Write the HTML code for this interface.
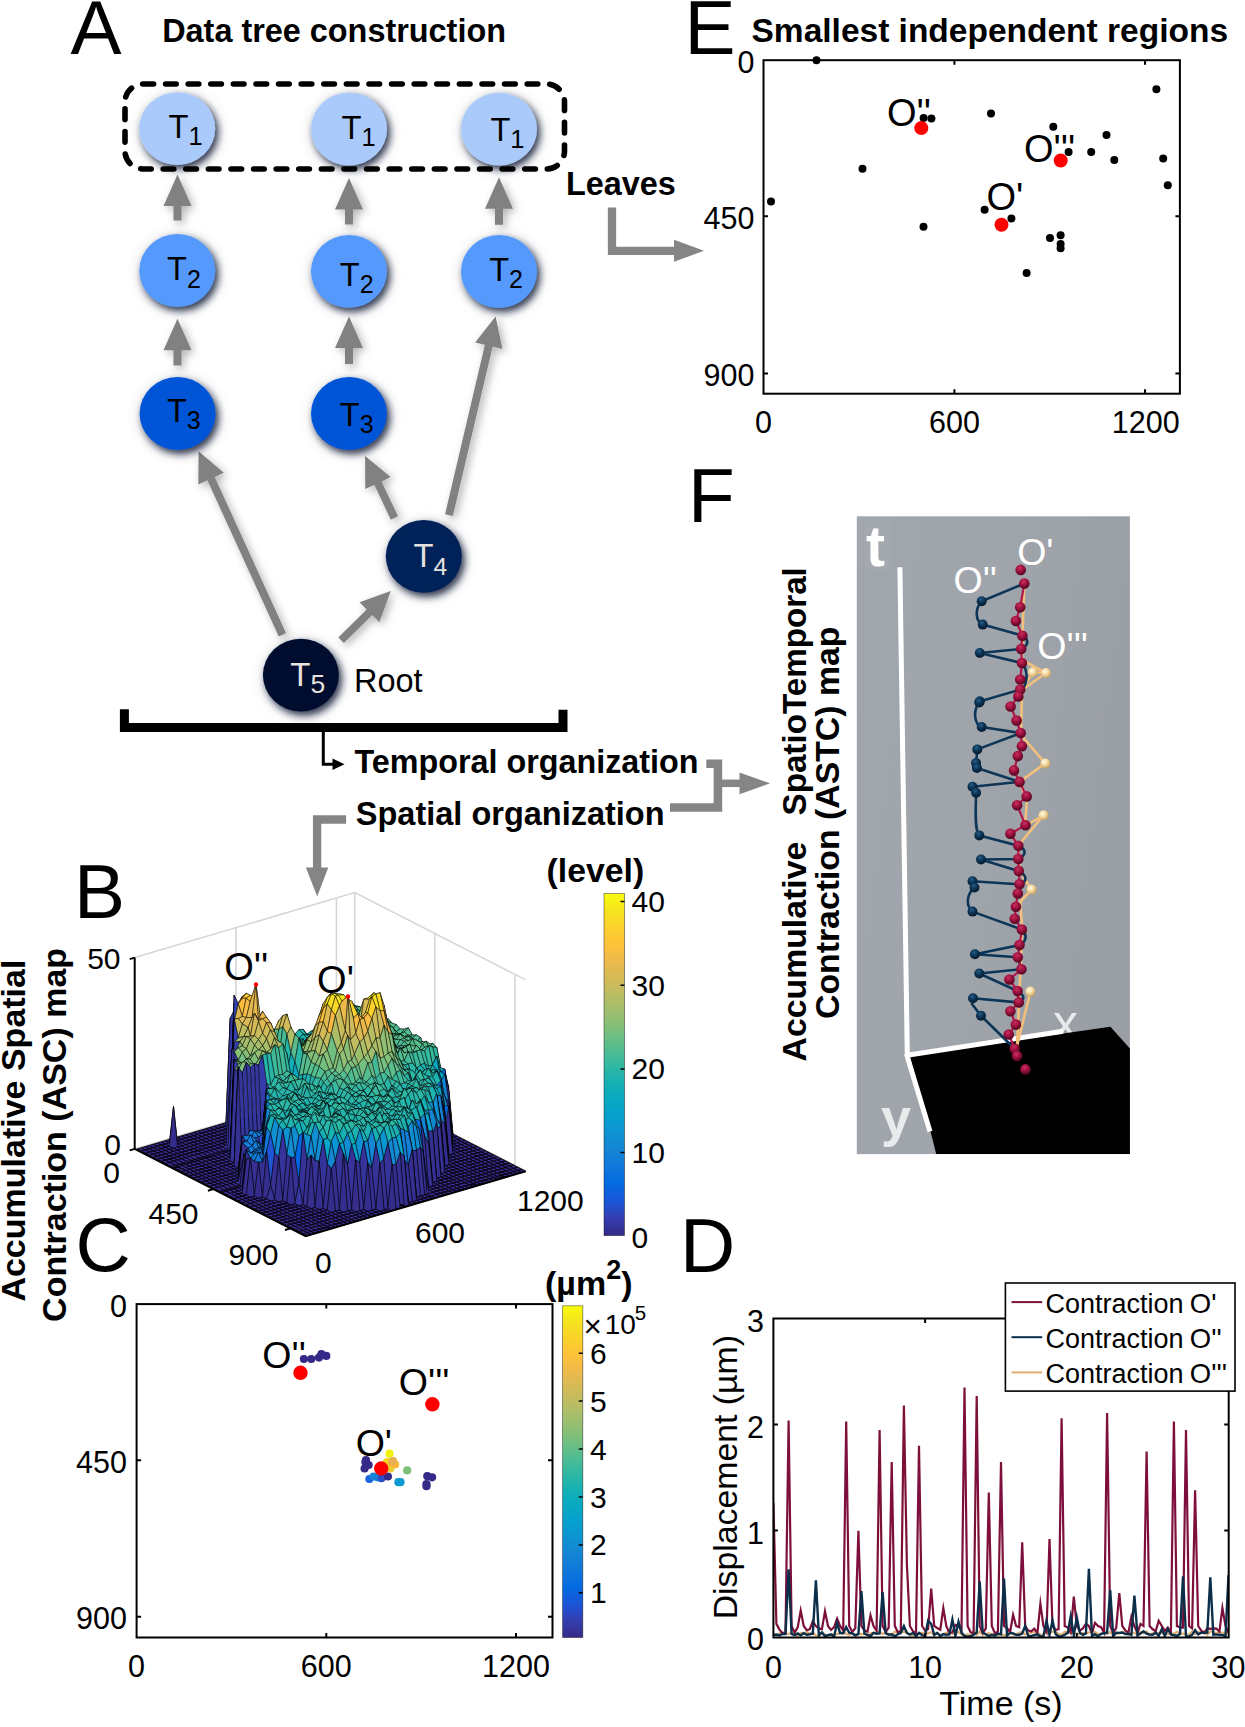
<!DOCTYPE html>
<html><head><meta charset="utf-8"><title>Figure</title>
<style>
html,body{margin:0;padding:0;background:#fff;}
svg{display:block;}
text{font-family:'Liberation Sans', Arial, Helvetica, sans-serif;}
.arr{fill:#818181;}
</style></head><body>
<svg width="1245" height="1727" viewBox="0 0 1245 1727">
<rect width="1245" height="1727" fill="#fff"/>

<defs>
<filter id="cshadow" x="-40%" y="-40%" width="190%" height="190%">
  <feGaussianBlur in="SourceAlpha" stdDeviation="7" result="b1"/>
  <feOffset in="b1" dx="1.5" dy="2.5" result="o1"/>
  <feFlood flood-color="#000" flood-opacity="0.25"/>
  <feComposite in2="o1" operator="in" result="s1"/>
  <feGaussianBlur in="SourceAlpha" stdDeviation="3.6" result="b2"/>
  <feOffset in="b2" dx="3.2" dy="4" result="o2"/>
  <feFlood flood-color="#1a2440" flood-opacity="0.85"/>
  <feComposite in2="o2" operator="in" result="s2"/>
  <feMerge><feMergeNode in="s1"/><feMergeNode in="s2"/><feMergeNode in="SourceGraphic"/></feMerge>
</filter>
<filter id="ashadow" x="-30%" y="-30%" width="160%" height="160%">
  <feGaussianBlur in="SourceAlpha" stdDeviation="4" result="b1"/>
  <feOffset in="b1" dx="3" dy="3" result="o1"/>
  <feFlood flood-color="#000" flood-opacity="0.3"/>
  <feComposite in2="o1" operator="in" result="s1"/>
  <feMerge><feMergeNode in="s1"/><feMergeNode in="SourceGraphic"/></feMerge>
</filter>
<linearGradient id="fbg" x1="0" y1="0" x2="1" y2="0.3">
<stop offset="0" stop-color="#a1a6ac"/><stop offset="0.5" stop-color="#a0a5ab"/><stop offset="1" stop-color="#9a9fa5"/></linearGradient>
<radialGradient id="gred" cx="0.42" cy="0.32" r="0.7"><stop offset="0" stop-color="#c8305e"/><stop offset="0.45" stop-color="#a01240"/><stop offset="1" stop-color="#4a061e"/></radialGradient>
<radialGradient id="gnavy" cx="0.42" cy="0.32" r="0.7"><stop offset="0" stop-color="#285e86"/><stop offset="0.45" stop-color="#0c3557"/><stop offset="1" stop-color="#03182a"/></radialGradient>
<radialGradient id="gtan" cx="0.4" cy="0.35" r="0.65"><stop offset="0" stop-color="#fffbe8"/><stop offset="0.5" stop-color="#f3d9a0"/><stop offset="1" stop-color="#c8a060"/></radialGradient>
<filter id="blur06"><feGaussianBlur stdDeviation="0.7"/></filter>
<clipPath id="dclip"><rect x="773.4" y="1300" width="455.3" height="337.4"/></clipPath>
</defs>

<text x="70.6" y="53.7" font-size="76.5">A</text>
<text x="162.2" y="41.5" font-size="32.4" font-weight="bold">Data tree construction</text>
<g filter="url(#ashadow)"><polygon points="177.5,174.5 191.5,206.0 181.5,206.0 181.5,220.5 173.5,220.5 173.5,206.0 163.5,206.0" class="arr"/><polygon points="349,178 363.0,209.5 353.0,209.5 353.0,224.6 345.0,224.6 345.0,209.5 335.0,209.5" class="arr"/><polygon points="499,177.3 513.0,208.8 503.0,208.8 503.0,224.7 495.0,224.7 495.0,208.8 485.0,208.8" class="arr"/><polygon points="177.5,318.8 191.5,350.3 181.5,350.3 181.5,365.5 173.5,365.5 173.5,350.3 163.5,350.3" class="arr"/><polygon points="349,316.4 363.0,347.9 353.0,347.9 353.0,364 345.0,364 345.0,347.9 335.0,347.9" class="arr"/><polygon points="198.6,451.3 223.8,472.8 214.7,476.9 286.0,633.1 278.8,636.5 207.4,480.3 198.3,484.4" class="arr"/><polygon points="365.1,456.0 390.6,477.1 381.5,481.4 398.0,516.3 390.8,519.7 374.3,484.8 365.3,489.1" class="arr"/><polygon points="390.8,591.1 379.3,622.2 372.3,615.0 343.9,643.1 338.3,637.5 366.7,609.4 359.6,602.3" class="arr"/><polygon points="495.6,316.5 502.4,348.9 492.6,346.6 452.9,516.1 445.1,514.3 484.9,344.8 475.1,342.5" class="arr"/></g>
<ellipse cx="177.2" cy="128.6" rx="38" ry="36.4" fill="#a9cafb" filter="url(#cshadow)"/>
<text x="168.60000000000002" y="137.8" font-size="32.7" fill="#000">T<tspan font-size="25.5" dy="7.2">1</tspan></text>
<ellipse cx="349" cy="129" rx="38" ry="36.4" fill="#a9cafb" filter="url(#cshadow)"/>
<text x="341.5" y="138.9" font-size="32.7" fill="#000">T<tspan font-size="25.5" dy="7.2">1</tspan></text>
<ellipse cx="499" cy="129.1" rx="38" ry="36.4" fill="#a9cafb" filter="url(#cshadow)"/>
<text x="490.40000000000003" y="141.2" font-size="32.7" fill="#000">T<tspan font-size="25.5" dy="7.2">1</tspan></text>
<ellipse cx="177.3" cy="270.5" rx="38" ry="36.4" fill="#5599fd" filter="url(#cshadow)"/>
<text x="167.10000000000002" y="280.4" font-size="32.5" fill="#000">T<tspan font-size="25" dy="7.2">2</tspan></text>
<ellipse cx="349" cy="271.3" rx="38" ry="36.4" fill="#5599fd" filter="url(#cshadow)"/>
<text x="339.8" y="285.8" font-size="32.5" fill="#000">T<tspan font-size="25" dy="7.2">2</tspan></text>
<ellipse cx="499" cy="271.5" rx="38" ry="36.4" fill="#5599fd" filter="url(#cshadow)"/>
<text x="489.2" y="280.5" font-size="32.5" fill="#000">T<tspan font-size="25" dy="7.2">2</tspan></text>
<ellipse cx="177.6" cy="413.5" rx="38" ry="36.4" fill="#0055d6" filter="url(#cshadow)"/>
<text x="167.0" y="421.7" font-size="32.5" fill="#000">T<tspan font-size="25" dy="7.2">3</tspan></text>
<ellipse cx="349" cy="413.5" rx="38" ry="36.4" fill="#0055d6" filter="url(#cshadow)"/>
<text x="339.8" y="425.8" font-size="32.5" fill="#000">T<tspan font-size="25" dy="7.2">3</tspan></text>
<ellipse cx="423.8" cy="556.3" rx="38" ry="36.4" fill="#002158" filter="url(#cshadow)"/>
<text x="413.6" y="567.4" font-size="32.7" fill="#e6e2df">T<tspan font-size="24.7" dy="7.2">4</tspan></text>
<ellipse cx="300.9" cy="675.1" rx="38" ry="36.4" fill="#02112e" filter="url(#cshadow)"/>
<text x="290.3" y="686.2" font-size="33" fill="#e6e2df">T<tspan font-size="26.5" dy="7.2">5</tspan></text>
<rect x="125" y="84" width="439.5" height="85" rx="18" ry="18" fill="none" stroke="#000" stroke-width="5.6" stroke-dasharray="10.6 12" stroke-linecap="round" stroke-dashoffset="0"/>
<text x="354" y="692.4" font-size="32.5">Root</text>
<text x="566" y="194.5" font-size="32.4" font-weight="bold">Leaves</text>
<path d="M612,207.4 V250.8 H690" fill="none" stroke="#858585" stroke-width="8.3"/>
<polygon points="704,250.8 674,239.8 674,261.8" fill="#858585"/>
<path d="M124.4,709.3 V727.6 H563 V709.7" fill="none" stroke="#000" stroke-width="9"/>
<path d="M323.3,732 V764.3 H336" fill="none" stroke="#000" stroke-width="3"/>
<polygon points="344.5,764.3 332.5,758.5 332.5,770" fill="#000"/>
<text x="354.5" y="772.6" font-size="32.3" font-weight="bold">Temporal organization</text>
<text x="355.8" y="825.2" font-size="32.5" font-weight="bold">Spatial organization</text>
<path d="M706.3,763.7 H717.9 V807.5 H670" fill="none" stroke="#858585" stroke-width="8.6"/>
<path d="M717.9,783.3 H745" fill="none" stroke="#858585" stroke-width="7.5"/>
<polygon points="770,783.3 739.5,772.4 739.5,794.2" fill="#858585"/>
<path d="M346.1,819.5 H317.1 V870" fill="none" stroke="#858585" stroke-width="8.3"/>
<polygon points="317.2,896.4 305.9,867.5 328.3,867.5" fill="#858585"/><text x="684.5" y="53.8" font-size="76.5">E</text>
<text x="751.5" y="41.6" font-size="33.5" font-weight="bold">Smallest independent regions</text>
<rect x="763.5" y="60.2" width="416.4000000000001" height="333.5" fill="none" stroke="#000" stroke-width="2"/>
<path d="M954.4,393.7 v-4.5 M954.4,60.2 v4.5 M1145,393.7 v-4.5 M1145,60.2 v4.5 M763.5,216.2 h4.5 M1179.9,216.2 h-4.5 M763.5,373.6 h4.5 M1179.9,373.6 h-4.5" stroke="#000" stroke-width="2" fill="none"/>
<text x="754.5" y="72.7" font-size="30.5" text-anchor="end">0</text>
<text x="754.5" y="228.7" font-size="30.5" text-anchor="end">450</text>
<text x="754.5" y="386.1" font-size="30.5" text-anchor="end">900</text>
<text x="763.5" y="432.9" font-size="30.5" text-anchor="middle">0</text>
<text x="954.4" y="432.9" font-size="30.5" text-anchor="middle">600</text>
<text x="1145.7" y="432.9" font-size="30.5" text-anchor="middle">1200</text>
<circle cx="816.5" cy="60.2" r="4" fill="#000"/>
<circle cx="862.5" cy="168.7" r="4" fill="#000"/>
<circle cx="771" cy="201.6" r="4" fill="#000"/>
<circle cx="923.5" cy="226.7" r="4" fill="#000"/>
<circle cx="923.6" cy="118" r="4" fill="#000"/>
<circle cx="931.4" cy="118.6" r="4" fill="#000"/>
<circle cx="991" cy="113.4" r="4" fill="#000"/>
<circle cx="1156.4" cy="89.3" r="4" fill="#000"/>
<circle cx="1053.3" cy="126.7" r="4" fill="#000"/>
<circle cx="1106.5" cy="135" r="4" fill="#000"/>
<circle cx="1068.6" cy="152" r="4" fill="#000"/>
<circle cx="1091.2" cy="152" r="4" fill="#000"/>
<circle cx="1114.3" cy="160.1" r="4" fill="#000"/>
<circle cx="1163.2" cy="158.6" r="4" fill="#000"/>
<circle cx="1167.8" cy="185.2" r="4" fill="#000"/>
<circle cx="984.6" cy="209.8" r="4" fill="#000"/>
<circle cx="1011.4" cy="218.5" r="4" fill="#000"/>
<circle cx="1050" cy="238" r="4" fill="#000"/>
<circle cx="1060.6" cy="235.2" r="4" fill="#000"/>
<circle cx="1060.6" cy="243.9" r="4" fill="#000"/>
<circle cx="1060.6" cy="248.2" r="4" fill="#000"/>
<circle cx="1026.6" cy="273.1" r="4" fill="#000"/>
<circle cx="921.3" cy="128.1" r="7" fill="#f00"/>
<circle cx="1060.7" cy="160.5" r="7" fill="#f00"/>
<circle cx="1001.5" cy="224.8" r="7" fill="#f00"/>
<text x="887" y="125.6" font-size="38">O''</text>
<text x="1024" y="161.8" font-size="38">O'''</text>
<text x="986.5" y="210.4" font-size="38">O'</text><text x="688" y="521.8" font-size="76.5">F</text>
<text transform="translate(805.7,1061.5) rotate(-90)" font-size="33.8" font-weight="bold">Accumulative</text>
<text transform="translate(805.7,815.5) rotate(-90)" font-size="33.2" font-weight="bold">SpatioTemporal</text>
<text transform="translate(839,1019) rotate(-90)" font-size="33.8" font-weight="bold">Contraction (ASTC) map</text>
<rect x="856.8" y="516.3" width="273.10000000000014" height="637.8" fill="url(#fbg)"/>
<rect x="864" y="519.5" width="28" height="50" fill="#a6abb0" opacity="0.6"/>
<text x="866" y="566" font-size="57" fill="#fff" font-weight="bold" font-family="DejaVu Sans, sans-serif" filter="url(#blur06)">t</text>
<text x="1053" y="1040" font-size="50" fill="#f2f2f2" font-family="DejaVu Sans, sans-serif" filter="url(#blur06)" opacity="0.9">x</text>
<polygon points="909.4,1055.4 1110.4,1026.8 1129.9,1048.4 1129.9,1154.1 936.2,1154.1 930.4,1131.1" fill="#000"/>
<g stroke="#fff" stroke-width="5" fill="none" stroke-linecap="butt"><path d="M899.9,567.2 L907.3,1055.5"/><path d="M905.5,1055.5 L1063,1031.3"/><path d="M906.5,1054 L930,1131.5"/></g>
<text x="881" y="1136" font-size="54" fill="#f2f2f2" font-weight="bold" font-family="DejaVu Sans, sans-serif" filter="url(#blur06)" opacity="0.9">y</text>
<path d="M1024.3,583.6 L1023,620 L1022,660 L1046,673 L1022,690 L1021,735 L1045.3,763.4 L1019.5,781.9 L1027,800 L1025,826 L1043.6,815.2 L1018,846 L1020,872 L1031.6,889.6 L1020,902 L1022,925 L1021,960 L1017,1046" fill="none" stroke="#f2bf7c" stroke-width="2.6" stroke-linejoin="round"/>
<path d="M1030.4,991.6 L1017,1046 M1046,673 L1032.8,672.3 L1022,690" fill="none" stroke="#f2bf7c" stroke-width="2.6"/>
<path d="M1024.3,583.6 L981.7,601.2 C974,610 976,622 982.7,624.6 L1022.4,635.7 C1030,640 1028,646 1021.2,648.9 L979.8,653 L1021.9,663.1 C1030,672 1026,690 1020.2,689.6 L979.5,701.5 C972,712 975,725 981.7,727 L1020.7,733 L977.3,749.4 L976.1,763.1 L976.9,768 L1019.5,781.9 L972.5,786.7 L976.1,792.8 C976,805 974,830 979.3,835.4 L1018.3,845.8 C1028,850 1025,856 1018.3,859 L981,859.5 L1018.8,871.1 C1028,876 1027,882 1019.5,884.3 L972.5,881.2 L974.5,887.5 C966,895 966,906 972.5,911.6 L1021.9,929.6 C1028,935 1026,942 1019.5,945.1 L974.9,954.2 L1017.8,957.3 L1021.4,969.2 L979.3,973.5 L1017.6,991.1 C1026,996 1024,1000 1018.8,1002.4 L973,998.3 L972,1004 L981,1015.7 L1014.7,1048.7" fill="none" stroke="#0c3558" stroke-width="2.6" stroke-linejoin="round"/>
<path d="M1024.3,583.6 L1020.2,607.2 L1015.9,621 L1022.4,635.7 L1021.2,648.9 L1021.9,663.1 L1020.2,679.5 L1020.2,689.6 L1018.3,696.4 L1010.6,706.5 L1016.6,720.5 L1020.7,733 L1021.9,746.3 L1017.8,756.1 L1014,770.4 L1019.5,781.9 L1026.7,796.4 L1017.1,805.3 L1025.5,825.3 L1010.4,833.7 L1018.3,845.8 L1018.3,859 L1018.8,871.1 L1019.5,884.3 L1017.8,893.5 L1015.9,906.7 L1014.7,918.8 L1021.9,929.6 L1019.5,945.1 L1017.8,957.3 L1021.4,969.2 L1009.4,979.5 L1017.6,991.1 L1018.8,1002.4 L1010.4,1011.3 L1015.9,1024.6 L1008.7,1034.5 L1014.7,1048.7 L1017.1,1056.1" fill="none" stroke="#b3174a" stroke-width="2.2"/>
<circle cx="981.7" cy="601.2" r="5" fill="url(#gnavy)"/>
<circle cx="982.7" cy="624.6" r="5" fill="url(#gnavy)"/>
<circle cx="979.8" cy="653" r="5" fill="url(#gnavy)"/>
<circle cx="979.8" cy="701.2" r="5" fill="url(#gnavy)"/>
<circle cx="979.3" cy="702.4" r="5" fill="url(#gnavy)"/>
<circle cx="981.7" cy="727" r="5" fill="url(#gnavy)"/>
<circle cx="977.3" cy="749.4" r="5" fill="url(#gnavy)"/>
<circle cx="976.1" cy="763.1" r="5" fill="url(#gnavy)"/>
<circle cx="976.9" cy="768" r="5" fill="url(#gnavy)"/>
<circle cx="972.5" cy="786.7" r="5" fill="url(#gnavy)"/>
<circle cx="976.1" cy="792.8" r="5" fill="url(#gnavy)"/>
<circle cx="979.3" cy="835.4" r="5" fill="url(#gnavy)"/>
<circle cx="981" cy="859.5" r="5" fill="url(#gnavy)"/>
<circle cx="972.5" cy="881.2" r="5" fill="url(#gnavy)"/>
<circle cx="974.5" cy="887.5" r="5" fill="url(#gnavy)"/>
<circle cx="972.5" cy="911.6" r="5" fill="url(#gnavy)"/>
<circle cx="974.9" cy="954.2" r="5" fill="url(#gnavy)"/>
<circle cx="979.3" cy="973.5" r="5" fill="url(#gnavy)"/>
<circle cx="973" cy="998.3" r="5" fill="url(#gnavy)"/>
<circle cx="981" cy="1015.7" r="5" fill="url(#gnavy)"/>
<circle cx="1046" cy="673" r="5" fill="url(#gtan)"/>
<circle cx="1032.8" cy="672.3" r="5" fill="url(#gtan)"/>
<circle cx="1045.3" cy="763.4" r="5" fill="url(#gtan)"/>
<circle cx="1043.6" cy="815.2" r="5" fill="url(#gtan)"/>
<circle cx="1031.6" cy="889.6" r="5" fill="url(#gtan)"/>
<circle cx="1030.4" cy="991.6" r="5" fill="url(#gtan)"/>
<circle cx="1020.7" cy="569.9" r="5.3" fill="url(#gred)"/>
<circle cx="1024.3" cy="583.6" r="5.3" fill="url(#gred)"/>
<circle cx="1020.2" cy="607.2" r="5.3" fill="url(#gred)"/>
<circle cx="1015.9" cy="621" r="5.3" fill="url(#gred)"/>
<circle cx="1022.4" cy="635.7" r="5.3" fill="url(#gred)"/>
<circle cx="1021.2" cy="648.9" r="5.3" fill="url(#gred)"/>
<circle cx="1021.9" cy="663.1" r="5.3" fill="url(#gred)"/>
<circle cx="1020.2" cy="679.5" r="5.3" fill="url(#gred)"/>
<circle cx="1020.2" cy="689.6" r="5.3" fill="url(#gred)"/>
<circle cx="1018.3" cy="696.4" r="5.3" fill="url(#gred)"/>
<circle cx="1010.6" cy="706.5" r="5.3" fill="url(#gred)"/>
<circle cx="1016.6" cy="720.5" r="5.3" fill="url(#gred)"/>
<circle cx="1020.7" cy="733" r="5.3" fill="url(#gred)"/>
<circle cx="1021.9" cy="746.3" r="5.3" fill="url(#gred)"/>
<circle cx="1017.8" cy="756.1" r="5.3" fill="url(#gred)"/>
<circle cx="1014" cy="770.4" r="5.3" fill="url(#gred)"/>
<circle cx="1019.5" cy="781.9" r="5.3" fill="url(#gred)"/>
<circle cx="1026.7" cy="796.4" r="5.3" fill="url(#gred)"/>
<circle cx="1017.1" cy="805.3" r="5.3" fill="url(#gred)"/>
<circle cx="1025.5" cy="825.3" r="5.3" fill="url(#gred)"/>
<circle cx="1010.4" cy="833.7" r="5.3" fill="url(#gred)"/>
<circle cx="1018.3" cy="845.8" r="5.3" fill="url(#gred)"/>
<circle cx="1018.3" cy="859" r="5.3" fill="url(#gred)"/>
<circle cx="1018.8" cy="871.1" r="5.3" fill="url(#gred)"/>
<circle cx="1019.5" cy="884.3" r="5.3" fill="url(#gred)"/>
<circle cx="1017.8" cy="893.5" r="5.3" fill="url(#gred)"/>
<circle cx="1015.9" cy="906.7" r="5.3" fill="url(#gred)"/>
<circle cx="1014.7" cy="918.8" r="5.3" fill="url(#gred)"/>
<circle cx="1021.9" cy="929.6" r="5.3" fill="url(#gred)"/>
<circle cx="1019.5" cy="945.1" r="5.3" fill="url(#gred)"/>
<circle cx="1017.8" cy="957.3" r="5.3" fill="url(#gred)"/>
<circle cx="1021.4" cy="969.2" r="5.3" fill="url(#gred)"/>
<circle cx="1009.4" cy="979.5" r="5.3" fill="url(#gred)"/>
<circle cx="1017.6" cy="991.1" r="5.3" fill="url(#gred)"/>
<circle cx="1018.8" cy="1002.4" r="5.3" fill="url(#gred)"/>
<circle cx="1010.4" cy="1011.3" r="5.3" fill="url(#gred)"/>
<circle cx="1015.9" cy="1024.6" r="5.3" fill="url(#gred)"/>
<circle cx="1008.7" cy="1034.5" r="5.3" fill="url(#gred)"/>
<circle cx="1014.7" cy="1048.7" r="5.3" fill="url(#gred)"/>
<circle cx="1017.1" cy="1056.1" r="5.3" fill="url(#gred)"/>
<circle cx="1025.5" cy="1069.4" r="5.3" fill="url(#gred)"/>
<g fill="#fff" font-size="37.5"><text x="1017.2" y="564.6">O'</text><text x="953.5" y="592.8">O''</text><text x="1037.3" y="658.6">O'''</text></g><text x="74" y="917.6" font-size="76.5">B</text>
<path d="M134.7,957.6 L354.7,892.6 L525.7,979.9 M354.7,892.6 L354.7,1083.9 M235.9,927.7 L235.9,1119.0 M336.4,898.0 L336.4,1089.3 M434.8,933.5 L434.8,1124.8 M514.9,974.4 L514.9,1165.7 M134.7,1148.9 L354.7,1083.9 L525.7,1171.2" stroke="#d6d6d6" stroke-width="1.6" fill="none"/>
<polygon points="137.0,1149.0 355.7,1084.4 525.7,1171.2 307.0,1235.8" fill="#3b2c93"/>
<path d="M137.0,1149.0L307.0,1235.8M141.1,1147.8L311.1,1234.6M145.1,1146.6L315.1,1233.4M149.2,1145.4L319.2,1232.2M153.2,1144.2L323.2,1231.0M157.3,1143.1L327.3,1229.8M161.3,1141.9L331.3,1228.6M165.4,1140.7L335.4,1227.4M169.4,1139.5L339.4,1226.2M173.5,1138.3L343.5,1225.0M177.5,1137.1L347.5,1223.8M181.6,1135.9L351.6,1222.6M185.6,1134.7L355.6,1221.5M189.7,1133.5L359.7,1220.3M193.7,1132.3L363.7,1219.1M197.8,1131.1L367.8,1217.9M201.8,1129.9L371.8,1216.7M205.9,1128.7L375.9,1215.5M209.9,1127.5L379.9,1214.3M214.0,1126.3L384.0,1213.1M218.0,1125.1L388.0,1211.9M221.9,1124.0L391.8,1210.8M226.1,1122.7L396.1,1209.5M230.2,1121.5L400.2,1208.3M234.2,1120.3L404.2,1207.1M238.3,1119.1L408.3,1205.9M242.3,1117.9L412.3,1204.7M246.4,1116.7L416.4,1203.5M250.4,1115.5L420.4,1202.3M254.5,1114.3L424.5,1201.1M258.5,1113.1L428.5,1199.9M262.6,1111.9L432.6,1198.7M265.2,1111.2L435.2,1197.9M270.7,1109.5L440.7,1196.3M274.7,1108.4L444.7,1195.1M278.8,1107.2L448.8,1193.9M282.8,1106.0L452.8,1192.7M286.9,1104.8L456.9,1191.5M290.9,1103.6L460.9,1190.3M295.0,1102.4L465.0,1189.1M299.0,1101.2L469.0,1188.0M303.1,1100.0L473.1,1186.8M307.1,1098.8L477.1,1185.6M311.2,1097.6L481.2,1184.4M315.2,1096.4L485.2,1183.2M319.3,1095.2L489.3,1182.0M323.3,1094.0L493.3,1180.8M327.4,1092.8L497.4,1179.6M331.4,1091.6L501.4,1178.4M335.5,1090.4L505.5,1177.2M339.5,1089.2L509.5,1176.0M343.6,1088.0L513.6,1174.8M347.6,1086.8L517.6,1173.6M351.7,1085.6L521.7,1172.4M355.7,1084.4L525.7,1171.2M137.0,1149.0L355.7,1084.4M141.1,1151.1L359.8,1086.5M145.1,1153.2L363.8,1088.6M149.2,1155.2L367.9,1090.6M153.2,1157.3L371.9,1092.7M157.3,1159.4L376.0,1094.8M161.3,1161.4L380.0,1096.8M165.4,1163.5L384.1,1098.9M171.2,1166.5L389.9,1101.8M173.5,1167.6L392.1,1103.0M177.5,1169.7L396.2,1105.1M181.6,1171.8L400.2,1107.2M185.6,1173.8L404.3,1109.2M189.7,1175.9L408.3,1111.3M193.7,1178.0L412.4,1113.3M197.8,1180.0L416.4,1115.4M201.8,1182.1L420.5,1117.5M205.8,1184.2L424.5,1119.5M209.9,1186.2L428.6,1121.6M213.9,1188.3L432.6,1123.7M219.8,1191.3L438.5,1126.7M222.0,1192.4L440.7,1127.8M226.1,1194.5L444.8,1129.9M230.1,1196.6L448.8,1131.9M234.2,1198.6L452.9,1134.0M238.2,1200.7L456.9,1136.1M242.3,1202.8L460.9,1138.1M246.3,1204.8L465.0,1140.2M250.4,1206.9L469.0,1142.3M254.4,1209.0L473.1,1144.3M258.5,1211.0L477.1,1146.4M262.5,1213.1L481.2,1148.5M266.5,1215.1L485.2,1150.5M270.6,1217.2L489.3,1152.6M274.6,1219.3L493.3,1154.7M278.7,1221.3L497.4,1156.7M282.7,1223.4L501.4,1158.8M286.8,1225.5L505.5,1160.9M290.8,1227.5L509.5,1162.9M294.9,1229.6L513.6,1165.0M298.9,1231.7L517.6,1167.1M303.0,1233.7L521.7,1169.1M307.0,1235.8L525.7,1171.2" stroke="#000" stroke-width="1.1" stroke-opacity="0.85" fill="none"/>
<g stroke="#000" stroke-width="0.6" stroke-opacity="0.85" stroke-linejoin="round"><path d="M351.7,1045.2L355.7,1044.4L359.8,1041.2L355.7,1028.2Z" fill="#0e91d2"/><path d="M347.6,1039.0L351.7,1045.2L355.7,1028.2L351.7,1026.5Z" fill="#079dcf"/><path d="M355.7,1028.2L359.8,1041.2L363.8,1043.8L359.8,1025.0Z" fill="#069ece"/><path d="M343.6,1048.8L347.6,1039.0L351.7,1026.5L347.6,1021.6Z" fill="#1486d3"/><path d="M351.7,1026.5L355.7,1028.2L359.8,1025.0L355.7,1005.8Z" fill="#06a7c5"/><path d="M339.5,1038.3L343.6,1048.8L347.6,1021.6L343.6,1021.0Z" fill="#1487d3"/><path d="M359.8,1025.0L363.8,1043.8L367.9,1052.0L363.8,1026.4Z" fill="#1485d4"/><path d="M347.6,1021.6L351.7,1026.5L355.7,1005.8L351.7,1002.8Z" fill="#09abbf"/><path d="M335.5,1043.6L339.5,1038.3L343.6,1021.0L339.5,1036.1Z" fill="#0c94d2"/><path d="M355.7,1005.8L359.8,1025.0L363.8,1026.4L359.8,1006.7Z" fill="#28b6a8"/><path d="M343.6,1021.0L347.6,1021.6L351.7,1002.8L347.6,1010.0Z" fill="#31b8a2"/><path d="M331.4,1043.9L335.5,1043.6L339.5,1036.1L335.5,1034.8Z" fill="#079dcf"/><path d="M363.8,1026.4L367.9,1052.0L371.9,1048.7L367.9,1029.3Z" fill="#1485d4"/><path d="M351.7,1002.8L355.7,1005.8L359.8,1006.7L355.7,1006.9Z" fill="#58bd8c"/><path d="M339.5,1036.1L343.6,1021.0L347.6,1010.0L343.6,1007.1Z" fill="#06a5c8"/><path d="M327.4,1041.5L331.4,1043.9L335.5,1034.8L331.4,1028.5Z" fill="#06a2cb"/><path d="M359.8,1006.7L363.8,1026.4L367.9,1029.3L363.8,1009.3Z" fill="#28b6a8"/><path d="M347.6,1010.0L351.7,1002.8L355.7,1006.9L351.7,1008.7Z" fill="#57bd8d"/><path d="M335.5,1034.8L339.5,1036.1L343.6,1007.1L339.5,1012.2Z" fill="#06a4c9"/><path d="M367.9,1029.3L371.9,1048.7L376.0,1051.7L371.9,1028.8Z" fill="#118dd2"/><path d="M323.3,1079.3L327.4,1041.5L331.4,1028.5L327.4,1028.9Z" fill="#0b5edf"/><path d="M355.7,1006.9L359.8,1006.7L363.8,1009.3L359.8,1010.9Z" fill="#54bd8e"/><path d="M343.6,1007.1L347.6,1010.0L351.7,1008.7L347.6,1007.0Z" fill="#57bd8c"/><path d="M331.4,1028.5L335.5,1034.8L339.5,1012.2L335.5,1013.7Z" fill="#06a7c5"/><path d="M363.8,1009.3L367.9,1029.3L371.9,1028.8L367.9,1009.5Z" fill="#0cadbc"/><path d="M319.3,1050.9L323.3,1079.3L327.4,1028.9L323.3,1033.3Z" fill="#0c5dde"/><path d="M351.7,1008.7L355.7,1006.9L359.8,1010.9L355.7,1009.4Z" fill="#58bd8c"/><path d="M339.5,1012.2L343.6,1007.1L347.6,1007.0L343.6,1013.4Z" fill="#55bd8e"/><path d="M371.9,1028.8L376.0,1051.7L380.0,1055.2L376.0,1039.8Z" fill="#138ad3"/><path d="M327.4,1028.9L331.4,1028.5L335.5,1013.7L331.4,1012.6Z" fill="#28b6a7"/><path d="M359.8,1010.9L363.8,1009.3L367.9,1009.5L363.8,1012.4Z" fill="#54bd8e"/><path d="M315.2,1053.0L319.3,1050.9L323.3,1033.3L319.3,1033.5Z" fill="#069fce"/><path d="M347.6,1007.0L351.7,1008.7L355.7,1009.4L351.7,1010.6Z" fill="#5ebe89"/><path d="M335.5,1013.7L339.5,1012.2L343.6,1013.4L339.5,1011.7Z" fill="#4dbc92"/><path d="M367.9,1009.5L371.9,1028.8L376.0,1039.8L371.9,1012.8Z" fill="#06a7c6"/><path d="M323.3,1033.3L327.4,1028.9L331.4,1012.6L327.4,1015.3Z" fill="#27b5a8"/><path d="M355.7,1009.4L359.8,1010.9L363.8,1012.4L359.8,1014.2Z" fill="#54bd8e"/><path d="M311.2,1058.5L315.2,1053.0L319.3,1033.5L315.2,1038.5Z" fill="#1486d4"/><path d="M343.6,1013.4L347.6,1007.0L351.7,1010.6L347.6,1012.1Z" fill="#5abd8b"/><path d="M376.0,1039.8L380.0,1055.2L384.1,1047.8L380.0,1033.1Z" fill="#128ad3"/><path d="M331.4,1012.6L335.5,1013.7L339.5,1011.7L335.5,1011.5Z" fill="#54bd8e"/><path d="M363.8,1012.4L367.9,1009.5L371.9,1012.8L367.9,1014.3Z" fill="#56bd8d"/><path d="M319.3,1033.5L323.3,1033.3L327.4,1015.3L323.3,1010.8Z" fill="#0bacbd"/><path d="M351.7,1010.6L355.7,1009.4L359.8,1014.2L355.7,1015.3Z" fill="#57bd8d"/><path d="M307.1,1058.1L311.2,1058.5L315.2,1038.5L311.2,1034.7Z" fill="#1486d4"/><path d="M339.5,1011.7L343.6,1013.4L347.6,1012.1L343.6,1017.0Z" fill="#53bd8f"/><path d="M371.9,1012.8L376.0,1039.8L380.0,1033.1L376.0,1017.0Z" fill="#06a7c6"/><path d="M327.4,1015.3L331.4,1012.6L335.5,1011.5L331.4,1015.8Z" fill="#53bd8e"/><path d="M359.8,1014.2L363.8,1012.4L367.9,1014.3L363.8,1017.0Z" fill="#51bd90"/><path d="M315.2,1038.5L319.3,1033.5L323.3,1010.8L319.3,1023.9Z" fill="#07a9c2"/><path d="M347.6,1012.1L351.7,1010.6L355.7,1015.3L351.7,1014.7Z" fill="#59bd8c"/><path d="M303.1,1079.3L307.1,1058.1L311.2,1034.7L307.1,1035.2Z" fill="#036ae1"/><path d="M335.5,1011.5L339.5,1011.7L343.6,1017.0L339.5,1017.4Z" fill="#55bd8e"/><path d="M367.9,1014.3L371.9,1012.8L376.0,1017.0L371.9,1013.2Z" fill="#56bd8d"/><path d="M323.3,1010.8L327.4,1015.3L331.4,1015.8L327.4,1016.1Z" fill="#56bd8d"/><path d="M380.0,1033.1L384.1,1047.8L389.9,1057.3L385.8,1032.4Z" fill="#0f90d2"/><path d="M355.7,1015.3L359.8,1014.2L363.8,1017.0L359.8,1014.8Z" fill="#53bd8f"/><path d="M311.2,1034.7L315.2,1038.5L319.3,1023.9L315.2,1032.2Z" fill="#14b0b6"/><path d="M343.6,1017.0L347.6,1012.1L351.7,1014.7L347.6,1017.8Z" fill="#54bd8e"/><path d="M299.0,1058.5L303.1,1079.3L307.1,1035.2L303.1,1040.2Z" fill="#036ae1"/><path d="M331.4,1015.8L335.5,1011.5L339.5,1017.4L335.5,1018.5Z" fill="#54bd8e"/><path d="M363.8,1017.0L367.9,1014.3L371.9,1013.2L367.9,1020.0Z" fill="#53bd8f"/><path d="M319.3,1023.9L323.3,1010.8L327.4,1016.1L323.3,1027.3Z" fill="#44bb97"/><path d="M376.0,1017.0L380.0,1033.1L385.8,1032.4L381.8,1015.1Z" fill="#30b7a2"/><path d="M351.7,1014.7L355.7,1015.3L359.8,1014.8L355.7,1019.1Z" fill="#55bd8d"/><path d="M307.1,1035.2L311.2,1034.7L315.2,1032.2L311.2,1031.1Z" fill="#14b0b5"/><path d="M339.5,1017.4L343.6,1017.0L347.6,1017.8L343.6,1020.4Z" fill="#4dbc92"/><path d="M295.0,1056.0L299.0,1058.5L303.1,1040.2L299.0,1040.0Z" fill="#069fce"/><path d="M327.4,1016.1L331.4,1015.8L335.5,1018.5L331.4,1016.1Z" fill="#55bd8d"/><path d="M385.8,1032.4L389.9,1057.3L392.1,1060.3L388.1,1039.6Z" fill="#118cd2"/><path d="M359.8,1014.8L363.8,1017.0L367.9,1020.0L363.8,1020.0Z" fill="#50bc90"/><path d="M315.2,1032.2L319.3,1023.9L323.3,1027.3L319.3,1029.9Z" fill="#26b5a9"/><path d="M371.9,1013.2L376.0,1017.0L381.8,1015.1L377.7,1021.2Z" fill="#57bd8d"/><path d="M347.6,1017.8L351.7,1014.7L355.7,1019.1L351.7,1014.3Z" fill="#58bd8c"/><path d="M303.1,1040.2L307.1,1035.2L311.2,1031.1L307.1,1034.1Z" fill="#12b0b6"/><path d="M335.5,1018.5L339.5,1017.4L343.6,1020.4L339.5,1020.7Z" fill="#4dbc92"/><path d="M290.9,1059.5L295.0,1056.0L299.0,1040.0L295.0,1038.0Z" fill="#108fd2"/><path d="M323.3,1027.3L327.4,1016.1L331.4,1016.1L327.4,1030.2Z" fill="#40ba99"/><path d="M381.8,1015.1L385.8,1032.4L388.1,1039.6L384.0,1023.0Z" fill="#0cadbc"/><path d="M355.7,1019.1L359.8,1014.8L363.8,1020.0L359.8,1027.3Z" fill="#4bbc93"/><path d="M311.2,1031.1L315.2,1032.2L319.3,1029.9L315.2,1029.3Z" fill="#22b4ab"/><path d="M367.9,1020.0L371.9,1013.2L377.7,1021.2L373.7,1013.1Z" fill="#5bbe8a"/><path d="M388.1,1039.6L392.1,1060.3L396.2,1079.7L392.1,1043.1Z" fill="#0971de"/><path d="M343.6,1020.4L347.6,1017.8L351.7,1014.3L347.6,1024.1Z" fill="#52bd8f"/><path d="M299.0,1040.0L303.1,1040.2L307.1,1034.1L303.1,1029.4Z" fill="#13b0b6"/><path d="M331.4,1016.1L335.5,1018.5L339.5,1020.7L335.5,1019.6Z" fill="#55bd8d"/><path d="M286.9,1104.5L290.9,1059.5L295.0,1038.0L290.9,1044.7Z" fill="#36369e"/><path d="M319.3,1029.9L323.3,1027.3L327.4,1030.2L323.3,1036.8Z" fill="#24b5aa"/><path d="M377.7,1021.2L381.8,1015.1L384.0,1023.0L380.0,1021.4Z" fill="#50bc90"/><path d="M351.7,1014.3L355.7,1019.1L359.8,1027.3L355.7,1020.0Z" fill="#51bc90"/><path d="M307.1,1034.1L311.2,1031.1L315.2,1029.3L311.2,1035.5Z" fill="#20b4ad"/><path d="M363.8,1020.0L367.9,1020.0L373.7,1013.1L369.6,1019.9Z" fill="#5bbd8b"/><path d="M384.0,1023.0L388.1,1039.6L392.1,1043.1L388.1,1018.8Z" fill="#09acbe"/><path d="M339.5,1020.7L343.6,1020.4L347.6,1024.1L343.6,1019.9Z" fill="#4dbc92"/><path d="M295.0,1038.0L299.0,1040.0L303.1,1029.4L299.0,1029.6Z" fill="#1cb3b0"/><path d="M327.4,1030.2L331.4,1016.1L335.5,1019.6L331.4,1032.7Z" fill="#40ba99"/><path d="M282.8,1059.7L286.9,1104.5L290.9,1044.7L286.9,1039.2Z" fill="#36369e"/><path d="M315.2,1029.3L319.3,1029.9L323.3,1036.8L319.3,1030.6Z" fill="#26b5a9"/><path d="M373.7,1013.1L377.7,1021.2L380.0,1021.4L376.0,1026.0Z" fill="#54bd8e"/><path d="M392.1,1043.1L396.2,1079.7L400.2,1063.3L396.2,1044.0Z" fill="#0971de"/><path d="M347.6,1024.1L351.7,1014.3L355.7,1020.0L351.7,1021.3Z" fill="#58bd8c"/><path d="M303.1,1029.4L307.1,1034.1L311.2,1035.5L307.1,1035.3Z" fill="#21b4ac"/><path d="M359.8,1027.3L363.8,1020.0L369.6,1019.9L365.6,1021.7Z" fill="#4dbc92"/><path d="M380.0,1021.4L384.0,1023.0L388.1,1018.8L384.0,1027.0Z" fill="#4cbc92"/><path d="M335.5,1019.6L339.5,1020.7L343.6,1019.9L339.5,1025.3Z" fill="#52bd8f"/><path d="M290.9,1044.7L295.0,1038.0L299.0,1029.6L295.0,1034.0Z" fill="#18b2b2"/><path d="M323.3,1036.8L327.4,1030.2L331.4,1032.7L327.4,1035.8Z" fill="#22b4ac"/><path d="M278.8,1059.2L282.8,1059.7L286.9,1039.2L282.8,1044.9Z" fill="#06a3ca"/><path d="M311.2,1035.5L315.2,1029.3L319.3,1030.6L315.2,1037.3Z" fill="#25b5aa"/><path d="M369.6,1019.9L373.7,1013.1L376.0,1026.0L371.9,1022.6Z" fill="#5abd8b"/><path d="M388.1,1018.8L392.1,1043.1L396.2,1044.0L392.1,1023.1Z" fill="#09acbe"/><path d="M343.6,1019.9L347.6,1024.1L351.7,1021.3L347.6,1022.2Z" fill="#54bd8e"/><path d="M299.0,1029.6L303.1,1029.4L307.1,1035.3L303.1,1034.0Z" fill="#2ab6a6"/><path d="M355.7,1020.0L359.8,1027.3L365.6,1021.7L361.5,1022.9Z" fill="#4fbc90"/><path d="M376.0,1026.0L380.0,1021.4L384.0,1027.0L380.0,1021.5Z" fill="#4bbc93"/><path d="M331.4,1032.7L335.5,1019.6L339.5,1025.3L335.5,1036.4Z" fill="#38b99d"/><path d="M286.9,1039.2L290.9,1044.7L295.0,1034.0L290.9,1034.7Z" fill="#17b1b3"/><path d="M319.3,1030.6L323.3,1036.8L327.4,1035.8L323.3,1036.0Z" fill="#22b4ab"/><path d="M396.2,1044.0L400.2,1063.3L404.3,1065.7L400.2,1041.2Z" fill="#108ed2"/><path d="M274.7,1095.6L278.8,1059.2L282.8,1044.9L278.8,1048.3Z" fill="#1757d9"/><path d="M307.1,1035.3L311.2,1035.5L315.2,1037.3L311.2,1033.9Z" fill="#21b4ac"/><path d="M365.6,1021.7L369.6,1019.9L371.9,1022.6L367.9,1025.6Z" fill="#56bd8d"/><path d="M384.0,1027.0L388.1,1018.8L392.1,1023.1L388.1,1021.5Z" fill="#56bd8d"/><path d="M339.5,1025.3L343.6,1019.9L347.6,1022.2L343.6,1026.1Z" fill="#53bd8f"/><path d="M295.0,1034.0L299.0,1029.6L303.1,1034.0L299.0,1038.8Z" fill="#27b5a8"/><path d="M351.7,1021.3L355.7,1020.0L361.5,1022.9L357.5,1026.7Z" fill="#56bd8d"/><path d="M371.9,1022.6L376.0,1026.0L380.0,1021.5L375.9,1026.0Z" fill="#51bc90"/><path d="M327.4,1035.8L331.4,1032.7L335.5,1036.4L331.4,1041.3Z" fill="#1fb4ad"/><path d="M282.8,1044.9L286.9,1039.2L290.9,1034.7L286.9,1035.0Z" fill="#1ab2b1"/><path d="M315.2,1037.3L319.3,1030.6L323.3,1036.0L319.3,1032.5Z" fill="#29b6a7"/><path d="M392.1,1023.1L396.2,1044.0L400.2,1041.2L396.2,1024.6Z" fill="#2cb7a5"/><path d="M270.7,1066.8L274.7,1095.6L278.8,1048.3L274.7,1045.0Z" fill="#1857d8"/><path d="M303.1,1034.0L307.1,1035.3L311.2,1033.9L307.1,1038.4Z" fill="#25b5a9"/><path d="M361.5,1022.9L365.6,1021.7L367.9,1025.6L363.8,1025.8Z" fill="#54bd8e"/><path d="M380.0,1021.5L384.0,1027.0L388.1,1021.5L384.0,1026.5Z" fill="#54bd8e"/><path d="M335.5,1036.4L339.5,1025.3L343.6,1026.1L339.5,1040.1Z" fill="#33b8a1"/><path d="M290.9,1034.7L295.0,1034.0L299.0,1038.8L295.0,1039.4Z" fill="#22b4ab"/><path d="M347.6,1022.2L351.7,1021.3L357.5,1026.7L353.4,1030.2Z" fill="#51bc90"/><path d="M367.9,1025.6L371.9,1022.6L375.9,1026.0L371.9,1023.3Z" fill="#55bd8e"/><path d="M323.3,1036.0L327.4,1035.8L331.4,1041.3L327.4,1040.2Z" fill="#1eb3ae"/><path d="M400.2,1041.2L404.3,1065.7L408.3,1074.3L404.3,1048.2Z" fill="#1483d5"/><path d="M278.8,1048.3L282.8,1044.9L286.9,1035.0L282.8,1035.9Z" fill="#16b1b4"/><path d="M311.2,1033.9L315.2,1037.3L319.3,1032.5L315.2,1037.1Z" fill="#29b6a7"/><path d="M388.1,1021.5L392.1,1023.1L396.2,1024.6L392.1,1029.2Z" fill="#56bd8d"/><path d="M265.2,1066.2L270.7,1066.8L274.7,1045.0L269.3,1043.4Z" fill="#118dd2"/><path d="M299.0,1038.8L303.1,1034.0L307.1,1038.4L303.1,1044.8Z" fill="#1db3af"/><path d="M357.5,1026.7L361.5,1022.9L363.8,1025.8L359.8,1025.1Z" fill="#55bd8e"/><path d="M375.9,1026.0L380.0,1021.5L384.0,1026.5L380.0,1026.0Z" fill="#56bd8d"/><path d="M331.4,1041.3L335.5,1036.4L339.5,1040.1L335.5,1041.4Z" fill="#1cb3b0"/><path d="M286.9,1035.0L290.9,1034.7L295.0,1039.4L290.9,1040.9Z" fill="#24b5aa"/><path d="M343.6,1026.1L347.6,1022.2L353.4,1030.2L349.4,1026.9Z" fill="#50bc90"/><path d="M363.8,1025.8L367.9,1025.6L371.9,1023.3L367.8,1029.4Z" fill="#53bd8f"/><path d="M319.3,1032.5L323.3,1036.0L327.4,1040.2L323.3,1037.2Z" fill="#28b6a8"/><path d="M396.2,1024.6L400.2,1041.2L404.3,1048.2L400.2,1028.9Z" fill="#2bb6a6"/><path d="M274.7,1045.0L278.8,1048.3L282.8,1035.9L278.8,1036.5Z" fill="#18b1b2"/><path d="M307.1,1038.4L311.2,1033.9L315.2,1037.1L311.2,1037.2Z" fill="#28b6a7"/><path d="M384.0,1026.5L388.1,1021.5L392.1,1029.2L388.1,1024.8Z" fill="#58bd8c"/><path d="M262.6,1062.7L265.2,1066.2L269.3,1043.4L266.6,1048.2Z" fill="#0e91d2"/><path d="M295.0,1039.4L299.0,1038.8L303.1,1044.8L299.0,1039.4Z" fill="#1cb3af"/><path d="M353.4,1030.2L357.5,1026.7L359.8,1025.1L355.7,1029.0Z" fill="#4ebc91"/><path d="M371.9,1023.3L375.9,1026.0L380.0,1026.0L375.9,1028.2Z" fill="#57bd8c"/><path d="M327.4,1040.2L331.4,1041.3L335.5,1041.4L331.4,1045.2Z" fill="#19b2b2"/><path d="M404.3,1048.2L408.3,1074.3L412.4,1111.6L408.3,1052.4Z" fill="#3638a4"/><path d="M282.8,1035.9L286.9,1035.0L290.9,1040.9L286.9,1043.7Z" fill="#23b4ab"/><path d="M339.5,1040.1L343.6,1026.1L349.4,1026.9L345.3,1042.2Z" fill="#35b89f"/><path d="M359.8,1025.1L363.8,1025.8L367.8,1029.4L363.8,1025.9Z" fill="#56bd8d"/><path d="M315.2,1037.1L319.3,1032.5L323.3,1037.2L319.3,1042.8Z" fill="#29b6a7"/><path d="M392.1,1029.2L396.2,1024.6L400.2,1028.9L396.2,1031.4Z" fill="#4dbc92"/><path d="M269.3,1043.4L274.7,1045.0L278.8,1036.5L273.3,1041.3Z" fill="#1cb3b0"/><path d="M303.1,1044.8L307.1,1038.4L311.2,1037.2L307.1,1046.0Z" fill="#1cb3b0"/><path d="M380.0,1026.0L384.0,1026.5L388.1,1024.8L384.0,1028.6Z" fill="#58bd8c"/><path d="M258.5,1067.9L262.6,1062.7L266.6,1048.2L262.6,1049.3Z" fill="#06a3cb"/><path d="M290.9,1040.9L295.0,1039.4L299.0,1039.4L295.0,1036.1Z" fill="#26b5a9"/><path d="M349.4,1026.9L353.4,1030.2L355.7,1029.0L351.7,1030.4Z" fill="#4dbc92"/><path d="M367.8,1029.4L371.9,1023.3L375.9,1028.2L371.9,1028.0Z" fill="#57bd8d"/><path d="M323.3,1037.2L327.4,1040.2L331.4,1045.2L327.4,1038.0Z" fill="#22b4ab"/><path d="M400.2,1028.9L404.3,1048.2L408.3,1052.4L404.3,1029.1Z" fill="#08abc0"/><path d="M278.8,1036.5L282.8,1035.9L286.9,1043.7L282.8,1040.0Z" fill="#27b5a9"/><path d="M335.5,1041.4L339.5,1040.1L345.3,1042.2L341.3,1046.0Z" fill="#1bb2b0"/><path d="M355.7,1029.0L359.8,1025.1L363.8,1025.9L359.7,1030.6Z" fill="#56bd8d"/><path d="M311.2,1037.2L315.2,1037.1L319.3,1042.8L315.2,1043.3Z" fill="#24b5aa"/><path d="M388.1,1024.8L392.1,1029.2L396.2,1031.4L392.1,1026.6Z" fill="#56bd8d"/><path d="M266.6,1048.2L269.3,1043.4L273.3,1041.3L270.7,1044.3Z" fill="#17b1b3"/><path d="M299.0,1039.4L303.1,1044.8L307.1,1046.0L303.1,1038.8Z" fill="#1eb3ae"/><path d="M375.9,1028.2L380.0,1026.0L384.0,1028.6L380.0,1029.1Z" fill="#57bd8d"/><path d="M254.5,1072.1L258.5,1067.9L262.6,1049.3L258.5,1049.4Z" fill="#128bd2"/><path d="M408.3,1052.4L412.4,1111.6L416.4,1067.9L412.4,1057.6Z" fill="#3639a4"/><path d="M286.9,1043.7L290.9,1040.9L295.0,1036.1L290.9,1044.5Z" fill="#22b4ac"/><path d="M345.3,1042.2L349.4,1026.9L351.7,1030.4L347.6,1038.6Z" fill="#3bb99c"/><path d="M363.8,1025.9L367.8,1029.4L371.9,1028.0L367.8,1029.6Z" fill="#57bd8c"/><path d="M319.3,1042.8L323.3,1037.2L327.4,1038.0L323.3,1038.5Z" fill="#2ab6a6"/><path d="M396.2,1031.4L400.2,1028.9L404.3,1029.1L400.2,1035.0Z" fill="#4bbc93"/><path d="M331.4,1045.2L335.5,1041.4L341.3,1046.0L337.2,1041.5Z" fill="#1cb3b0"/><path d="M351.7,1030.4L355.7,1029.0L359.7,1030.6L355.7,1027.8Z" fill="#53bd8e"/><path d="M273.3,1041.3L278.8,1036.5L282.8,1040.0L277.4,1044.7Z" fill="#26b5a9"/><path d="M307.1,1046.0L311.2,1037.2L315.2,1043.3L311.2,1038.5Z" fill="#24b5aa"/><path d="M384.0,1028.6L388.1,1024.8L392.1,1026.6L388.1,1027.8Z" fill="#60be88"/><path d="M262.6,1049.3L266.6,1048.2L270.7,1044.3L266.6,1039.0Z" fill="#18b1b3"/><path d="M295.0,1036.1L299.0,1039.4L303.1,1038.8L299.0,1049.3Z" fill="#26b5a9"/><path d="M371.9,1028.0L375.9,1028.2L380.0,1029.1L375.9,1032.3Z" fill="#56bd8d"/><path d="M250.4,1068.2L254.5,1072.1L258.5,1049.4L254.5,1054.1Z" fill="#128bd2"/><path d="M404.3,1029.1L408.3,1052.4L412.4,1057.6L408.3,1027.8Z" fill="#06a8c5"/><path d="M282.8,1040.0L286.9,1043.7L290.9,1044.5L286.9,1046.1Z" fill="#1eb3ae"/><path d="M341.3,1046.0L345.3,1042.2L347.6,1038.6L343.6,1048.3Z" fill="#1eb3ae"/><path d="M359.7,1030.6L363.8,1025.9L367.8,1029.6L363.8,1035.6Z" fill="#53bd8f"/><path d="M315.2,1043.3L319.3,1042.8L323.3,1038.5L319.3,1037.8Z" fill="#29b6a7"/><path d="M392.1,1026.6L396.2,1031.4L400.2,1035.0L396.2,1034.0Z" fill="#4ebc91"/><path d="M327.4,1038.0L331.4,1045.2L337.2,1041.5L333.2,1043.9Z" fill="#24b5aa"/><path d="M347.6,1038.6L351.7,1030.4L355.7,1027.8L351.7,1038.7Z" fill="#44bb96"/><path d="M270.7,1044.3L273.3,1041.3L277.4,1044.7L274.7,1042.2Z" fill="#21b4ac"/><path d="M303.1,1038.8L307.1,1046.0L311.2,1038.5L307.1,1046.3Z" fill="#24b5aa"/><path d="M380.0,1029.1L384.0,1028.6L388.1,1027.8L384.0,1036.9Z" fill="#54bd8e"/><path d="M258.5,1049.4L262.6,1049.3L266.6,1039.0L262.6,1040.1Z" fill="#1db3af"/><path d="M412.4,1057.6L416.4,1067.9L420.5,1066.8L416.4,1048.8Z" fill="#06a3ca"/><path d="M290.9,1044.5L295.0,1036.1L299.0,1049.3L295.0,1046.8Z" fill="#1fb3ad"/><path d="M367.8,1029.6L371.9,1028.0L375.9,1032.3L371.9,1028.9Z" fill="#5abd8b"/><path d="M246.4,1073.1L250.4,1068.2L254.5,1054.1L250.4,1054.8Z" fill="#06a0cd"/><path d="M400.2,1035.0L404.3,1029.1L408.3,1027.8L404.3,1032.0Z" fill="#55bd8d"/><path d="M337.2,1041.5L341.3,1046.0L343.6,1048.3L339.5,1035.6Z" fill="#25b5aa"/><path d="M355.7,1027.8L359.7,1030.6L363.8,1035.6L359.7,1031.1Z" fill="#54bd8e"/><path d="M277.4,1044.7L282.8,1040.0L286.9,1046.1L281.4,1040.8Z" fill="#25b5a9"/><path d="M311.2,1038.5L315.2,1043.3L319.3,1037.8L315.2,1039.6Z" fill="#30b7a2"/><path d="M388.1,1027.8L392.1,1026.6L396.2,1034.0L392.1,1033.2Z" fill="#5abd8b"/><path d="M266.6,1039.0L270.7,1044.3L274.7,1042.2L270.7,1040.4Z" fill="#2bb6a6"/><path d="M323.3,1038.5L327.4,1038.0L333.2,1043.9L329.1,1042.0Z" fill="#2eb7a4"/><path d="M343.6,1048.3L347.6,1038.6L351.7,1038.7L347.6,1038.8Z" fill="#2cb7a5"/><path d="M299.0,1049.3L303.1,1038.8L307.1,1046.3L303.1,1042.4Z" fill="#22b4ac"/><path d="M375.9,1032.3L380.0,1029.1L384.0,1036.9L380.0,1033.7Z" fill="#4fbc91"/><path d="M254.5,1054.1L258.5,1049.4L262.6,1040.1L258.5,1042.6Z" fill="#1bb2b0"/><path d="M408.3,1027.8L412.4,1057.6L416.4,1048.8L412.4,1035.0Z" fill="#06a8c5"/><path d="M286.9,1046.1L290.9,1044.5L295.0,1046.8L290.9,1040.0Z" fill="#22b4ab"/><path d="M363.8,1035.6L367.8,1029.6L371.9,1028.9L367.8,1031.8Z" fill="#57bd8c"/><path d="M242.3,1076.4L246.4,1073.1L250.4,1054.8L246.4,1050.1Z" fill="#128ad3"/><path d="M396.2,1034.0L400.2,1035.0L404.3,1032.0L400.2,1033.8Z" fill="#4ebc91"/><path d="M333.2,1043.9L337.2,1041.5L339.5,1035.6L335.5,1039.0Z" fill="#33b8a1"/><path d="M351.7,1038.7L355.7,1027.8L359.7,1031.1L355.7,1040.0Z" fill="#4bbc93"/><path d="M274.7,1042.2L277.4,1044.7L281.4,1040.8L278.8,1042.5Z" fill="#2ab6a6"/><path d="M307.1,1046.3L311.2,1038.5L315.2,1039.6L311.2,1049.0Z" fill="#28b6a8"/><path d="M384.0,1036.9L388.1,1027.8L392.1,1033.2L388.1,1034.3Z" fill="#53bd8f"/><path d="M262.6,1040.1L266.6,1039.0L270.7,1040.4L266.6,1045.6Z" fill="#30b7a3"/><path d="M319.3,1037.8L323.3,1038.5L329.1,1042.0L325.1,1041.7Z" fill="#35b8a0"/><path d="M339.5,1035.6L343.6,1048.3L347.6,1038.8L343.6,1044.3Z" fill="#2eb7a4"/><path d="M416.4,1048.8L420.5,1066.8L424.5,1079.1L420.5,1050.8Z" fill="#1389d3"/><path d="M295.0,1046.8L299.0,1049.3L303.1,1042.4L299.0,1039.1Z" fill="#25b5a9"/><path d="M371.9,1028.9L375.9,1032.3L380.0,1033.7L375.9,1035.3Z" fill="#57bd8d"/><path d="M250.4,1054.8L254.5,1054.1L258.5,1042.6L254.5,1051.4Z" fill="#12b0b6"/><path d="M404.3,1032.0L408.3,1027.8L412.4,1035.0L408.3,1035.3Z" fill="#58bd8c"/><path d="M359.7,1031.1L363.8,1035.6L367.8,1031.8L363.8,1037.4Z" fill="#51bd8f"/><path d="M238.3,1077.0L242.3,1076.4L246.4,1050.1L242.3,1055.0Z" fill="#128ad3"/><path d="M281.4,1040.8L286.9,1046.1L290.9,1040.0L285.5,1045.3Z" fill="#2cb7a5"/><path d="M392.1,1033.2L396.2,1034.0L400.2,1033.8L396.2,1035.4Z" fill="#52bd8f"/><path d="M270.7,1040.4L274.7,1042.2L278.8,1042.5L274.7,1038.1Z" fill="#35b8a0"/><path d="M329.1,1042.0L333.2,1043.9L335.5,1039.0L331.4,1040.3Z" fill="#33b8a1"/><path d="M347.6,1038.8L351.7,1038.7L355.7,1040.0L351.6,1040.5Z" fill="#3ab99c"/><path d="M303.1,1042.4L307.1,1046.3L311.2,1049.0L307.1,1042.7Z" fill="#26b5a9"/><path d="M380.0,1033.7L384.0,1036.9L388.1,1034.3L384.0,1036.8Z" fill="#4dbc92"/><path d="M258.5,1042.6L262.6,1040.1L266.6,1045.6L262.6,1046.6Z" fill="#2bb6a6"/><path d="M315.2,1039.6L319.3,1037.8L325.1,1041.7L321.0,1041.6Z" fill="#39b99d"/><path d="M335.5,1039.0L339.5,1035.6L343.6,1044.3L339.5,1049.0Z" fill="#32b8a1"/><path d="M412.4,1035.0L416.4,1048.8L420.5,1050.8L416.4,1034.9Z" fill="#31b8a2"/><path d="M290.9,1040.0L295.0,1046.8L299.0,1039.1L295.0,1050.4Z" fill="#2bb6a6"/><path d="M367.8,1031.8L371.9,1028.9L375.9,1035.3L371.9,1034.9Z" fill="#5bbe8a"/><path d="M246.4,1050.1L250.4,1054.8L254.5,1051.4L250.4,1043.8Z" fill="#17b1b3"/><path d="M400.2,1033.8L404.3,1032.0L408.3,1035.3L404.3,1036.5Z" fill="#54bd8e"/><path d="M355.7,1040.0L359.7,1031.1L363.8,1037.4L359.7,1045.9Z" fill="#42bb98"/><path d="M234.2,1016.4L238.3,1077.0L242.3,1055.0L238.3,1023.4Z" fill="#0f90d2"/><path d="M278.8,1042.5L281.4,1040.8L285.5,1045.3L282.8,1054.4Z" fill="#26b5a9"/><path d="M388.1,1034.3L392.1,1033.2L396.2,1035.4L392.1,1036.7Z" fill="#54bd8e"/><path d="M266.6,1045.6L270.7,1040.4L274.7,1038.1L270.7,1049.0Z" fill="#30b7a3"/><path d="M325.1,1041.7L329.1,1042.0L331.4,1040.3L327.4,1042.3Z" fill="#37b99f"/><path d="M343.6,1044.3L347.6,1038.8L351.6,1040.5L347.6,1043.4Z" fill="#36b99f"/><path d="M420.5,1050.8L424.5,1079.1L428.6,1074.0L424.5,1057.8Z" fill="#1388d3"/><path d="M299.0,1039.1L303.1,1042.4L307.1,1042.7L303.1,1046.2Z" fill="#33b8a0"/><path d="M375.9,1035.3L380.0,1033.7L384.0,1036.8L380.0,1038.2Z" fill="#50bc90"/><path d="M254.5,1051.4L258.5,1042.6L262.6,1046.6L258.5,1049.4Z" fill="#22b4ab"/><path d="M311.2,1049.0L315.2,1039.6L321.0,1041.6L317.0,1044.0Z" fill="#30b7a2"/><path d="M331.4,1040.3L335.5,1039.0L339.5,1049.0L335.5,1048.0Z" fill="#2eb7a3"/><path d="M408.3,1035.3L412.4,1035.0L416.4,1034.9L412.4,1037.6Z" fill="#52bd8f"/><path d="M363.8,1037.4L367.8,1031.8L371.9,1034.9L367.8,1034.5Z" fill="#58bd8c"/><path d="M242.3,1055.0L246.4,1050.1L250.4,1043.8L246.4,1043.4Z" fill="#21b4ac"/><path d="M285.5,1045.3L290.9,1040.0L295.0,1050.4L289.5,1040.5Z" fill="#30b7a3"/><path d="M396.2,1035.4L400.2,1033.8L404.3,1036.5L400.2,1033.9Z" fill="#58bd8c"/><path d="M274.7,1038.1L278.8,1042.5L282.8,1054.4L278.8,1052.4Z" fill="#26b5a9"/><path d="M351.6,1040.5L355.7,1040.0L359.7,1045.9L355.7,1044.3Z" fill="#36b99f"/><path d="M230.2,1020.7L234.2,1016.4L238.3,1023.4L234.2,1015.5Z" fill="#9fbe6d"/><path d="M384.0,1036.8L388.1,1034.3L392.1,1036.7L388.1,1036.5Z" fill="#54bd8e"/><path d="M262.6,1046.6L266.6,1045.6L270.7,1049.0L266.6,1049.2Z" fill="#25b5aa"/><path d="M321.0,1041.6L325.1,1041.7L327.4,1042.3L323.3,1043.3Z" fill="#39b99d"/><path d="M339.5,1049.0L343.6,1044.3L347.6,1043.4L343.5,1042.8Z" fill="#2fb7a3"/><path d="M416.4,1034.9L420.5,1050.8L424.5,1057.8L420.5,1037.4Z" fill="#2eb7a4"/><path d="M295.0,1050.4L299.0,1039.1L303.1,1046.2L299.0,1046.5Z" fill="#2db7a5"/><path d="M371.9,1034.9L375.9,1035.3L380.0,1038.2L375.9,1036.0Z" fill="#55bd8d"/><path d="M250.4,1043.8L254.5,1051.4L258.5,1049.4L254.5,1040.5Z" fill="#2ab6a6"/><path d="M307.1,1042.7L311.2,1049.0L317.0,1044.0L312.9,1042.9Z" fill="#31b8a2"/><path d="M327.4,1042.3L331.4,1040.3L335.5,1048.0L331.4,1051.7Z" fill="#2db7a4"/><path d="M404.3,1036.5L408.3,1035.3L412.4,1037.6L408.3,1036.5Z" fill="#54bd8e"/><path d="M359.7,1045.9L363.8,1037.4L367.8,1034.5L363.8,1055.2Z" fill="#37b99e"/><path d="M238.3,1023.4L242.3,1055.0L246.4,1043.4L242.3,1022.2Z" fill="#12afb7"/><path d="M282.8,1054.4L285.5,1045.3L289.5,1040.5L286.9,1044.1Z" fill="#2db7a5"/><path d="M392.1,1036.7L396.2,1035.4L400.2,1033.9L396.2,1039.6Z" fill="#56bd8d"/><path d="M270.7,1049.0L274.7,1038.1L278.8,1052.4L274.7,1054.1Z" fill="#25b5aa"/><path d="M347.6,1043.4L351.6,1040.5L355.7,1044.3L351.6,1044.5Z" fill="#39b99d"/><path d="M226.1,1122.7L230.2,1020.7L234.2,1015.5L230.2,1018.2Z" fill="#353eaf"/><path d="M424.5,1057.8L428.6,1074.0L432.6,1074.8L428.6,1052.7Z" fill="#0a96d1"/><path d="M380.0,1038.2L384.0,1036.8L388.1,1036.5L384.0,1037.7Z" fill="#54bd8e"/><path d="M258.5,1049.4L262.6,1046.6L266.6,1049.2L262.6,1054.5Z" fill="#21b4ac"/><path d="M317.0,1044.0L321.0,1041.6L323.3,1043.3L319.3,1039.3Z" fill="#3eba9a"/><path d="M335.5,1048.0L339.5,1049.0L343.5,1042.8L339.5,1039.8Z" fill="#33b8a1"/><path d="M412.4,1037.6L416.4,1034.9L420.5,1037.4L416.4,1042.0Z" fill="#51bd8f"/><path d="M367.8,1034.5L371.9,1034.9L375.9,1036.0L371.9,1038.6Z" fill="#5bbe8a"/><path d="M246.4,1043.4L250.4,1043.8L254.5,1040.5L250.4,1049.5Z" fill="#36b99f"/><path d="M303.1,1046.2L307.1,1042.7L312.9,1042.9L308.9,1044.6Z" fill="#37b99e"/><path d="M289.5,1040.5L295.0,1050.4L299.0,1046.5L293.6,1047.6Z" fill="#2fb7a3"/><path d="M323.3,1043.3L327.4,1042.3L331.4,1051.7L327.4,1041.8Z" fill="#35b89f"/><path d="M400.2,1033.9L404.3,1036.5L408.3,1036.5L404.3,1038.4Z" fill="#5bbd8b"/><path d="M278.8,1052.4L282.8,1054.4L286.9,1044.1L282.8,1049.0Z" fill="#23b4ab"/><path d="M355.7,1044.3L359.7,1045.9L363.8,1055.2L359.7,1048.5Z" fill="#28b6a8"/><path d="M234.2,1015.5L238.3,1023.4L242.3,1022.2L238.3,1008.6Z" fill="#acbe68"/><path d="M388.1,1036.5L392.1,1036.7L396.2,1039.6L392.1,1038.9Z" fill="#55bd8e"/><path d="M266.6,1049.2L270.7,1049.0L274.7,1054.1L270.7,1046.2Z" fill="#25b5aa"/><path d="M343.5,1042.8L347.6,1043.4L351.6,1044.5L347.6,1042.5Z" fill="#3dba9b"/><path d="M221.9,1124.0L226.1,1122.7L230.2,1018.2L225.9,1126.0Z" fill="#363194"/><path d="M420.5,1037.4L424.5,1057.8L428.6,1052.7L424.5,1046.8Z" fill="#29b6a7"/><path d="M375.9,1036.0L380.0,1038.2L384.0,1037.7L380.0,1040.5Z" fill="#56bd8d"/><path d="M254.5,1040.5L258.5,1049.4L262.6,1054.5L258.5,1046.0Z" fill="#2db7a4"/><path d="M312.9,1042.9L317.0,1044.0L319.3,1039.3L315.2,1043.8Z" fill="#42bb98"/><path d="M331.4,1051.7L335.5,1048.0L339.5,1039.8L335.4,1034.8Z" fill="#3eba9a"/><path d="M408.3,1036.5L412.4,1037.6L416.4,1042.0L412.4,1040.2Z" fill="#52bd8f"/><path d="M363.8,1055.2L367.8,1034.5L371.9,1038.6L367.8,1047.2Z" fill="#3dba9b"/><path d="M242.3,1022.2L246.4,1043.4L250.4,1049.5L246.4,1012.2Z" fill="#2fb7a3"/><path d="M299.0,1046.5L303.1,1046.2L308.9,1044.6L304.8,1042.6Z" fill="#39b99d"/><path d="M286.9,1044.1L289.5,1040.5L293.6,1047.6L290.9,1044.4Z" fill="#3cba9b"/><path d="M319.3,1039.3L323.3,1043.3L327.4,1041.8L323.3,1042.0Z" fill="#47bb95"/><path d="M396.2,1039.6L400.2,1033.9L404.3,1038.4L400.2,1039.6Z" fill="#59bd8b"/><path d="M274.7,1054.1L278.8,1052.4L282.8,1049.0L278.8,1049.7Z" fill="#22b4ab"/><path d="M351.6,1044.5L355.7,1044.3L359.7,1048.5L355.7,1045.0Z" fill="#37b99e"/><path d="M230.2,1018.2L234.2,1015.5L238.3,1008.6L234.2,1010.1Z" fill="#c0bc60"/><path d="M384.0,1037.7L388.1,1036.5L392.1,1038.9L388.1,1040.7Z" fill="#58bd8c"/><path d="M262.6,1054.5L266.6,1049.2L270.7,1046.2L266.6,1045.0Z" fill="#2cb7a5"/><path d="M339.5,1039.8L343.5,1042.8L347.6,1042.5L343.5,1039.5Z" fill="#4cbc92"/><path d="M416.4,1042.0L420.5,1037.4L424.5,1046.8L420.5,1042.2Z" fill="#48bb94"/><path d="M371.9,1038.6L375.9,1036.0L380.0,1040.5L375.9,1039.9Z" fill="#58bd8c"/><path d="M250.4,1049.5L254.5,1040.5L258.5,1046.0L254.5,1043.3Z" fill="#3dba9b"/><path d="M308.9,1044.6L312.9,1042.9L315.2,1043.8L311.2,1051.8Z" fill="#39b99d"/><path d="M428.6,1052.7L432.6,1074.8L438.5,1080.2L434.4,1064.3Z" fill="#0c94d2"/><path d="M327.4,1041.8L331.4,1051.7L335.4,1034.8L331.4,1040.3Z" fill="#49bc94"/><path d="M404.3,1038.4L408.3,1036.5L412.4,1040.2L408.3,1040.7Z" fill="#58bd8c"/><path d="M282.8,1049.0L286.9,1044.1L290.9,1044.4L286.9,1046.1Z" fill="#39b99d"/><path d="M359.7,1048.5L363.8,1055.2L367.8,1047.2L363.8,1043.4Z" fill="#2fb7a3"/><path d="M238.3,1008.6L242.3,1022.2L246.4,1012.2L242.3,1012.9Z" fill="#c0bc60"/><path d="M315.2,1043.8L319.3,1039.3L323.3,1042.0L319.3,1037.9Z" fill="#51bc90"/><path d="M392.1,1038.9L396.2,1039.6L400.2,1039.6L396.2,1046.6Z" fill="#4fbc91"/><path d="M270.7,1046.2L274.7,1054.1L278.8,1049.7L274.7,1047.4Z" fill="#2db7a4"/><path d="M293.6,1047.6L299.0,1046.5L304.8,1042.6L299.4,1053.8Z" fill="#34b8a0"/><path d="M347.6,1042.5L351.6,1044.5L355.7,1045.0L351.6,1047.2Z" fill="#40ba99"/><path d="M225.9,1126.0L230.2,1018.2L234.2,1010.1L229.9,1128.1Z" fill="#3638a3"/><path d="M380.0,1040.5L384.0,1037.7L388.1,1040.7L384.0,1042.3Z" fill="#55bd8e"/><path d="M258.5,1046.0L262.6,1054.5L266.6,1045.0L262.6,1045.7Z" fill="#34b8a0"/><path d="M335.4,1034.8L339.5,1039.8L343.5,1039.5L339.5,1037.0Z" fill="#61be87"/><path d="M412.4,1040.2L416.4,1042.0L420.5,1042.2L416.4,1040.1Z" fill="#52bd8f"/><path d="M367.8,1047.2L371.9,1038.6L375.9,1039.9L371.9,1051.0Z" fill="#45bb96"/><path d="M246.4,1012.2L250.4,1049.5L254.5,1043.3L250.4,1014.9Z" fill="#31b8a2"/><path d="M304.8,1042.6L308.9,1044.6L311.2,1051.8L307.1,1047.2Z" fill="#3bb99c"/><path d="M424.5,1046.8L428.6,1052.7L434.4,1064.3L430.4,1044.1Z" fill="#26b5a9"/><path d="M323.3,1042.0L327.4,1041.8L331.4,1040.3L327.3,1040.3Z" fill="#53bd8e"/><path d="M400.2,1039.6L404.3,1038.4L408.3,1040.7L404.3,1041.3Z" fill="#59bd8c"/><path d="M278.8,1049.7L282.8,1049.0L286.9,1046.1L282.8,1052.3Z" fill="#31b8a2"/><path d="M355.7,1045.0L359.7,1048.5L363.8,1043.4L359.7,1044.6Z" fill="#41ba98"/><path d="M234.2,1010.1L238.3,1008.6L242.3,1012.9L238.3,1003.0Z" fill="#d6ba57"/><path d="M311.2,1051.8L315.2,1043.8L319.3,1037.9L315.2,1039.0Z" fill="#4bbc93"/><path d="M388.1,1040.7L392.1,1038.9L396.2,1046.6L392.1,1038.7Z" fill="#55bd8e"/><path d="M266.6,1045.0L270.7,1046.2L274.7,1047.4L270.7,1045.9Z" fill="#3fba9a"/><path d="M290.9,1044.4L293.6,1047.6L299.4,1053.8L296.7,1054.1Z" fill="#2fb7a3"/><path d="M343.5,1039.5L347.6,1042.5L351.6,1047.2L347.6,1044.2Z" fill="#4bbc93"/><path d="M375.9,1039.9L380.0,1040.5L384.0,1042.3L380.0,1039.3Z" fill="#5abd8b"/><path d="M254.5,1043.3L258.5,1046.0L262.6,1045.7L258.5,1042.7Z" fill="#47bb95"/><path d="M434.4,1064.3L438.5,1080.2L440.7,1083.8L436.7,1061.5Z" fill="#108fd2"/><path d="M331.4,1040.3L335.4,1034.8L339.5,1037.0L335.4,1039.5Z" fill="#67be85"/><path d="M408.3,1040.7L412.4,1040.2L416.4,1040.1L412.4,1038.7Z" fill="#5dbe89"/><path d="M363.8,1043.4L367.8,1047.2L371.9,1051.0L367.8,1050.4Z" fill="#39b99d"/><path d="M242.3,1012.9L246.4,1012.2L250.4,1014.9L246.4,1003.5Z" fill="#d2bb59"/><path d="M420.5,1042.2L424.5,1046.8L430.4,1044.1L426.3,1041.3Z" fill="#4dbc92"/><path d="M319.3,1037.9L323.3,1042.0L327.3,1040.3L323.3,1033.0Z" fill="#66be85"/><path d="M396.2,1046.6L400.2,1039.6L404.3,1041.3L400.2,1045.8Z" fill="#4fbc91"/><path d="M274.7,1047.4L278.8,1049.7L282.8,1052.3L278.8,1053.8Z" fill="#2fb7a3"/><path d="M299.4,1053.8L304.8,1042.6L307.1,1047.2L301.7,1049.4Z" fill="#39b99d"/><path d="M351.6,1047.2L355.7,1045.0L359.7,1044.6L355.7,1048.6Z" fill="#42bb98"/><path d="M286.9,1046.1L290.9,1044.4L296.7,1054.1L292.7,1054.1Z" fill="#34b8a0"/><path d="M229.9,1128.1L234.2,1010.1L238.3,1003.0L234.0,1003.9Z" fill="#3341b6"/><path d="M307.1,1047.2L311.2,1051.8L315.2,1039.0L311.2,1039.0Z" fill="#4cbc92"/><path d="M384.0,1042.3L388.1,1040.7L392.1,1038.7L388.1,1042.3Z" fill="#5bbe8a"/><path d="M262.6,1045.7L266.6,1045.0L270.7,1045.9L266.6,1043.6Z" fill="#48bb94"/><path d="M339.5,1037.0L343.5,1039.5L347.6,1044.2L343.5,1036.3Z" fill="#64be86"/><path d="M371.9,1051.0L375.9,1039.9L380.0,1039.3L375.9,1061.1Z" fill="#3eba9a"/><path d="M250.4,1014.9L254.5,1043.3L258.5,1042.7L254.5,1023.7Z" fill="#51bc90"/><path d="M430.4,1044.1L434.4,1064.3L436.7,1061.5L432.6,1043.2Z" fill="#0aacbe"/><path d="M327.3,1040.3L331.4,1040.3L335.4,1039.5L331.4,1040.8Z" fill="#61be87"/><path d="M404.3,1041.3L408.3,1040.7L412.4,1038.7L408.3,1045.7Z" fill="#5bbd8a"/><path d="M359.7,1044.6L363.8,1043.4L367.8,1050.4L363.8,1054.2Z" fill="#3eba9a"/><path d="M238.3,1003.0L242.3,1012.9L246.4,1003.5L242.3,996.4Z" fill="#ecb94c"/><path d="M416.4,1040.1L420.5,1042.2L426.3,1041.3L422.3,1043.8Z" fill="#5bbd8b"/><path d="M436.7,1061.5L440.7,1083.8L444.8,1091.7L440.7,1070.7Z" fill="#1484d4"/><path d="M315.2,1039.0L319.3,1037.9L323.3,1033.0L319.3,1038.4Z" fill="#72bf80"/><path d="M392.1,1038.7L396.2,1046.6L400.2,1045.8L396.2,1048.4Z" fill="#4dbc92"/><path d="M270.7,1045.9L274.7,1047.4L278.8,1053.8L274.7,1047.8Z" fill="#3cba9b"/><path d="M296.7,1054.1L299.4,1053.8L301.7,1049.4L299.0,1048.2Z" fill="#32b8a1"/><path d="M347.6,1044.2L351.6,1047.2L355.7,1048.6L351.6,1042.3Z" fill="#4bbc93"/><path d="M282.8,1052.3L286.9,1046.1L292.7,1054.1L288.6,1052.4Z" fill="#33b8a1"/><path d="M226.1,1129.2L229.9,1128.1L234.0,1003.9L230.2,1131.3Z" fill="#363297"/><path d="M380.0,1039.3L384.0,1042.3L388.1,1042.3L384.0,1046.9Z" fill="#59bd8c"/><path d="M258.5,1042.7L262.6,1045.7L266.6,1043.6L262.6,1043.8Z" fill="#53bd8f"/><path d="M301.7,1049.4L307.1,1047.2L311.2,1039.0L305.7,1048.3Z" fill="#4abc93"/><path d="M335.4,1039.5L339.5,1037.0L343.5,1036.3L339.5,1040.7Z" fill="#6ebf81"/><path d="M367.8,1050.4L371.9,1051.0L375.9,1061.1L371.9,1048.4Z" fill="#2fb7a3"/><path d="M246.4,1003.5L250.4,1014.9L254.5,1023.7L250.4,1004.4Z" fill="#d6ba57"/><path d="M426.3,1041.3L430.4,1044.1L432.6,1043.2L428.6,1048.6Z" fill="#53bd8e"/><path d="M323.3,1033.0L327.3,1040.3L331.4,1040.8L327.3,1039.0Z" fill="#70bf80"/><path d="M400.2,1045.8L404.3,1041.3L408.3,1045.7L404.3,1046.1Z" fill="#52bd8f"/><path d="M355.7,1048.6L359.7,1044.6L363.8,1054.2L359.7,1042.2Z" fill="#46bb95"/><path d="M292.7,1054.1L296.7,1054.1L299.0,1048.2L295.0,1054.3Z" fill="#31b8a2"/><path d="M412.4,1038.7L416.4,1040.1L422.3,1043.8L418.2,1051.9Z" fill="#58bd8c"/><path d="M234.0,1003.9L238.3,1003.0L242.3,996.4L238.0,1011.3Z" fill="#f1b94a"/><path d="M432.6,1043.2L436.7,1061.5L440.7,1070.7L436.7,1047.5Z" fill="#07a9c3"/><path d="M311.2,1039.0L315.2,1039.0L319.3,1038.4L315.2,1033.9Z" fill="#75bf7e"/><path d="M388.1,1042.3L392.1,1038.7L396.2,1048.4L392.1,1044.7Z" fill="#59bd8b"/><path d="M266.6,1043.6L270.7,1045.9L274.7,1047.8L270.7,1035.9Z" fill="#5abd8b"/><path d="M343.5,1036.3L347.6,1044.2L351.6,1042.3L347.6,1038.3Z" fill="#69be84"/><path d="M278.8,1053.8L282.8,1052.3L288.6,1052.4L284.6,1055.6Z" fill="#2fb7a3"/><path d="M375.9,1061.1L380.0,1039.3L384.0,1046.9L380.0,1048.1Z" fill="#42bb98"/><path d="M254.5,1023.7L258.5,1042.7L262.6,1043.8L258.5,1028.0Z" fill="#85bf78"/><path d="M299.0,1048.2L301.7,1049.4L305.7,1048.3L303.1,1043.4Z" fill="#49bc94"/><path d="M331.4,1040.8L335.4,1039.5L339.5,1040.7L335.4,1032.0Z" fill="#75bf7f"/><path d="M363.8,1054.2L367.8,1050.4L371.9,1048.4L367.8,1046.8Z" fill="#3fba9a"/><path d="M242.3,996.4L246.4,1003.5L250.4,1004.4L246.4,993.3Z" fill="#fdbe3d"/><path d="M422.3,1043.8L426.3,1041.3L428.6,1048.6L424.5,1047.4Z" fill="#54bd8e"/><path d="M440.7,1070.7L444.8,1091.7L448.8,1087.3L444.8,1071.7Z" fill="#1484d4"/><path d="M319.3,1038.4L323.3,1033.0L327.3,1039.0L323.3,1041.6Z" fill="#77bf7e"/><path d="M396.2,1048.4L400.2,1045.8L404.3,1046.1L400.2,1049.0Z" fill="#4cbc93"/><path d="M351.6,1042.3L355.7,1048.6L359.7,1042.2L355.7,1039.7Z" fill="#5fbe88"/><path d="M288.6,1052.4L292.7,1054.1L295.0,1054.3L290.9,1053.8Z" fill="#31b8a2"/><path d="M408.3,1045.7L412.4,1038.7L418.2,1051.9L414.2,1046.3Z" fill="#54bd8e"/><path d="M230.2,1131.3L234.0,1003.9L238.0,1011.3L234.2,995.2Z" fill="#3243b8"/><path d="M428.6,1048.6L432.6,1043.2L436.7,1047.5L432.6,1046.9Z" fill="#50bc90"/><path d="M384.0,1046.9L388.1,1042.3L392.1,1044.7L388.1,1046.5Z" fill="#57bd8c"/><path d="M262.6,1043.8L266.6,1043.6L270.7,1035.9L266.6,1040.0Z" fill="#6cbf83"/><path d="M305.7,1048.3L311.2,1039.0L315.2,1033.9L309.8,1046.8Z" fill="#67be85"/><path d="M339.5,1040.7L343.5,1036.3L347.6,1038.3L343.5,1037.6Z" fill="#79bf7d"/><path d="M274.7,1047.8L278.8,1053.8L284.6,1055.6L280.5,1043.4Z" fill="#41ba98"/><path d="M295.0,1054.3L299.0,1048.2L303.1,1043.4L299.0,1047.8Z" fill="#49bc94"/><path d="M371.9,1048.4L375.9,1061.1L380.0,1048.1L375.9,1045.5Z" fill="#3fba99"/><path d="M250.4,1004.4L254.5,1023.7L258.5,1028.0L254.5,1003.4Z" fill="#aabe69"/><path d="M327.3,1039.0L331.4,1040.8L335.4,1032.0L331.4,1039.1Z" fill="#7dbf7b"/><path d="M359.7,1042.2L363.8,1054.2L367.8,1046.8L363.8,1043.6Z" fill="#53bd8f"/><path d="M418.2,1051.9L422.3,1043.8L424.5,1047.4L420.5,1050.8Z" fill="#4bbc93"/><path d="M238.0,1011.3L242.3,996.4L246.4,993.3L242.1,998.3Z" fill="#fec03b"/><path d="M436.7,1047.5L440.7,1070.7L444.8,1071.7L440.7,1067.8Z" fill="#06a8c4"/><path d="M315.2,1033.9L319.3,1038.4L323.3,1041.6L319.2,1030.4Z" fill="#85bf78"/><path d="M392.1,1044.7L396.2,1048.4L400.2,1049.0L396.2,1048.0Z" fill="#50bc90"/><path d="M347.6,1038.3L351.6,1042.3L355.7,1039.7L351.6,1033.4Z" fill="#7cbf7c"/><path d="M226.1,1132.5L230.2,1131.3L234.2,995.2L230.2,1134.6Z" fill="#363398"/><path d="M284.6,1055.6L288.6,1052.4L290.9,1053.8L286.9,1056.7Z" fill="#32b8a1"/><path d="M404.3,1046.1L408.3,1045.7L414.2,1046.3L410.1,1044.4Z" fill="#5abd8b"/><path d="M424.5,1047.4L428.6,1048.6L432.6,1046.9L428.6,1045.7Z" fill="#53bd8f"/><path d="M380.0,1048.1L384.0,1046.9L388.1,1046.5L384.0,1052.9Z" fill="#4dbc92"/><path d="M258.5,1028.0L262.6,1043.8L266.6,1040.0L262.6,1033.6Z" fill="#86bf77"/><path d="M303.1,1043.4L305.7,1048.3L309.8,1046.8L307.1,1047.3Z" fill="#57bd8c"/><path d="M335.4,1032.0L339.5,1040.7L343.5,1037.6L339.5,1037.1Z" fill="#84bf78"/><path d="M270.7,1035.9L274.7,1047.8L280.5,1043.4L276.5,1029.7Z" fill="#7abf7c"/><path d="M290.9,1053.8L295.0,1054.3L299.0,1047.8L295.0,1053.9Z" fill="#3dba9b"/><path d="M367.8,1046.8L371.9,1048.4L375.9,1045.5L371.9,1042.0Z" fill="#5cbe8a"/><path d="M246.4,993.3L250.4,1004.4L254.5,1003.4L250.4,995.4Z" fill="#ffc337"/><path d="M444.8,1071.7L448.8,1087.3L452.9,1134.0L448.8,1091.3Z" fill="#36339a"/><path d="M323.3,1041.6L327.3,1039.0L331.4,1039.1L327.3,1035.8Z" fill="#7dbf7b"/><path d="M355.7,1039.7L359.7,1042.2L363.8,1043.6L359.7,1035.5Z" fill="#77bf7e"/><path d="M414.2,1046.3L418.2,1051.9L420.5,1050.8L416.4,1045.4Z" fill="#50bc90"/><path d="M234.2,995.2L238.0,1011.3L242.1,998.3L238.3,1003.9Z" fill="#fdbe3e"/><path d="M432.6,1046.9L436.7,1047.5L440.7,1067.8L436.7,1063.7Z" fill="#2fb7a3"/><path d="M388.1,1046.5L392.1,1044.7L396.2,1048.0L392.1,1045.5Z" fill="#5cbe8a"/><path d="M309.8,1046.8L315.2,1033.9L319.2,1030.4L313.8,1039.7Z" fill="#84bf78"/><path d="M343.5,1037.6L347.6,1038.3L351.6,1033.4L347.6,1035.5Z" fill="#8bbf75"/><path d="M280.5,1043.4L284.6,1055.6L286.9,1056.7L282.8,1042.7Z" fill="#4dbc92"/><path d="M400.2,1049.0L404.3,1046.1L410.1,1044.4L406.1,1046.6Z" fill="#5bbd8a"/><path d="M420.5,1050.8L424.5,1047.4L428.6,1045.7L424.5,1050.9Z" fill="#51bd90"/><path d="M299.0,1047.8L303.1,1043.4L307.1,1047.3L303.1,1042.5Z" fill="#62be87"/><path d="M375.9,1045.5L380.0,1048.1L384.0,1052.9L380.0,1047.4Z" fill="#53bd8f"/><path d="M254.5,1003.4L258.5,1028.0L262.6,1033.6L258.5,1010.1Z" fill="#9ebe6e"/><path d="M331.4,1039.1L335.4,1032.0L339.5,1037.1L335.4,1031.0Z" fill="#92bf72"/><path d="M266.6,1040.0L270.7,1035.9L276.5,1029.7L272.4,1033.5Z" fill="#92bf72"/><path d="M286.9,1056.7L290.9,1053.8L295.0,1053.9L290.9,1056.6Z" fill="#36b99f"/><path d="M363.8,1043.6L367.8,1046.8L371.9,1042.0L367.8,1038.4Z" fill="#70bf81"/><path d="M242.1,998.3L246.4,993.3L250.4,995.4L246.1,998.2Z" fill="#fdcc30"/><path d="M440.7,1067.8L444.8,1071.7L448.8,1091.3L444.8,1069.1Z" fill="#0f8fd2"/><path d="M319.2,1030.4L323.3,1041.6L327.3,1035.8L323.3,1027.4Z" fill="#97bf70"/><path d="M351.6,1033.4L355.7,1039.7L359.7,1035.5L355.7,1020.9Z" fill="#9ebe6e"/><path d="M230.2,1134.6L234.2,995.2L238.3,1003.9L234.2,1021.6Z" fill="#3243b8"/><path d="M410.1,1044.4L414.2,1046.3L416.4,1045.4L412.4,1052.1Z" fill="#5dbe8a"/><path d="M428.6,1045.7L432.6,1046.9L436.7,1063.7L432.6,1065.4Z" fill="#38b99e"/><path d="M384.0,1052.9L388.1,1046.5L392.1,1045.5L388.1,1054.8Z" fill="#50bc90"/><path d="M307.1,1047.3L309.8,1046.8L313.8,1039.7L311.1,1040.0Z" fill="#6fbf81"/><path d="M339.5,1037.1L343.5,1037.6L347.6,1035.5L343.5,1027.8Z" fill="#96bf71"/><path d="M276.5,1029.7L280.5,1043.4L282.8,1042.7L278.8,1020.6Z" fill="#6fbf81"/><path d="M396.2,1048.0L400.2,1049.0L406.1,1046.6L402.0,1048.9Z" fill="#59bd8b"/><path d="M416.4,1045.4L420.5,1050.8L424.5,1050.9L420.5,1049.7Z" fill="#54bd8e"/><path d="M295.0,1053.9L299.0,1047.8L303.1,1042.5L299.0,1050.8Z" fill="#57bd8d"/><path d="M371.9,1042.0L375.9,1045.5L380.0,1047.4L375.9,1038.9Z" fill="#70bf80"/><path d="M250.4,995.4L254.5,1003.4L258.5,1010.1L254.5,996.9Z" fill="#ffc238"/><path d="M448.8,1091.3L452.9,1134.0L456.9,1136.1L452.9,1137.3Z" fill="#352d8c"/><path d="M327.3,1035.8L331.4,1039.1L335.4,1031.0L331.4,1017.4Z" fill="#82bf79"/><path d="M262.6,1033.6L266.6,1040.0L272.4,1033.5L268.4,1042.1Z" fill="#8cbf75"/><path d="M282.8,1042.7L286.9,1056.7L290.9,1056.6L286.9,1040.8Z" fill="#56bd8d"/><path d="M359.7,1035.5L363.8,1043.6L367.8,1038.4L363.8,1024.7Z" fill="#94bf71"/><path d="M238.3,1003.9L242.1,998.3L246.1,998.2L242.3,1016.5Z" fill="#fdbe3e"/><path d="M436.7,1063.7L440.7,1067.8L444.8,1069.1L440.7,1072.1Z" fill="#11afb8"/><path d="M313.8,1039.7L319.2,1030.4L323.3,1027.4L317.9,1031.5Z" fill="#a3be6c"/><path d="M347.6,1035.5L351.6,1033.4L355.7,1020.9L351.6,1026.2Z" fill="#afbe67"/><path d="M226.1,1135.8L230.2,1134.6L234.2,1021.6L230.2,1137.8Z" fill="#363195"/><path d="M406.1,1046.6L410.1,1044.4L412.4,1052.1L408.3,1052.6Z" fill="#59bd8b"/><path d="M424.5,1050.9L428.6,1045.7L432.6,1065.4L428.6,1066.5Z" fill="#36b99f"/><path d="M303.1,1042.5L307.1,1047.3L311.1,1040.0L307.1,1038.0Z" fill="#7bbf7c"/><path d="M380.0,1047.4L384.0,1052.9L388.1,1054.8L384.0,1041.8Z" fill="#59bd8b"/><path d="M335.4,1031.0L339.5,1037.1L343.5,1027.8L339.5,1024.9Z" fill="#acbe68"/><path d="M272.4,1033.5L276.5,1029.7L278.8,1020.6L274.7,1029.1Z" fill="#b3bd65"/><path d="M392.1,1045.5L396.2,1048.0L402.0,1048.9L398.0,1052.6Z" fill="#5cbe8a"/><path d="M412.4,1052.1L416.4,1045.4L420.5,1049.7L416.4,1051.2Z" fill="#58bd8c"/><path d="M290.9,1056.6L295.0,1053.9L299.0,1050.8L295.0,1046.6Z" fill="#4dbc92"/><path d="M367.8,1038.4L371.9,1042.0L375.9,1038.9L371.9,1026.5Z" fill="#94bf71"/><path d="M246.1,998.2L250.4,995.4L254.5,996.9L250.2,1001.5Z" fill="#fccc2f"/><path d="M444.8,1069.1L448.8,1091.3L452.9,1137.3L448.8,1116.0Z" fill="#363298"/><path d="M323.3,1027.4L327.3,1035.8L331.4,1017.4L327.3,1016.3Z" fill="#c2bc5f"/><path d="M258.5,1010.1L262.6,1033.6L268.4,1042.1L264.3,1028.0Z" fill="#86bf77"/><path d="M278.8,1020.6L282.8,1042.7L286.9,1040.8L282.8,1015.7Z" fill="#79bf7d"/><path d="M355.7,1020.9L359.7,1035.5L363.8,1024.7L359.7,1025.1Z" fill="#babd62"/><path d="M234.2,1021.6L238.3,1003.9L242.3,1016.5L238.3,1018.5Z" fill="#e1ba52"/><path d="M432.6,1065.4L436.7,1063.7L440.7,1072.1L436.7,1056.2Z" fill="#1fb3ae"/><path d="M311.1,1040.0L313.8,1039.7L317.9,1031.5L315.2,1032.0Z" fill="#99bf6f"/><path d="M343.5,1027.8L347.6,1035.5L351.6,1026.2L347.6,1028.7Z" fill="#b1bd66"/><path d="M402.0,1048.9L406.1,1046.6L408.3,1052.6L404.3,1052.9Z" fill="#59bd8c"/><path d="M420.5,1049.7L424.5,1050.9L428.6,1066.5L424.5,1063.1Z" fill="#39b99d"/><path d="M299.0,1050.8L303.1,1042.5L307.1,1038.0L303.0,1044.9Z" fill="#77bf7e"/><path d="M375.9,1038.9L380.0,1047.4L384.0,1041.8L380.0,1029.2Z" fill="#8cbf75"/><path d="M331.4,1017.4L335.4,1031.0L339.5,1024.9L335.4,1018.6Z" fill="#c9bc5c"/><path d="M268.4,1042.1L272.4,1033.5L274.7,1029.1L270.7,1052.7Z" fill="#8dbf75"/><path d="M388.1,1054.8L392.1,1045.5L398.0,1052.6L393.9,1056.3Z" fill="#51bc90"/><path d="M408.3,1052.6L412.4,1052.1L416.4,1051.2L412.4,1053.5Z" fill="#51bc90"/><path d="M286.9,1040.8L290.9,1056.6L295.0,1046.6L290.9,1041.1Z" fill="#6ebf82"/><path d="M363.8,1024.7L367.8,1038.4L371.9,1026.5L367.8,1018.6Z" fill="#90bf73"/><path d="M242.3,1016.5L246.1,998.2L250.2,1001.5L246.4,1017.5Z" fill="#f8bb44"/><path d="M440.7,1072.1L444.8,1069.1L448.8,1116.0L444.8,1074.6Z" fill="#066edf"/><path d="M254.5,996.9L258.5,1010.1L264.3,1028.0L260.3,1017.6Z" fill="#c1bc60"/><path d="M274.7,1029.1L278.8,1020.6L282.8,1015.7L278.8,1029.4Z" fill="#c8bc5d"/><path d="M317.9,1031.5L323.3,1027.4L327.3,1016.3L321.9,1019.1Z" fill="#c9bc5c"/><path d="M351.6,1026.2L355.7,1020.9L359.7,1025.1L355.7,1023.6Z" fill="#c8bc5d"/><path d="M230.2,1137.8L234.2,1021.6L238.3,1018.5L234.2,1019.0Z" fill="#3341b4"/><path d="M428.6,1066.5L432.6,1065.4L436.7,1056.2L432.6,1064.8Z" fill="#27b5a8"/><path d="M307.1,1038.0L311.1,1040.0L315.2,1032.0L311.1,1041.4Z" fill="#95bf71"/><path d="M339.5,1024.9L343.5,1027.8L347.6,1028.7L343.5,1020.5Z" fill="#c4bc5f"/><path d="M398.0,1052.6L402.0,1048.9L404.3,1052.9L400.2,1047.6Z" fill="#5dbe89"/><path d="M416.4,1051.2L420.5,1049.7L424.5,1063.1L420.5,1065.2Z" fill="#3fba9a"/><path d="M295.0,1046.6L299.0,1050.8L303.0,1044.9L299.0,1043.3Z" fill="#71bf80"/><path d="M371.9,1026.5L375.9,1038.9L380.0,1029.2L375.9,1020.7Z" fill="#b9bd63"/><path d="M448.8,1116.0L452.9,1137.3L456.9,1139.3L452.8,1140.5Z" fill="#3638a3"/><path d="M327.3,1016.3L331.4,1017.4L335.4,1018.6L331.4,1011.2Z" fill="#e4b950"/><path d="M264.3,1028.0L268.4,1042.1L270.7,1052.7L266.6,1029.4Z" fill="#5bbe8a"/><path d="M384.0,1041.8L388.1,1054.8L393.9,1056.3L389.9,1048.0Z" fill="#60be88"/><path d="M404.3,1052.9L408.3,1052.6L412.4,1053.5L408.3,1051.5Z" fill="#55bd8d"/><path d="M282.8,1015.7L286.9,1040.8L290.9,1041.1L286.9,1014.0Z" fill="#8bbf75"/><path d="M359.7,1025.1L363.8,1024.7L367.8,1018.6L363.8,1009.2Z" fill="#daba55"/><path d="M238.3,1018.5L242.3,1016.5L246.4,1017.5L242.3,1024.0Z" fill="#dbba55"/><path d="M436.7,1056.2L440.7,1072.1L444.8,1074.6L440.7,1081.2Z" fill="#06a7c5"/><path d="M250.2,1001.5L254.5,996.9L260.3,1017.6L256.0,983.8Z" fill="#e8b94f"/><path d="M270.7,1052.7L274.7,1029.1L278.8,1029.4L274.7,1053.4Z" fill="#5abd8b"/><path d="M315.2,1032.0L317.9,1031.5L321.9,1019.1L319.2,1017.9Z" fill="#c8bc5d"/><path d="M347.6,1028.7L351.6,1026.2L355.7,1023.6L351.6,1032.2Z" fill="#bfbc60"/><path d="M226.1,1139.0L230.2,1137.8L234.2,1019.0L230.2,1141.1Z" fill="#363296"/><path d="M424.5,1063.1L428.6,1066.5L432.6,1064.8L428.6,1074.0Z" fill="#1eb3ae"/><path d="M303.0,1044.9L307.1,1038.0L311.1,1041.4L307.1,1038.4Z" fill="#8fbf74"/><path d="M335.4,1018.6L339.5,1024.9L343.5,1020.5L339.5,1002.2Z" fill="#c7bc5d"/><path d="M393.9,1056.3L398.0,1052.6L400.2,1047.6L396.2,1058.1Z" fill="#54bd8e"/><path d="M412.4,1053.5L416.4,1051.2L420.5,1065.2L416.4,1068.5Z" fill="#3ab99c"/><path d="M290.9,1041.1L295.0,1046.6L299.0,1043.3L294.9,1044.3Z" fill="#83bf79"/><path d="M367.8,1018.6L371.9,1026.5L375.9,1020.7L371.9,1007.8Z" fill="#e0ba53"/><path d="M444.8,1074.6L448.8,1116.0L452.8,1140.5L448.8,1102.9Z" fill="#363297"/><path d="M260.3,1017.6L264.3,1028.0L266.6,1029.4L262.6,1011.4Z" fill="#d6ba57"/><path d="M380.0,1029.2L384.0,1041.8L389.9,1048.0L385.8,1031.9Z" fill="#9dbf6e"/><path d="M400.2,1047.6L404.3,1052.9L408.3,1051.5L404.3,1060.8Z" fill="#58bd8c"/><path d="M278.8,1029.4L282.8,1015.7L286.9,1014.0L282.8,1026.6Z" fill="#d6ba57"/><path d="M321.9,1019.1L327.3,1016.3L331.4,1011.2L325.9,1007.5Z" fill="#f0b94a"/><path d="M355.7,1023.6L359.7,1025.1L363.8,1009.2L359.7,1012.5Z" fill="#e3b951"/><path d="M234.2,1019.0L238.3,1018.5L242.3,1024.0L238.3,1037.9Z" fill="#ccbb5b"/><path d="M432.6,1064.8L436.7,1056.2L440.7,1081.2L436.7,1071.2Z" fill="#06a8c4"/><path d="M311.1,1041.4L315.2,1032.0L319.2,1017.9L315.2,1029.9Z" fill="#92bf72"/><path d="M246.4,1017.5L250.2,1001.5L256.0,983.8L252.2,1017.5Z" fill="#e6b950"/><path d="M266.6,1029.4L270.7,1052.7L274.7,1053.4L270.7,1035.0Z" fill="#5abd8b"/><path d="M343.5,1020.5L347.6,1028.7L351.6,1032.2L347.6,1024.5Z" fill="#c7bc5d"/><path d="M420.5,1065.2L424.5,1063.1L428.6,1074.0L424.5,1069.6Z" fill="#1fb3ae"/><path d="M299.0,1043.3L303.0,1044.9L307.1,1038.4L303.0,1046.5Z" fill="#89bf76"/><path d="M331.4,1011.2L335.4,1018.6L339.5,1002.2L335.4,999.2Z" fill="#fec13a"/><path d="M389.9,1048.0L393.9,1056.3L396.2,1058.1L392.1,1049.6Z" fill="#5dbe8a"/><path d="M408.3,1051.5L412.4,1053.5L416.4,1068.5L412.4,1062.9Z" fill="#41ba98"/><path d="M286.9,1014.0L290.9,1041.1L294.9,1044.3L290.9,1027.0Z" fill="#8dbf75"/><path d="M363.8,1009.2L367.8,1018.6L371.9,1007.8L367.8,998.0Z" fill="#e1b952"/><path d="M440.7,1081.2L444.8,1074.6L448.8,1102.9L444.7,1100.9Z" fill="#1485d4"/><path d="M375.9,1020.7L380.0,1029.2L385.8,1031.9L381.8,1010.7Z" fill="#d5bb58"/><path d="M256.0,983.8L260.3,1017.6L262.6,1011.4L258.3,1019.6Z" fill="#e6b94f"/><path d="M396.2,1058.1L400.2,1047.6L404.3,1060.8L400.2,1061.0Z" fill="#4dbc92"/><path d="M274.7,1053.4L278.8,1029.4L282.8,1026.6L278.8,1060.6Z" fill="#4bbc93"/><path d="M319.2,1017.9L321.9,1019.1L325.9,1007.5L323.3,1003.5Z" fill="#f8bb44"/><path d="M351.6,1032.2L355.7,1023.6L359.7,1012.5L355.7,1039.9Z" fill="#a4be6b"/><path d="M230.2,1141.1L234.2,1019.0L238.3,1037.9L234.2,1042.3Z" fill="#343fb0"/><path d="M428.6,1074.0L432.6,1064.8L436.7,1071.2L432.6,1069.8Z" fill="#1bb2b0"/><path d="M307.1,1038.4L311.1,1041.4L315.2,1029.9L311.1,1034.7Z" fill="#a9be69"/><path d="M242.3,1024.0L246.4,1017.5L252.2,1017.5L248.1,1027.4Z" fill="#dbba55"/><path d="M262.6,1011.4L266.6,1029.4L270.7,1035.0L266.6,1017.4Z" fill="#d5ba57"/><path d="M339.5,1002.2L343.5,1020.5L347.6,1024.5L343.5,1005.6Z" fill="#f6ba46"/><path d="M416.4,1068.5L420.5,1065.2L424.5,1069.6L420.5,1074.8Z" fill="#1eb3ae"/><path d="M294.9,1044.3L299.0,1043.3L303.0,1046.5L299.0,1046.3Z" fill="#86bf77"/><path d="M448.8,1102.9L452.8,1140.5L456.9,1142.6L452.8,1143.8Z" fill="#352d8c"/><path d="M385.8,1031.9L389.9,1048.0L392.1,1049.6L388.1,1029.2Z" fill="#9dbe6e"/><path d="M404.3,1060.8L408.3,1051.5L412.4,1062.9L408.3,1064.0Z" fill="#43bb97"/><path d="M282.8,1026.6L286.9,1014.0L290.9,1027.0L286.9,1034.6Z" fill="#d0bb5a"/><path d="M325.9,1007.5L331.4,1011.2L335.4,999.2L330.0,993.9Z" fill="#fcce2e"/><path d="M359.7,1012.5L363.8,1009.2L367.8,998.0L363.8,999.1Z" fill="#fdca31"/><path d="M436.7,1071.2L440.7,1081.2L444.7,1100.9L440.7,1077.6Z" fill="#118cd2"/><path d="M315.2,1029.9L319.2,1017.9L323.3,1003.5L319.2,1015.4Z" fill="#c5bc5e"/><path d="M371.9,1007.8L375.9,1020.7L381.8,1010.7L377.7,996.0Z" fill="#deba53"/><path d="M252.2,1017.5L256.0,983.8L258.3,1019.6L254.5,1013.1Z" fill="#e8b94f"/><path d="M392.1,1049.6L396.2,1058.1L400.2,1061.0L396.2,1053.4Z" fill="#59bd8c"/><path d="M270.7,1035.0L274.7,1053.4L278.8,1060.6L274.7,1034.6Z" fill="#4abc94"/><path d="M347.6,1024.5L351.6,1032.2L355.7,1039.9L351.6,1026.5Z" fill="#bfbc60"/><path d="M226.1,1142.3L230.2,1141.1L234.2,1042.3L230.2,1144.4Z" fill="#363093"/><path d="M424.5,1069.6L428.6,1074.0L432.6,1069.8L428.6,1074.7Z" fill="#19b2b2"/><path d="M303.0,1046.5L307.1,1038.4L311.1,1034.7L307.1,1040.0Z" fill="#9fbe6d"/><path d="M238.3,1037.9L242.3,1024.0L248.1,1027.4L244.1,1036.4Z" fill="#bebc61"/><path d="M258.3,1019.6L262.6,1011.4L266.6,1017.4L262.3,1018.6Z" fill="#eeb94b"/><path d="M335.4,999.2L339.5,1002.2L343.5,1005.6L339.5,993.9Z" fill="#f9d528"/><path d="M412.4,1062.9L416.4,1068.5L420.5,1074.8L416.4,1067.8Z" fill="#25b5aa"/><path d="M290.9,1027.0L294.9,1044.3L299.0,1046.3L294.9,1034.4Z" fill="#a7be6a"/><path d="M169.4,1142.7L173.5,1141.5L177.5,1143.6L173.5,1106.5Z" fill="#352d8c"/><path d="M444.7,1100.9L448.8,1102.9L452.8,1143.8L448.8,1102.4Z" fill="#363296"/><path d="M381.8,1010.7L385.8,1031.9L388.1,1029.2L384.0,1005.2Z" fill="#bfbc61"/><path d="M400.2,1061.0L404.3,1060.8L408.3,1064.0L404.3,1065.2Z" fill="#3cba9b"/><path d="M278.8,1060.6L282.8,1026.6L286.9,1034.6L282.8,1063.6Z" fill="#46bb96"/><path d="M323.3,1003.5L325.9,1007.5L330.0,993.9L327.3,997.3Z" fill="#f9d528"/><path d="M355.7,1039.9L359.7,1012.5L363.8,999.1L359.7,1027.3Z" fill="#a8be6a"/><path d="M432.6,1069.8L436.7,1071.2L440.7,1077.6L436.7,1069.9Z" fill="#1bb2b0"/><path d="M311.1,1034.7L315.2,1029.9L319.2,1015.4L315.2,1026.0Z" fill="#d1bb59"/><path d="M248.1,1027.4L252.2,1017.5L254.5,1013.1L250.4,1036.2Z" fill="#dbba55"/><path d="M367.8,998.0L371.9,1007.8L377.7,996.0L373.7,992.8Z" fill="#f7da25"/><path d="M388.1,1029.2L392.1,1049.6L396.2,1053.4L392.1,1033.5Z" fill="#70bf81"/><path d="M266.6,1017.4L270.7,1035.0L274.7,1034.6L270.7,1022.9Z" fill="#cebb5a"/><path d="M343.5,1005.6L347.6,1024.5L351.6,1026.5L347.6,1011.1Z" fill="#f1b94a"/><path d="M420.5,1074.8L424.5,1069.6L428.6,1074.7L424.5,1070.2Z" fill="#1bb2b0"/><path d="M299.0,1046.3L303.0,1046.5L307.1,1040.0L303.0,1051.9Z" fill="#8abf76"/><path d="M234.2,1042.3L238.3,1037.9L244.1,1036.4L240.0,1041.3Z" fill="#a5be6b"/><path d="M254.5,1013.1L258.3,1019.6L262.3,1018.6L258.5,1021.3Z" fill="#eeb94b"/><path d="M408.3,1064.0L412.4,1062.9L416.4,1067.8L412.4,1080.3Z" fill="#28b6a7"/><path d="M286.9,1034.6L290.9,1027.0L294.9,1034.4L290.9,1052.6Z" fill="#afbe67"/><path d="M165.4,1143.9L169.4,1142.7L173.5,1106.5L169.4,1146.0Z" fill="#352d8c"/><path d="M330.0,993.9L335.4,999.2L339.5,993.9L334.0,993.2Z" fill="#f5e41d"/><path d="M440.7,1077.6L444.7,1100.9L448.8,1102.4L444.7,1096.4Z" fill="#138ad3"/><path d="M319.2,1015.4L323.3,1003.5L327.3,997.3L323.3,1008.6Z" fill="#fdcb30"/><path d="M377.7,996.0L381.8,1010.7L384.0,1005.2L380.0,992.7Z" fill="#f8d627"/><path d="M396.2,1053.4L400.2,1061.0L404.3,1065.2L400.2,1064.1Z" fill="#49bc94"/><path d="M274.7,1034.6L278.8,1060.6L282.8,1063.6L278.8,1052.1Z" fill="#44bb97"/><path d="M351.6,1026.5L355.7,1039.9L359.7,1027.3L355.7,1028.8Z" fill="#c7bc5d"/><path d="M428.6,1074.7L432.6,1069.8L436.7,1069.9L432.6,1073.5Z" fill="#1fb3ad"/><path d="M307.1,1040.0L311.1,1034.7L315.2,1026.0L311.1,1041.9Z" fill="#b6bd64"/><path d="M244.1,1036.4L248.1,1027.4L250.4,1036.2L246.4,1036.5Z" fill="#bcbd62"/><path d="M363.8,999.1L367.8,998.0L373.7,992.8L369.6,999.3Z" fill="#f5e020"/><path d="M384.0,1005.2L388.1,1029.2L392.1,1033.5L388.1,1023.7Z" fill="#c3bc5f"/><path d="M262.3,1018.6L266.6,1017.4L270.7,1022.9L266.4,1022.7Z" fill="#e9b94e"/><path d="M339.5,993.9L343.5,1005.6L347.6,1011.1L343.5,994.7Z" fill="#f8d727"/><path d="M416.4,1067.8L420.5,1074.8L424.5,1070.2L420.5,1074.4Z" fill="#21b4ac"/><path d="M294.9,1034.4L299.0,1046.3L303.0,1051.9L299.0,1038.1Z" fill="#9dbe6e"/><path d="M173.5,1106.5L177.5,1143.6L181.6,1145.7L177.5,1146.9Z" fill="#352d8c"/><path d="M230.2,1144.4L234.2,1042.3L240.0,1041.3L236.0,1051.1Z" fill="#353dad"/><path d="M250.4,1036.2L254.5,1013.1L258.5,1021.3L254.5,1035.6Z" fill="#d6ba57"/><path d="M448.8,1102.4L452.8,1143.8L456.9,1145.9L452.8,1147.1Z" fill="#352d8c"/><path d="M404.3,1065.2L408.3,1064.0L412.4,1080.3L408.3,1069.4Z" fill="#29b6a7"/><path d="M282.8,1063.6L286.9,1034.6L290.9,1052.6L286.8,1074.1Z" fill="#25b5aa"/><path d="M327.3,997.3L330.0,993.9L334.0,993.2L331.4,994.0Z" fill="#f5e91a"/><path d="M436.7,1069.9L440.7,1077.6L444.7,1096.4L440.7,1086.8Z" fill="#089ad0"/><path d="M315.2,1026.0L319.2,1015.4L323.3,1008.6L319.2,1022.3Z" fill="#f3ba48"/><path d="M373.7,992.8L377.7,996.0L380.0,992.7L375.9,993.9Z" fill="#f5eb18"/><path d="M392.1,1033.5L396.2,1053.4L400.2,1064.1L396.2,1050.9Z" fill="#48bb95"/><path d="M270.7,1022.9L274.7,1034.6L278.8,1052.1L274.7,1032.0Z" fill="#82bf79"/><path d="M347.6,1011.1L351.6,1026.5L355.7,1028.8L351.6,1001.0Z" fill="#d6ba57"/><path d="M424.5,1070.2L428.6,1074.7L432.6,1073.5L428.6,1068.0Z" fill="#24b5aa"/><path d="M303.0,1051.9L307.1,1040.0L311.1,1041.9L307.1,1051.6Z" fill="#92bf72"/><path d="M240.0,1041.3L244.1,1036.4L246.4,1036.5L242.3,1046.0Z" fill="#abbe69"/><path d="M359.7,1027.3L363.8,999.1L369.6,999.3L365.6,1012.4Z" fill="#daba55"/><path d="M380.0,992.7L384.0,1005.2L388.1,1023.7L384.0,1010.9Z" fill="#e9b94e"/><path d="M258.5,1021.3L262.3,1018.6L266.4,1022.7L262.6,1033.2Z" fill="#e2b952"/><path d="M412.4,1080.3L416.4,1067.8L420.5,1074.4L416.4,1076.4Z" fill="#1bb2b0"/><path d="M290.9,1052.6L294.9,1034.4L299.0,1038.1L294.9,1061.9Z" fill="#5bbd8b"/><path d="M169.4,1146.0L173.5,1106.5L177.5,1146.9L173.5,1148.1Z" fill="#352d8c"/><path d="M226.1,1145.5L230.2,1144.4L236.0,1051.1L231.9,1049.1Z" fill="#36369f"/><path d="M334.0,993.2L339.5,993.9L343.5,994.7L338.1,995.3Z" fill="#f5ec17"/><path d="M246.4,1036.5L250.4,1036.2L254.5,1035.6L250.4,1039.0Z" fill="#b8bd63"/><path d="M444.7,1096.4L448.8,1102.4L452.8,1147.1L448.8,1109.4Z" fill="#363297"/><path d="M323.3,1008.6L327.3,997.3L331.4,994.0L327.3,1003.9Z" fill="#f6db23"/><path d="M400.2,1064.1L404.3,1065.2L408.3,1069.4L404.3,1070.2Z" fill="#37b99e"/><path d="M278.8,1052.1L282.8,1063.6L286.8,1074.1L282.8,1047.2Z" fill="#24b5aa"/><path d="M432.6,1073.5L436.7,1069.9L440.7,1086.8L436.6,1071.0Z" fill="#1bb2b0"/><path d="M311.1,1041.9L315.2,1026.0L319.2,1022.3L315.2,1037.3Z" fill="#cabb5c"/><path d="M369.6,999.3L373.7,992.8L375.9,993.9L371.9,996.9Z" fill="#f5e919"/><path d="M388.1,1023.7L392.1,1033.5L396.2,1050.9L392.1,1034.6Z" fill="#8bbf75"/><path d="M266.4,1022.7L270.7,1022.9L274.7,1032.0L270.4,1030.0Z" fill="#dbba55"/><path d="M343.5,994.7L347.6,1011.1L351.6,1001.0L347.6,999.6Z" fill="#f6db24"/><path d="M420.5,1074.4L424.5,1070.2L428.6,1068.0L424.5,1074.7Z" fill="#28b6a8"/><path d="M299.0,1038.1L303.0,1051.9L307.1,1051.6L303.0,1053.4Z" fill="#8dbf74"/><path d="M236.0,1051.1L240.0,1041.3L242.3,1046.0L238.3,1047.7Z" fill="#96bf71"/><path d="M355.7,1028.8L359.7,1027.3L365.6,1012.4L361.5,1017.5Z" fill="#edb94c"/><path d="M375.9,993.9L380.0,992.7L384.0,1010.9L380.0,1010.6Z" fill="#f7da24"/><path d="M254.5,1035.6L258.5,1021.3L262.6,1033.2L258.5,1039.6Z" fill="#cabb5c"/><path d="M408.3,1069.4L412.4,1080.3L416.4,1076.4L412.4,1070.8Z" fill="#21b4ac"/><path d="M286.8,1074.1L290.9,1052.6L294.9,1061.9L290.9,1084.1Z" fill="#0eaeba"/><path d="M222.1,1146.7L226.1,1145.5L231.9,1049.1L227.9,1149.7Z" fill="#363093"/><path d="M331.4,994.0L334.0,993.2L338.1,995.3L335.4,996.1Z" fill="#f5ef16"/><path d="M242.3,1046.0L246.4,1036.5L250.4,1039.0L246.4,1048.8Z" fill="#a7be6a"/><path d="M440.7,1086.8L444.7,1096.4L448.8,1109.4L444.7,1106.1Z" fill="#0b95d2"/><path d="M319.2,1022.3L323.3,1008.6L327.3,1003.9L323.3,1021.7Z" fill="#fec239"/><path d="M396.2,1050.9L400.2,1064.1L404.3,1070.2L400.2,1060.6Z" fill="#56bd8d"/><path d="M274.7,1032.0L278.8,1052.1L282.8,1047.2L278.7,1041.7Z" fill="#a6be6b"/><path d="M428.6,1068.0L432.6,1073.5L436.6,1071.0L432.6,1076.6Z" fill="#29b6a7"/><path d="M307.1,1051.6L311.1,1041.9L315.2,1037.3L311.1,1051.1Z" fill="#9ebe6e"/><path d="M365.6,1012.4L369.6,999.3L371.9,996.9L367.8,1013.2Z" fill="#f9d528"/><path d="M384.0,1010.9L388.1,1023.7L392.1,1034.6L388.1,1032.3Z" fill="#e4b951"/><path d="M262.6,1033.2L266.4,1022.7L270.4,1030.0L266.6,1038.9Z" fill="#d1bb59"/><path d="M416.4,1076.4L420.5,1074.4L424.5,1074.7L420.5,1070.9Z" fill="#24b5aa"/><path d="M294.9,1061.9L299.0,1038.1L303.0,1053.4L299.0,1075.4Z" fill="#2bb6a6"/><path d="M231.9,1049.1L236.0,1051.1L238.3,1047.7L234.2,1051.7Z" fill="#8dbf74"/><path d="M351.6,1001.0L355.7,1028.8L361.5,1017.5L357.5,1013.8Z" fill="#d8ba56"/><path d="M338.1,995.3L343.5,994.7L347.6,999.6L342.1,1001.0Z" fill="#f5e81a"/><path d="M371.9,996.9L375.9,993.9L380.0,1010.6L375.9,1007.0Z" fill="#f6dd22"/><path d="M250.4,1039.0L254.5,1035.6L258.5,1039.6L254.5,1045.2Z" fill="#b4bd65"/><path d="M448.8,1109.4L452.8,1147.1L456.9,1149.1L452.8,1150.3Z" fill="#352d8c"/><path d="M327.3,1003.9L331.4,994.0L335.4,996.1L331.4,1010.0Z" fill="#f5e020"/><path d="M404.3,1070.2L408.3,1069.4L412.4,1070.8L408.3,1069.1Z" fill="#35b8a0"/><path d="M282.8,1047.2L286.8,1074.1L290.9,1084.1L286.8,1053.6Z" fill="#0faeb9"/><path d="M238.3,1047.7L242.3,1046.0L246.4,1048.8L242.3,1052.1Z" fill="#94bf71"/><path d="M436.6,1071.0L440.7,1086.8L444.7,1106.1L440.7,1081.1Z" fill="#108fd2"/><path d="M315.2,1037.3L319.2,1022.3L323.3,1021.7L319.2,1034.8Z" fill="#dbba55"/><path d="M392.1,1034.6L396.2,1050.9L400.2,1060.6L396.2,1057.2Z" fill="#66be85"/><path d="M270.4,1030.0L274.7,1032.0L278.7,1041.7L274.5,1037.6Z" fill="#c6bc5e"/><path d="M424.5,1074.7L428.6,1068.0L432.6,1076.6L428.5,1076.1Z" fill="#28b6a8"/><path d="M303.0,1053.4L307.1,1051.6L311.1,1051.1L307.1,1053.6Z" fill="#86bf77"/><path d="M361.5,1017.5L365.6,1012.4L367.8,1013.2L363.8,1017.9Z" fill="#ffc238"/><path d="M380.0,1010.6L384.0,1010.9L388.1,1032.3L384.0,1025.2Z" fill="#f9bb43"/><path d="M258.5,1039.6L262.6,1033.2L266.6,1038.9L262.6,1045.9Z" fill="#b9bd63"/><path d="M412.4,1070.8L416.4,1076.4L420.5,1070.9L416.4,1074.5Z" fill="#2cb6a5"/><path d="M290.9,1084.1L294.9,1061.9L299.0,1075.4L294.9,1090.2Z" fill="#07a9c2"/><path d="M227.9,1149.7L231.9,1049.1L234.2,1051.7L230.2,1150.9Z" fill="#3636a0"/><path d="M347.6,999.6L351.6,1001.0L357.5,1013.8L353.4,1018.4Z" fill="#fad22a"/><path d="M335.4,996.1L338.1,995.3L342.1,1001.0L339.5,1005.9Z" fill="#f5e61b"/><path d="M367.8,1013.2L371.9,996.9L375.9,1007.0L371.9,1018.4Z" fill="#fbd12b"/><path d="M246.4,1048.8L250.4,1039.0L254.5,1045.2L250.4,1056.1Z" fill="#9dbe6e"/><path d="M444.7,1106.1L448.8,1109.4L452.8,1150.3L448.8,1106.2Z" fill="#363297"/><path d="M323.3,1021.7L327.3,1003.9L331.4,1010.0L327.3,1031.5Z" fill="#dfba53"/><path d="M400.2,1060.6L404.3,1070.2L408.3,1069.1L404.3,1070.4Z" fill="#43bb97"/><path d="M278.7,1041.7L282.8,1047.2L286.8,1053.6L282.8,1043.8Z" fill="#a1be6d"/><path d="M234.2,1051.7L238.3,1047.7L242.3,1052.1L238.3,1060.4Z" fill="#87bf77"/><path d="M432.6,1076.6L436.6,1071.0L440.7,1081.1L436.6,1085.4Z" fill="#1bb2b0"/><path d="M311.1,1051.1L315.2,1037.3L319.2,1034.8L315.2,1050.5Z" fill="#adbe67"/><path d="M388.1,1032.3L392.1,1034.6L396.2,1057.2L392.1,1051.7Z" fill="#7dbf7b"/><path d="M266.6,1038.9L270.4,1030.0L274.5,1037.6L270.6,1048.9Z" fill="#bebc61"/><path d="M420.5,1070.9L424.5,1074.7L428.5,1076.1L424.5,1083.2Z" fill="#24b5aa"/><path d="M299.0,1075.4L303.0,1053.4L307.1,1053.6L303.0,1074.7Z" fill="#55bd8e"/><path d="M357.5,1013.8L361.5,1017.5L363.8,1017.9L359.7,1019.7Z" fill="#fec13a"/><path d="M375.9,1007.0L380.0,1010.6L384.0,1025.2L380.0,1038.0Z" fill="#cdbb5b"/><path d="M254.5,1045.2L258.5,1039.6L262.6,1045.9L258.5,1049.8Z" fill="#a9be69"/><path d="M331.4,1010.0L335.4,996.1L339.5,1005.9L335.4,1015.7Z" fill="#f8d727"/><path d="M408.3,1069.1L412.4,1070.8L416.4,1074.5L412.4,1081.8Z" fill="#2db7a5"/><path d="M286.8,1053.6L290.9,1084.1L294.9,1090.2L290.9,1075.8Z" fill="#07aac2"/><path d="M363.8,1017.9L367.8,1013.2L371.9,1018.4L367.8,1031.3Z" fill="#fbbc40"/><path d="M242.3,1052.1L246.4,1048.8L250.4,1056.1L246.4,1059.3Z" fill="#86bf77"/><path d="M440.7,1081.1L444.7,1106.1L448.8,1106.2L444.7,1130.0Z" fill="#046de0"/><path d="M319.2,1034.8L323.3,1021.7L327.3,1031.5L323.3,1041.5Z" fill="#d6ba57"/><path d="M342.1,1001.0L347.6,999.6L353.4,1018.4L348.0,995.8Z" fill="#ffc436"/><path d="M396.2,1057.2L400.2,1060.6L404.3,1070.4L400.2,1066.0Z" fill="#5bbd8a"/><path d="M274.5,1037.6L278.7,1041.7L282.8,1043.8L278.5,1048.0Z" fill="#b3bd65"/><path d="M230.2,1150.9L234.2,1051.7L238.3,1060.4L234.2,1059.4Z" fill="#353cab"/><path d="M428.5,1076.1L432.6,1076.6L436.6,1085.4L432.6,1084.1Z" fill="#19b2b2"/><path d="M307.1,1053.6L311.1,1051.1L315.2,1050.5L311.1,1062.2Z" fill="#87bf77"/><path d="M384.0,1025.2L388.1,1032.3L392.1,1051.7L388.1,1052.9Z" fill="#98bf70"/><path d="M262.6,1045.9L266.6,1038.9L270.6,1048.9L266.6,1052.5Z" fill="#a7be6a"/><path d="M416.4,1074.5L420.5,1070.9L424.5,1083.2L420.4,1069.8Z" fill="#2eb7a4"/><path d="M294.9,1090.2L299.0,1075.4L303.0,1074.7L299.0,1095.0Z" fill="#11afb8"/><path d="M353.4,1018.4L357.5,1013.8L359.7,1019.7L355.7,1033.4Z" fill="#fabc41"/><path d="M371.9,1018.4L375.9,1007.0L380.0,1038.0L375.9,1038.0Z" fill="#cbbb5b"/><path d="M250.4,1056.1L254.5,1045.2L258.5,1049.8L254.5,1052.6Z" fill="#97bf70"/><path d="M448.8,1106.2L452.8,1150.3L456.9,1152.4L452.8,1153.6Z" fill="#352d8d"/><path d="M327.3,1031.5L331.4,1010.0L335.4,1015.7L331.4,1033.7Z" fill="#f8ba45"/><path d="M404.3,1070.4L408.3,1069.1L412.4,1081.8L408.3,1072.9Z" fill="#33b8a1"/><path d="M282.8,1043.8L286.8,1053.6L290.9,1075.8L286.8,1071.0Z" fill="#32b8a2"/><path d="M359.7,1019.7L363.8,1017.9L367.8,1031.3L363.8,1038.1Z" fill="#ecb94c"/><path d="M238.3,1060.4L242.3,1052.1L246.4,1059.3L242.3,1063.6Z" fill="#76bf7e"/><path d="M436.6,1085.4L440.7,1081.1L444.7,1130.0L440.7,1086.3Z" fill="#066fdf"/><path d="M315.2,1050.5L319.2,1034.8L323.3,1041.5L319.2,1056.3Z" fill="#acbe68"/><path d="M339.5,1005.9L342.1,1001.0L348.0,995.8L345.3,1030.8Z" fill="#ecb94c"/><path d="M392.1,1051.7L396.2,1057.2L400.2,1066.0L396.2,1063.6Z" fill="#74bf7f"/><path d="M270.6,1048.9L274.5,1037.6L278.5,1048.0L274.7,1044.6Z" fill="#b0bd66"/><path d="M226.1,1152.1L230.2,1150.9L234.2,1059.4L230.2,1154.1Z" fill="#363093"/><path d="M424.5,1083.2L428.5,1076.1L432.6,1084.1L428.5,1077.9Z" fill="#1db3af"/><path d="M303.0,1074.7L307.1,1053.6L311.1,1062.2L307.1,1073.8Z" fill="#56bd8d"/><path d="M380.0,1038.0L384.0,1025.2L388.1,1052.9L384.0,1056.8Z" fill="#8ebf74"/><path d="M258.5,1049.8L262.6,1045.9L266.6,1052.5L262.6,1050.9Z" fill="#9fbe6d"/><path d="M412.4,1081.8L416.4,1074.5L420.4,1069.8L416.4,1075.0Z" fill="#30b7a3"/><path d="M290.9,1075.8L294.9,1090.2L299.0,1095.0L294.9,1078.1Z" fill="#11afb7"/><path d="M367.8,1031.3L371.9,1018.4L375.9,1038.0L371.9,1045.7Z" fill="#b9bd63"/><path d="M246.4,1059.3L250.4,1056.1L254.5,1052.6L250.4,1059.3Z" fill="#83bf78"/><path d="M444.7,1130.0L448.8,1106.2L452.8,1153.6L448.8,1154.8Z" fill="#362e8f"/><path d="M323.3,1041.5L327.3,1031.5L331.4,1033.7L327.3,1050.0Z" fill="#c6bc5d"/><path d="M348.0,995.8L353.4,1018.4L355.7,1033.4L350.2,1040.1Z" fill="#cebb5a"/><path d="M400.2,1066.0L404.3,1070.4L408.3,1072.9L404.3,1075.7Z" fill="#41ba98"/><path d="M335.4,1015.7L339.5,1005.9L345.3,1030.8L341.3,1042.3Z" fill="#c9bc5c"/><path d="M278.5,1048.0L282.8,1043.8L286.8,1071.0L282.6,1074.4Z" fill="#41ba98"/><path d="M355.7,1033.4L359.7,1019.7L363.8,1038.1L359.7,1042.2Z" fill="#daba55"/><path d="M234.2,1059.4L238.3,1060.4L242.3,1063.6L238.3,1062.1Z" fill="#70bf81"/><path d="M432.6,1084.1L436.6,1085.4L440.7,1086.3L436.6,1088.9Z" fill="#0faeb9"/><path d="M311.1,1062.2L315.2,1050.5L319.2,1056.3L315.2,1064.4Z" fill="#7ebf7a"/><path d="M388.1,1052.9L392.1,1051.7L396.2,1063.6L392.1,1058.4Z" fill="#86bf77"/><path d="M266.6,1052.5L270.6,1048.9L274.7,1044.6L270.6,1053.5Z" fill="#a2be6c"/><path d="M420.4,1069.8L424.5,1083.2L428.5,1077.9L424.5,1079.9Z" fill="#2ab6a6"/><path d="M299.0,1095.0L303.0,1074.7L307.1,1073.8L303.0,1089.0Z" fill="#18b2b2"/><path d="M375.9,1038.0L380.0,1038.0L384.0,1056.8L380.0,1058.1Z" fill="#abbe68"/><path d="M254.5,1052.6L258.5,1049.8L262.6,1050.9L258.5,1059.7Z" fill="#96bf71"/><path d="M408.3,1072.9L412.4,1081.8L416.4,1075.0L412.3,1086.9Z" fill="#26b5a9"/><path d="M286.8,1071.0L290.9,1075.8L294.9,1078.1L290.9,1073.0Z" fill="#38b99e"/><path d="M363.8,1038.1L367.8,1031.3L371.9,1045.7L367.8,1052.8Z" fill="#c1bc60"/><path d="M242.3,1063.6L246.4,1059.3L250.4,1059.3L246.4,1058.9Z" fill="#79bf7d"/><path d="M440.7,1086.3L444.7,1130.0L448.8,1154.8L444.7,1111.0Z" fill="#363398"/><path d="M319.2,1056.3L323.3,1041.5L327.3,1050.0L323.3,1054.0Z" fill="#a3be6c"/><path d="M345.3,1030.8L348.0,995.8L350.2,1040.1L347.6,1035.5Z" fill="#cdbb5b"/><path d="M396.2,1063.6L400.2,1066.0L404.3,1075.7L400.2,1070.3Z" fill="#51bd8f"/><path d="M331.4,1033.7L335.4,1015.7L341.3,1042.3L337.2,1051.0Z" fill="#aebe67"/><path d="M274.7,1044.6L278.5,1048.0L282.6,1074.4L278.7,1074.9Z" fill="#41ba98"/><path d="M230.2,1154.1L234.2,1059.4L238.3,1062.1L234.2,1060.4Z" fill="#353cab"/><path d="M428.5,1077.9L432.6,1084.1L436.6,1088.9L432.6,1082.9Z" fill="#1ab2b1"/><path d="M307.1,1073.8L311.1,1062.2L315.2,1064.4L311.1,1075.5Z" fill="#52bd8f"/><path d="M350.2,1040.1L355.7,1033.4L359.7,1042.2L354.3,1054.5Z" fill="#c0bc60"/><path d="M384.0,1056.8L388.1,1052.9L392.1,1058.4L388.1,1065.7Z" fill="#84bf78"/><path d="M262.6,1050.9L266.6,1052.5L270.6,1053.5L266.6,1053.6Z" fill="#9cbf6e"/><path d="M416.4,1075.0L420.4,1069.8L424.5,1079.9L420.4,1080.5Z" fill="#34b8a0"/><path d="M294.9,1078.1L299.0,1095.0L303.0,1089.0L299.0,1080.1Z" fill="#15b0b5"/><path d="M371.9,1045.7L375.9,1038.0L380.0,1058.1L375.9,1051.5Z" fill="#adbe68"/><path d="M250.4,1059.3L254.5,1052.6L258.5,1059.7L254.5,1065.7Z" fill="#81bf79"/><path d="M404.3,1075.7L408.3,1072.9L412.3,1086.9L408.3,1080.6Z" fill="#2bb6a6"/><path d="M341.3,1042.3L345.3,1030.8L347.6,1035.5L343.5,1049.2Z" fill="#cdbb5b"/><path d="M282.6,1074.4L286.8,1071.0L290.9,1073.0L286.6,1078.3Z" fill="#3eba9a"/><path d="M359.7,1042.2L363.8,1038.1L367.8,1052.8L363.8,1057.5Z" fill="#b1bd66"/><path d="M238.3,1062.1L242.3,1063.6L246.4,1058.9L242.3,1062.7Z" fill="#78bf7d"/><path d="M436.6,1088.9L440.7,1086.3L444.7,1111.0L440.7,1095.7Z" fill="#06a7c6"/><path d="M315.2,1064.4L319.2,1056.3L323.3,1054.0L319.2,1066.6Z" fill="#7fbf7a"/><path d="M392.1,1058.4L396.2,1063.6L400.2,1070.3L396.2,1072.5Z" fill="#64be86"/><path d="M270.6,1053.5L274.7,1044.6L278.7,1074.9L274.7,1077.1Z" fill="#3fba99"/><path d="M327.3,1050.0L331.4,1033.7L337.2,1051.0L333.2,1067.5Z" fill="#6fbf81"/><path d="M226.1,1155.3L230.2,1154.1L234.2,1060.4L230.2,1157.4Z" fill="#363093"/><path d="M424.5,1079.9L428.5,1077.9L432.6,1082.9L428.5,1084.3Z" fill="#25b5aa"/><path d="M303.0,1089.0L307.1,1073.8L311.1,1075.5L307.1,1097.1Z" fill="#1cb3af"/><path d="M347.6,1035.5L350.2,1040.1L354.3,1054.5L351.6,1060.3Z" fill="#b3bd65"/><path d="M380.0,1058.1L384.0,1056.8L388.1,1065.7L384.0,1072.4Z" fill="#73bf7f"/><path d="M258.5,1059.7L262.6,1050.9L266.6,1053.6L262.5,1055.0Z" fill="#98bf70"/><path d="M412.3,1086.9L416.4,1075.0L420.4,1080.5L416.4,1087.6Z" fill="#22b4ac"/><path d="M290.9,1073.0L294.9,1078.1L299.0,1080.1L294.9,1075.6Z" fill="#37b99e"/><path d="M367.8,1052.8L371.9,1045.7L375.9,1051.5L371.9,1062.5Z" fill="#a0be6d"/><path d="M246.4,1058.9L250.4,1059.3L254.5,1065.7L250.4,1064.0Z" fill="#7bbf7c"/><path d="M444.7,1111.0L448.8,1154.8L452.8,1156.8L448.8,1158.0Z" fill="#352d8d"/><path d="M400.2,1070.3L404.3,1075.7L408.3,1080.6L404.3,1083.0Z" fill="#35b89f"/><path d="M337.2,1051.0L341.3,1042.3L343.5,1049.2L339.5,1054.0Z" fill="#b0be67"/><path d="M278.7,1074.9L282.6,1074.4L286.6,1078.3L282.8,1081.2Z" fill="#36b99f"/><path d="M234.2,1060.4L238.3,1062.1L242.3,1062.7L238.3,1064.3Z" fill="#7bbf7c"/><path d="M432.6,1082.9L436.6,1088.9L440.7,1095.7L436.6,1096.4Z" fill="#0cadbc"/><path d="M311.1,1075.5L315.2,1064.4L319.2,1066.6L315.2,1077.7Z" fill="#52bd8f"/><path d="M354.3,1054.5L359.7,1042.2L363.8,1057.5L358.3,1064.0Z" fill="#9cbf6e"/><path d="M388.1,1065.7L392.1,1058.4L396.2,1072.5L392.1,1079.6Z" fill="#5cbe8a"/><path d="M266.6,1053.6L270.6,1053.5L274.7,1077.1L270.6,1085.0Z" fill="#27b5a8"/><path d="M323.3,1054.0L327.3,1050.0L333.2,1067.5L329.1,1069.6Z" fill="#85bf78"/><path d="M343.5,1049.2L347.6,1035.5L351.6,1060.3L347.6,1061.9Z" fill="#89bf76"/><path d="M420.4,1080.5L424.5,1079.9L428.5,1084.3L424.5,1079.6Z" fill="#2ab6a7"/><path d="M299.0,1080.1L303.0,1089.0L307.1,1097.1L303.0,1088.3Z" fill="#12afb7"/><path d="M375.9,1051.5L380.0,1058.1L384.0,1072.4L380.0,1073.4Z" fill="#76bf7e"/><path d="M254.5,1065.7L258.5,1059.7L262.5,1055.0L258.5,1065.0Z" fill="#81bf79"/><path d="M408.3,1080.6L412.3,1086.9L416.4,1087.6L412.3,1080.8Z" fill="#21b4ac"/><path d="M286.6,1078.3L290.9,1073.0L294.9,1075.6L290.7,1073.4Z" fill="#43bb97"/><path d="M363.8,1057.5L367.8,1052.8L371.9,1062.5L367.8,1063.0Z" fill="#8dbf74"/><path d="M242.3,1062.7L246.4,1058.9L250.4,1064.0L246.4,1067.8Z" fill="#7abf7c"/><path d="M440.7,1095.7L444.7,1111.0L448.8,1158.0L444.7,1115.6Z" fill="#36349a"/><path d="M396.2,1072.5L400.2,1070.3L404.3,1083.0L400.2,1084.4Z" fill="#3ab99d"/><path d="M274.7,1077.1L278.7,1074.9L282.8,1081.2L278.7,1078.2Z" fill="#38b99d"/><path d="M333.2,1067.5L337.2,1051.0L339.5,1054.0L335.4,1071.1Z" fill="#86bf77"/><path d="M230.2,1157.4L234.2,1060.4L238.3,1064.3L234.2,1070.7Z" fill="#353caa"/><path d="M428.5,1084.3L432.6,1082.9L436.6,1096.4L432.6,1086.7Z" fill="#17b1b3"/><path d="M307.1,1097.1L311.1,1075.5L315.2,1077.7L311.1,1086.2Z" fill="#22b4ab"/><path d="M351.6,1060.3L354.3,1054.5L358.3,1064.0L355.7,1066.9Z" fill="#85bf78"/><path d="M384.0,1072.4L388.1,1065.7L392.1,1079.6L388.1,1076.4Z" fill="#4cbc92"/><path d="M262.5,1055.0L266.6,1053.6L270.6,1085.0L266.6,1083.8Z" fill="#26b5a9"/><path d="M319.2,1066.6L323.3,1054.0L329.1,1069.6L325.1,1071.5Z" fill="#73bf7f"/><path d="M339.5,1054.0L343.5,1049.2L347.6,1061.9L343.5,1070.1Z" fill="#91bf73"/><path d="M416.4,1087.6L420.4,1080.5L424.5,1079.6L420.4,1085.9Z" fill="#26b5a9"/><path d="M294.9,1075.6L299.0,1080.1L303.0,1088.3L299.0,1079.4Z" fill="#2fb7a3"/><path d="M371.9,1062.5L375.9,1051.5L380.0,1073.4L375.9,1078.6Z" fill="#43bb97"/><path d="M250.4,1064.0L254.5,1065.7L258.5,1065.0L254.4,1063.5Z" fill="#78bf7d"/><path d="M404.3,1083.0L408.3,1080.6L412.3,1080.8L408.3,1083.7Z" fill="#2cb7a5"/><path d="M282.8,1081.2L286.6,1078.3L290.7,1073.4L286.8,1082.8Z" fill="#38b99e"/><path d="M238.3,1064.3L242.3,1062.7L246.4,1067.8L242.3,1062.1Z" fill="#7cbf7c"/><path d="M436.6,1096.4L440.7,1095.7L444.7,1115.6L440.7,1095.8Z" fill="#06a4c9"/><path d="M358.3,1064.0L363.8,1057.5L367.8,1063.0L362.4,1079.2Z" fill="#75bf7f"/><path d="M392.1,1079.6L396.2,1072.5L400.2,1084.4L396.2,1081.1Z" fill="#37b99e"/><path d="M270.6,1085.0L274.7,1077.1L278.7,1078.2L274.7,1089.5Z" fill="#2cb6a5"/><path d="M329.1,1069.6L333.2,1067.5L335.4,1071.1L331.4,1073.4Z" fill="#60be88"/><path d="M347.6,1061.9L351.6,1060.3L355.7,1066.9L351.6,1067.9Z" fill="#7dbf7b"/><path d="M226.1,1158.6L230.2,1157.4L234.2,1070.7L230.2,1160.7Z" fill="#363092"/><path d="M424.5,1079.6L428.5,1084.3L432.6,1086.7L428.5,1083.2Z" fill="#28b6a7"/><path d="M303.0,1088.3L307.1,1097.1L311.1,1086.2L307.1,1088.7Z" fill="#14b0b5"/><path d="M380.0,1073.4L384.0,1072.4L388.1,1076.4L384.0,1084.1Z" fill="#44bb97"/><path d="M258.5,1065.0L262.5,1055.0L266.6,1083.8L262.5,1160.9Z" fill="#353ba9"/><path d="M315.2,1077.7L319.2,1066.6L325.1,1071.5L321.0,1078.4Z" fill="#52bd8f"/><path d="M335.4,1071.1L339.5,1054.0L343.5,1070.1L339.5,1074.5Z" fill="#70bf81"/><path d="M412.3,1080.8L416.4,1087.6L420.4,1085.9L416.4,1078.6Z" fill="#2ab6a6"/><path d="M290.7,1073.4L294.9,1075.6L299.0,1079.4L294.7,1080.4Z" fill="#43bb97"/><path d="M367.8,1063.0L371.9,1062.5L375.9,1078.6L371.9,1075.7Z" fill="#65be86"/><path d="M246.4,1067.8L250.4,1064.0L254.4,1063.5L250.4,1067.4Z" fill="#79bf7d"/><path d="M444.7,1115.6L448.8,1158.0L452.8,1160.1L448.8,1161.3Z" fill="#352d8c"/><path d="M400.2,1084.4L404.3,1083.0L408.3,1083.7L404.2,1092.5Z" fill="#22b4ab"/><path d="M278.7,1078.2L282.8,1081.2L286.8,1082.8L282.8,1083.3Z" fill="#33b8a1"/><path d="M234.2,1070.7L238.3,1064.3L242.3,1062.1L238.3,1069.3Z" fill="#76bf7e"/><path d="M432.6,1086.7L436.6,1096.4L440.7,1095.8L436.6,1095.0Z" fill="#0eaeba"/><path d="M355.7,1066.9L358.3,1064.0L362.4,1079.2L359.7,1077.3Z" fill="#5ebe89"/><path d="M388.1,1076.4L392.1,1079.6L396.2,1081.1L392.1,1087.6Z" fill="#35b8a0"/><path d="M266.6,1083.8L270.6,1085.0L274.7,1089.5L270.6,1090.1Z" fill="#20b4ad"/><path d="M325.1,1071.5L329.1,1069.6L331.4,1073.4L327.3,1078.7Z" fill="#57bd8c"/><path d="M343.5,1070.1L347.6,1061.9L351.6,1067.9L347.6,1075.1Z" fill="#6ebf82"/><path d="M420.4,1085.9L424.5,1079.6L428.5,1083.2L424.5,1084.1Z" fill="#2eb7a4"/><path d="M299.0,1079.4L303.0,1088.3L307.1,1088.7L303.0,1078.7Z" fill="#2cb7a5"/><path d="M375.9,1078.6L380.0,1073.4L384.0,1084.1L380.0,1089.1Z" fill="#35b89f"/><path d="M254.4,1063.5L258.5,1065.0L262.5,1160.9L258.5,1162.1Z" fill="#36369f"/><path d="M311.1,1086.2L315.2,1077.7L321.0,1078.4L317.0,1087.3Z" fill="#31b8a2"/><path d="M331.4,1073.4L335.4,1071.1L339.5,1074.5L335.4,1076.0Z" fill="#57bd8c"/><path d="M408.3,1083.7L412.3,1080.8L416.4,1078.6L412.3,1086.3Z" fill="#32b8a1"/><path d="M286.8,1082.8L290.7,1073.4L294.7,1080.4L290.9,1081.4Z" fill="#3eba9a"/><path d="M242.3,1062.1L246.4,1067.8L250.4,1067.4L246.3,1062.1Z" fill="#82bf79"/><path d="M440.7,1095.8L444.7,1115.6L448.8,1161.3L444.7,1124.3Z" fill="#363399"/><path d="M362.4,1079.2L367.8,1063.0L371.9,1075.7L366.4,1082.2Z" fill="#53bd8e"/><path d="M396.2,1081.1L400.2,1084.4L404.2,1092.5L400.2,1084.2Z" fill="#28b6a8"/><path d="M274.7,1089.5L278.7,1078.2L282.8,1083.3L278.7,1082.0Z" fill="#30b7a2"/><path d="M351.6,1067.9L355.7,1066.9L359.7,1077.3L355.7,1082.3Z" fill="#5abd8b"/><path d="M230.2,1160.7L234.2,1070.7L238.3,1069.3L234.2,1162.7Z" fill="#36359e"/><path d="M428.5,1083.2L432.6,1086.7L436.6,1095.0L432.6,1085.9Z" fill="#21b4ac"/><path d="M384.0,1084.1L388.1,1076.4L392.1,1087.6L388.1,1093.0Z" fill="#2ab6a6"/><path d="M262.5,1160.9L266.6,1083.8L270.6,1090.1L266.6,1089.7Z" fill="#3638a3"/><path d="M321.0,1078.4L325.1,1071.5L327.3,1078.7L323.3,1082.4Z" fill="#48bb94"/><path d="M339.5,1074.5L343.5,1070.1L347.6,1075.1L343.5,1080.8Z" fill="#55bd8e"/><path d="M416.4,1078.6L420.4,1085.9L424.5,1084.1L420.4,1088.8Z" fill="#2eb7a4"/><path d="M294.7,1080.4L299.0,1079.4L303.0,1078.7L298.7,1090.4Z" fill="#36b99f"/><path d="M371.9,1075.7L375.9,1078.6L380.0,1089.1L375.9,1083.5Z" fill="#38b99d"/><path d="M250.4,1067.4L254.4,1063.5L258.5,1162.1L254.4,1163.3Z" fill="#36369f"/><path d="M307.1,1088.7L311.1,1086.2L317.0,1087.3L312.9,1084.7Z" fill="#26b5a9"/><path d="M327.3,1078.7L331.4,1073.4L335.4,1076.0L331.4,1084.8Z" fill="#48bb94"/><path d="M404.2,1092.5L408.3,1083.7L412.3,1086.3L408.3,1087.7Z" fill="#24b5aa"/><path d="M282.8,1083.3L286.8,1082.8L290.9,1081.4L286.8,1089.2Z" fill="#30b7a3"/><path d="M238.3,1069.3L242.3,1062.1L246.3,1062.1L242.3,1073.1Z" fill="#7fbf7a"/><path d="M436.6,1095.0L440.7,1095.8L444.7,1124.3L440.7,1119.0Z" fill="#1484d4"/><path d="M359.7,1077.3L362.4,1079.2L366.4,1082.2L363.8,1083.6Z" fill="#40ba99"/><path d="M392.1,1087.6L396.2,1081.1L400.2,1084.2L396.1,1088.6Z" fill="#2db7a5"/><path d="M270.6,1090.1L274.7,1089.5L278.7,1082.0L274.7,1086.5Z" fill="#27b5a8"/><path d="M347.6,1075.1L351.6,1067.9L355.7,1082.3L351.6,1084.4Z" fill="#4ebc91"/><path d="M424.5,1084.1L428.5,1083.2L432.6,1085.9L428.5,1087.2Z" fill="#2eb7a4"/><path d="M380.0,1089.1L384.0,1084.1L388.1,1093.0L384.0,1083.6Z" fill="#26b5a9"/><path d="M258.5,1162.1L262.5,1160.9L266.6,1089.7L262.5,1129.5Z" fill="#363194"/><path d="M317.0,1087.3L321.0,1078.4L323.3,1082.4L319.2,1092.9Z" fill="#2eb7a4"/><path d="M335.4,1076.0L339.5,1074.5L343.5,1080.8L339.5,1078.8Z" fill="#4fbc91"/><path d="M412.3,1086.3L416.4,1078.6L420.4,1088.8L416.4,1087.8Z" fill="#2fb7a3"/><path d="M290.9,1081.4L294.7,1080.4L298.7,1090.4L294.9,1089.1Z" fill="#2fb7a3"/><path d="M246.3,1062.1L250.4,1067.4L254.4,1163.3L250.4,1164.5Z" fill="#36369f"/><path d="M303.0,1078.7L307.1,1088.7L312.9,1084.7L308.9,1084.0Z" fill="#34b8a0"/><path d="M444.7,1124.3L448.8,1161.3L452.8,1163.4L448.8,1164.6Z" fill="#352d8c"/><path d="M323.3,1082.4L327.3,1078.7L331.4,1084.8L327.3,1086.9Z" fill="#38b99e"/><path d="M366.4,1082.2L371.9,1075.7L375.9,1083.5L370.5,1084.8Z" fill="#3fba9a"/><path d="M400.2,1084.2L404.2,1092.5L408.3,1087.7L404.2,1091.2Z" fill="#23b5ab"/><path d="M278.7,1082.0L282.8,1083.3L286.8,1089.2L282.8,1087.7Z" fill="#2fb7a3"/><path d="M355.7,1082.3L359.7,1077.3L363.8,1083.6L359.7,1082.7Z" fill="#40ba99"/><path d="M234.2,1162.7L238.3,1069.3L242.3,1073.1L238.2,1066.7Z" fill="#353caa"/><path d="M432.6,1085.9L436.6,1095.0L440.7,1119.0L436.6,1093.6Z" fill="#0d92d2"/><path d="M388.1,1093.0L392.1,1087.6L396.1,1088.6L392.1,1085.3Z" fill="#25b5a9"/><path d="M266.6,1089.7L270.6,1090.1L274.7,1086.5L270.6,1088.7Z" fill="#25b5aa"/><path d="M343.5,1080.8L347.6,1075.1L351.6,1084.4L347.6,1084.1Z" fill="#43bb97"/><path d="M420.4,1088.8L424.5,1084.1L428.5,1087.2L424.5,1086.0Z" fill="#2eb7a4"/><path d="M375.9,1083.5L380.0,1089.1L384.0,1083.6L380.0,1084.9Z" fill="#33b8a1"/><path d="M254.4,1163.3L258.5,1162.1L262.5,1129.5L258.5,1131.0Z" fill="#362f90"/><path d="M312.9,1084.7L317.0,1087.3L319.2,1092.9L315.2,1088.9Z" fill="#27b5a8"/><path d="M331.4,1084.8L335.4,1076.0L339.5,1078.8L335.4,1080.1Z" fill="#4abc94"/><path d="M408.3,1087.7L412.3,1086.3L416.4,1087.8L412.3,1088.7Z" fill="#2bb6a6"/><path d="M286.8,1089.2L290.9,1081.4L294.9,1089.1L290.9,1096.1Z" fill="#26b5a9"/><path d="M242.3,1073.1L246.3,1062.1L250.4,1164.5L246.3,1165.7Z" fill="#36369f"/><path d="M298.7,1090.4L303.0,1078.7L308.9,1084.0L304.6,1083.3Z" fill="#39b99d"/><path d="M440.7,1119.0L444.7,1124.3L448.8,1164.6L444.7,1165.8Z" fill="#362f91"/><path d="M319.2,1092.9L323.3,1082.4L327.3,1086.9L323.3,1096.0Z" fill="#25b5aa"/><path d="M363.8,1083.6L366.4,1082.2L370.5,1084.8L367.8,1085.9Z" fill="#39b99d"/><path d="M396.1,1088.6L400.2,1084.2L404.2,1091.2L400.2,1091.6Z" fill="#27b6a8"/><path d="M274.7,1086.5L278.7,1082.0L282.8,1087.7L278.7,1091.8Z" fill="#2eb7a4"/><path d="M351.6,1084.4L355.7,1082.3L359.7,1082.7L355.7,1085.2Z" fill="#3cba9b"/><path d="M230.2,1163.9L234.2,1162.7L238.2,1066.7L234.2,1166.0Z" fill="#363093"/><path d="M428.5,1087.2L432.6,1085.9L436.6,1093.6L432.6,1103.7Z" fill="#1cb3b0"/><path d="M384.0,1083.6L388.1,1093.0L392.1,1085.3L388.0,1092.2Z" fill="#2ab6a6"/><path d="M262.5,1129.5L266.6,1089.7L270.6,1088.7L266.6,1088.9Z" fill="#1481d6"/><path d="M339.5,1078.8L343.5,1080.8L347.6,1084.1L343.5,1080.2Z" fill="#49bc94"/><path d="M416.4,1087.8L420.4,1088.8L424.5,1086.0L420.4,1091.1Z" fill="#2bb6a6"/><path d="M250.4,1164.5L254.4,1163.3L258.5,1131.0L254.4,1132.1Z" fill="#362f8f"/><path d="M308.9,1084.0L312.9,1084.7L315.2,1088.9L311.1,1091.0Z" fill="#30b7a2"/><path d="M327.3,1086.9L331.4,1084.8L335.4,1080.1L331.4,1083.0Z" fill="#3fba9a"/><path d="M370.5,1084.8L375.9,1083.5L380.0,1084.9L374.5,1082.7Z" fill="#3eba9a"/><path d="M404.2,1091.2L408.3,1087.7L412.3,1088.7L408.3,1089.0Z" fill="#2ab6a7"/><path d="M282.8,1087.7L286.8,1089.2L290.9,1096.1L286.8,1089.1Z" fill="#25b5aa"/><path d="M359.7,1082.7L363.8,1083.6L367.8,1085.9L363.8,1090.8Z" fill="#37b99e"/><path d="M238.2,1066.7L242.3,1073.1L246.3,1165.7L242.3,1166.9Z" fill="#36369f"/><path d="M294.9,1089.1L298.7,1090.4L304.6,1083.3L300.8,1096.6Z" fill="#28b6a8"/><path d="M436.6,1093.6L440.7,1119.0L444.7,1165.8L440.7,1123.0Z" fill="#36349b"/><path d="M315.2,1088.9L319.2,1092.9L323.3,1096.0L319.2,1085.4Z" fill="#24b5aa"/><path d="M392.1,1085.3L396.1,1088.6L400.2,1091.6L396.1,1092.8Z" fill="#29b6a7"/><path d="M270.6,1088.7L274.7,1086.5L278.7,1091.8L274.7,1088.1Z" fill="#2cb7a5"/><path d="M347.6,1084.1L351.6,1084.4L355.7,1085.2L351.6,1090.2Z" fill="#37b99e"/><path d="M424.5,1086.0L428.5,1087.2L432.6,1103.7L428.5,1091.4Z" fill="#21b4ac"/><path d="M380.0,1084.9L384.0,1083.6L388.0,1092.2L384.0,1089.0Z" fill="#32b8a1"/><path d="M258.5,1131.0L262.5,1129.5L266.6,1088.9L262.5,1130.1Z" fill="#137ed7"/><path d="M335.4,1080.1L339.5,1078.8L343.5,1080.2L339.5,1088.3Z" fill="#4abc93"/><path d="M412.3,1088.7L416.4,1087.8L420.4,1091.1L416.4,1096.1Z" fill="#26b5a9"/><path d="M246.3,1165.7L250.4,1164.5L254.4,1132.1L250.4,1130.4Z" fill="#362f90"/><path d="M304.6,1083.3L308.9,1084.0L311.1,1091.0L306.8,1086.5Z" fill="#39b99d"/><path d="M323.3,1096.0L327.3,1086.9L331.4,1083.0L327.3,1093.4Z" fill="#2bb6a6"/><path d="M367.8,1085.9L370.5,1084.8L374.5,1082.7L371.9,1090.2Z" fill="#3bb99c"/><path d="M400.2,1091.6L404.2,1091.2L408.3,1089.0L404.2,1092.0Z" fill="#27b6a8"/><path d="M278.7,1091.8L282.8,1087.7L286.8,1089.1L282.8,1096.1Z" fill="#27b5a8"/><path d="M355.7,1085.2L359.7,1082.7L363.8,1090.8L359.7,1090.4Z" fill="#36b89f"/><path d="M234.2,1166.0L238.2,1066.7L242.3,1166.9L238.2,1168.1Z" fill="#363093"/><path d="M290.9,1096.1L294.9,1089.1L300.8,1096.6L296.7,1094.1Z" fill="#1eb3ae"/><path d="M432.6,1103.7L436.6,1093.6L440.7,1123.0L436.6,1118.5Z" fill="#108fd2"/><path d="M311.1,1091.0L315.2,1088.9L319.2,1085.4L315.2,1094.2Z" fill="#2cb7a5"/><path d="M388.0,1092.2L392.1,1085.3L396.1,1092.8L392.1,1088.4Z" fill="#2db7a4"/><path d="M266.6,1088.9L270.6,1088.7L274.7,1088.1L270.6,1096.2Z" fill="#2ab6a6"/><path d="M343.5,1080.2L347.6,1084.1L351.6,1090.2L347.6,1086.9Z" fill="#3fba9a"/><path d="M420.4,1091.1L424.5,1086.0L428.5,1091.4L424.5,1090.1Z" fill="#2eb7a4"/><path d="M254.4,1132.1L258.5,1131.0L262.5,1130.1L258.5,1132.6Z" fill="#137ed7"/><path d="M331.4,1083.0L335.4,1080.1L339.5,1088.3L335.4,1098.0Z" fill="#38b99e"/><path d="M374.5,1082.7L380.0,1084.9L384.0,1089.0L378.6,1091.8Z" fill="#39b99d"/><path d="M408.3,1089.0L412.3,1088.7L416.4,1096.1L412.3,1088.1Z" fill="#2cb7a5"/><path d="M363.8,1090.8L367.8,1085.9L371.9,1090.2L367.8,1096.5Z" fill="#2bb6a5"/><path d="M242.3,1166.9L246.3,1165.7L250.4,1130.4L246.3,1137.4Z" fill="#362f8f"/><path d="M300.8,1096.6L304.6,1083.3L306.8,1086.5L303.0,1097.5Z" fill="#2bb6a6"/><path d="M440.7,1123.0L444.7,1165.8L448.8,1167.8L444.7,1169.0Z" fill="#352d8c"/><path d="M319.2,1085.4L323.3,1096.0L327.3,1093.4L323.3,1092.9Z" fill="#28b6a8"/><path d="M396.1,1092.8L400.2,1091.6L404.2,1092.0L400.2,1096.3Z" fill="#24b5aa"/><path d="M274.7,1088.1L278.7,1091.8L282.8,1096.1L278.7,1099.2Z" fill="#22b4ac"/><path d="M351.6,1090.2L355.7,1085.2L359.7,1090.4L355.7,1092.4Z" fill="#31b8a2"/><path d="M286.8,1089.1L290.9,1096.1L296.7,1094.1L292.7,1092.2Z" fill="#25b5a9"/><path d="M428.5,1091.4L432.6,1103.7L436.6,1118.5L432.6,1101.7Z" fill="#089ad0"/><path d="M306.8,1086.5L311.1,1091.0L315.2,1094.2L310.9,1097.3Z" fill="#28b6a8"/><path d="M384.0,1089.0L388.0,1092.2L392.1,1088.4L388.0,1094.0Z" fill="#2db7a4"/><path d="M262.5,1130.1L266.6,1088.9L270.6,1096.2L266.6,1092.2Z" fill="#1485d4"/><path d="M339.5,1088.3L343.5,1080.2L347.6,1086.9L343.5,1089.5Z" fill="#40ba99"/><path d="M416.4,1096.1L420.4,1091.1L424.5,1090.1L420.4,1089.0Z" fill="#2bb6a5"/><path d="M250.4,1130.4L254.4,1132.1L258.5,1132.6L254.4,1130.7Z" fill="#1380d6"/><path d="M327.3,1093.4L331.4,1083.0L335.4,1098.0L331.4,1092.9Z" fill="#2bb6a6"/><path d="M371.9,1090.2L374.5,1082.7L378.6,1091.8L375.9,1085.1Z" fill="#3dba9b"/><path d="M404.2,1092.0L408.3,1089.0L412.3,1088.1L408.3,1096.0Z" fill="#2eb7a4"/><path d="M359.7,1090.4L363.8,1090.8L367.8,1096.5L363.8,1091.1Z" fill="#2bb6a6"/><path d="M238.2,1168.1L242.3,1166.9L246.3,1137.4L242.3,1139.0Z" fill="#362e8f"/><path d="M296.7,1094.1L300.8,1096.6L303.0,1097.5L299.0,1100.0Z" fill="#1bb2b0"/><path d="M436.6,1118.5L440.7,1123.0L444.7,1169.0L440.7,1125.7Z" fill="#363398"/><path d="M315.2,1094.2L319.2,1085.4L323.3,1092.9L319.2,1091.2Z" fill="#30b7a3"/><path d="M392.1,1088.4L396.1,1092.8L400.2,1096.3L396.1,1097.0Z" fill="#26b5a9"/><path d="M270.6,1096.2L274.7,1088.1L278.7,1099.2L274.7,1098.0Z" fill="#21b4ac"/><path d="M347.6,1086.9L351.6,1090.2L355.7,1092.4L351.6,1095.5Z" fill="#2fb7a3"/><path d="M282.8,1096.1L286.8,1089.1L292.7,1092.2L288.6,1094.1Z" fill="#2ab6a7"/><path d="M424.5,1090.1L428.5,1091.4L432.6,1101.7L428.5,1103.0Z" fill="#1eb3ae"/><path d="M303.0,1097.5L306.8,1086.5L310.9,1097.3L307.1,1099.1Z" fill="#22b4ab"/><path d="M258.5,1132.6L262.5,1130.1L266.6,1092.2L262.5,1134.0Z" fill="#1480d6"/><path d="M335.4,1098.0L339.5,1088.3L343.5,1089.5L339.5,1098.2Z" fill="#29b6a7"/><path d="M378.6,1091.8L384.0,1089.0L388.0,1094.0L382.6,1097.3Z" fill="#2ab6a6"/><path d="M412.3,1088.1L416.4,1096.1L420.4,1089.0L416.4,1092.9Z" fill="#30b7a3"/><path d="M367.8,1096.5L371.9,1090.2L375.9,1085.1L371.9,1090.9Z" fill="#34b8a0"/><path d="M246.3,1137.4L250.4,1130.4L254.4,1130.7L250.4,1140.8Z" fill="#127cd8"/><path d="M323.3,1092.9L327.3,1093.4L331.4,1092.9L327.3,1095.7Z" fill="#29b6a7"/><path d="M400.2,1096.3L404.2,1092.0L408.3,1096.0L404.2,1088.0Z" fill="#2bb6a5"/><path d="M355.7,1092.4L359.7,1090.4L363.8,1091.1L359.7,1094.6Z" fill="#2fb7a3"/><path d="M234.2,1169.3L238.2,1168.1L242.3,1139.0L238.2,1171.3Z" fill="#352c8b"/><path d="M292.7,1092.2L296.7,1094.1L299.0,1100.0L294.9,1092.5Z" fill="#26b5a9"/><path d="M432.6,1101.7L436.6,1118.5L440.7,1125.7L436.6,1129.0Z" fill="#128bd2"/><path d="M310.9,1097.3L315.2,1094.2L319.2,1091.2L314.9,1105.2Z" fill="#1fb3ad"/><path d="M388.0,1094.0L392.1,1088.4L396.1,1097.0L392.1,1097.8Z" fill="#28b6a7"/><path d="M266.6,1092.2L270.6,1096.2L274.7,1098.0L270.6,1099.5Z" fill="#21b4ac"/><path d="M343.5,1089.5L347.6,1086.9L351.6,1095.5L347.6,1092.1Z" fill="#35b89f"/><path d="M278.7,1099.2L282.8,1096.1L288.6,1094.1L284.6,1100.6Z" fill="#1eb3ae"/><path d="M420.4,1089.0L424.5,1090.1L428.5,1103.0L424.5,1095.9Z" fill="#28b6a7"/><path d="M299.0,1100.0L303.0,1097.5L307.1,1099.1L303.0,1097.0Z" fill="#1bb2b0"/><path d="M254.4,1130.7L258.5,1132.6L262.5,1134.0L258.5,1137.2Z" fill="#137fd6"/><path d="M331.4,1092.9L335.4,1098.0L339.5,1098.2L335.4,1094.9Z" fill="#24b5aa"/><path d="M375.9,1085.1L378.6,1091.8L382.6,1097.3L379.9,1094.0Z" fill="#33b8a1"/><path d="M408.3,1096.0L412.3,1088.1L416.4,1092.9L412.3,1090.1Z" fill="#34b8a0"/><path d="M363.8,1091.1L367.8,1096.5L371.9,1090.9L367.8,1096.7Z" fill="#2cb7a5"/><path d="M242.3,1139.0L246.3,1137.4L250.4,1140.8L246.3,1135.6Z" fill="#1079da"/><path d="M440.7,1125.7L444.7,1169.0L448.8,1171.1L444.7,1172.3Z" fill="#352d8c"/><path d="M319.2,1091.2L323.3,1092.9L327.3,1095.7L323.3,1099.0Z" fill="#2ab6a7"/><path d="M396.1,1097.0L400.2,1096.3L404.2,1088.0L400.2,1099.1Z" fill="#29b6a7"/><path d="M351.6,1095.5L355.7,1092.4L359.7,1094.6L355.7,1097.0Z" fill="#2ab6a6"/><path d="M288.6,1094.1L292.7,1092.2L294.9,1092.5L290.9,1098.6Z" fill="#2cb6a5"/><path d="M428.5,1103.0L432.6,1101.7L436.6,1129.0L432.6,1109.5Z" fill="#118dd2"/><path d="M307.1,1099.1L310.9,1097.3L314.9,1105.2L311.1,1097.8Z" fill="#1ab2b1"/><path d="M262.5,1134.0L266.6,1092.2L270.6,1099.5L266.6,1100.3Z" fill="#1484d4"/><path d="M339.5,1098.2L343.5,1089.5L347.6,1092.1L343.5,1099.4Z" fill="#2bb6a6"/><path d="M274.7,1098.0L278.7,1099.2L284.6,1100.6L280.5,1105.8Z" fill="#17b1b3"/><path d="M382.6,1097.3L388.0,1094.0L392.1,1097.8L386.6,1094.2Z" fill="#28b6a8"/><path d="M416.4,1092.9L420.4,1089.0L424.5,1095.9L420.4,1101.3Z" fill="#2bb6a5"/><path d="M294.9,1092.5L299.0,1100.0L303.0,1097.0L299.0,1099.4Z" fill="#23b4ab"/><path d="M371.9,1090.9L375.9,1085.1L379.9,1094.0L375.9,1095.8Z" fill="#39b99d"/><path d="M250.4,1140.8L254.4,1130.7L258.5,1137.2L254.4,1137.8Z" fill="#127dd8"/><path d="M327.3,1095.7L331.4,1092.9L335.4,1094.9L331.4,1094.0Z" fill="#2eb7a4"/><path d="M404.2,1088.0L408.3,1096.0L412.3,1090.1L408.3,1093.7Z" fill="#38b99e"/><path d="M359.7,1094.6L363.8,1091.1L367.8,1096.7L363.8,1095.8Z" fill="#2eb7a4"/><path d="M238.2,1171.3L242.3,1139.0L246.3,1135.6L242.3,1136.0Z" fill="#363194"/><path d="M436.6,1129.0L440.7,1125.7L444.7,1172.3L440.7,1173.5Z" fill="#363092"/><path d="M314.9,1105.2L319.2,1091.2L323.3,1099.0L319.0,1095.0Z" fill="#24b5aa"/><path d="M392.1,1097.8L396.1,1097.0L400.2,1099.1L396.1,1103.8Z" fill="#1eb3ae"/><path d="M347.6,1092.1L351.6,1095.5L355.7,1097.0L351.6,1095.3Z" fill="#2eb7a4"/><path d="M284.6,1100.6L288.6,1094.1L290.9,1098.6L286.8,1102.2Z" fill="#20b4ad"/><path d="M424.5,1095.9L428.5,1103.0L432.6,1109.5L428.5,1110.1Z" fill="#10afb8"/><path d="M303.0,1097.0L307.1,1099.1L311.1,1097.8L307.1,1097.6Z" fill="#24b5aa"/><path d="M258.5,1137.2L262.5,1134.0L266.6,1100.3L262.5,1164.4Z" fill="#2c4ac7"/><path d="M335.4,1094.9L339.5,1098.2L343.5,1099.4L339.5,1098.1Z" fill="#25b5a9"/><path d="M270.6,1099.5L274.7,1098.0L280.5,1105.8L276.5,1099.3Z" fill="#1cb3b0"/><path d="M379.9,1094.0L382.6,1097.3L386.6,1094.2L384.0,1097.5Z" fill="#2cb7a5"/><path d="M412.3,1090.1L416.4,1092.9L420.4,1101.3L416.4,1105.6Z" fill="#26b5a9"/><path d="M290.9,1098.6L294.9,1092.5L299.0,1099.4L294.9,1093.1Z" fill="#2cb7a5"/><path d="M367.8,1096.7L371.9,1090.9L375.9,1095.8L371.8,1096.7Z" fill="#30b7a3"/><path d="M246.3,1135.6L250.4,1140.8L254.4,1137.8L250.4,1135.0Z" fill="#137dd7"/><path d="M323.3,1099.0L327.3,1095.7L331.4,1094.0L327.3,1098.4Z" fill="#2ab6a7"/><path d="M400.2,1099.1L404.2,1088.0L408.3,1093.7L404.2,1100.7Z" fill="#2fb7a3"/><path d="M355.7,1097.0L359.7,1094.6L363.8,1095.8L359.7,1095.5Z" fill="#2eb7a4"/><path d="M234.2,1172.5L238.2,1171.3L242.3,1136.0L238.2,1174.6Z" fill="#352d8c"/><path d="M432.6,1109.5L436.6,1129.0L440.7,1173.5L436.6,1122.2Z" fill="#36349b"/><path d="M311.1,1097.8L314.9,1105.2L319.0,1095.0L315.2,1098.4Z" fill="#23b4ab"/><path d="M343.5,1099.4L347.6,1092.1L351.6,1095.3L347.6,1101.9Z" fill="#2ab6a6"/><path d="M280.5,1105.8L284.6,1100.6L286.8,1102.2L282.8,1102.6Z" fill="#18b1b2"/><path d="M386.6,1094.2L392.1,1097.8L396.1,1103.8L390.7,1099.6Z" fill="#25b5aa"/><path d="M420.4,1101.3L424.5,1095.9L428.5,1110.1L424.5,1110.5Z" fill="#13b0b6"/><path d="M299.0,1099.4L303.0,1097.0L307.1,1097.6L303.0,1100.1Z" fill="#26b5a9"/><path d="M375.9,1095.8L379.9,1094.0L384.0,1097.5L379.9,1095.3Z" fill="#31b8a2"/><path d="M254.4,1137.8L258.5,1137.2L262.5,1164.4L258.5,1142.4Z" fill="#2e48c1"/><path d="M331.4,1094.0L335.4,1094.9L339.5,1098.1L335.4,1099.0Z" fill="#2eb7a4"/><path d="M266.6,1100.3L270.6,1099.5L276.5,1099.3L272.4,1105.0Z" fill="#1eb3ae"/><path d="M408.3,1093.7L412.3,1090.1L416.4,1105.6L412.3,1106.6Z" fill="#25b5a9"/><path d="M286.8,1102.2L290.9,1098.6L294.9,1093.1L290.9,1100.1Z" fill="#27b5a8"/><path d="M363.8,1095.8L367.8,1096.7L371.8,1096.7L367.8,1099.9Z" fill="#2cb6a5"/><path d="M242.3,1136.0L246.3,1135.6L250.4,1135.0L246.3,1142.0Z" fill="#137fd6"/><path d="M319.0,1095.0L323.3,1099.0L327.3,1098.4L323.0,1102.7Z" fill="#27b5a8"/><path d="M396.1,1103.8L400.2,1099.1L404.2,1100.7L400.2,1100.5Z" fill="#20b4ad"/><path d="M351.6,1095.3L355.7,1097.0L359.7,1095.5L355.7,1101.3Z" fill="#2db7a5"/><path d="M428.5,1110.1L432.6,1109.5L436.6,1122.2L432.6,1136.4Z" fill="#1487d3"/><path d="M307.1,1097.6L311.1,1097.8L315.2,1098.4L311.1,1105.5Z" fill="#24b5aa"/><path d="M339.5,1098.1L343.5,1099.4L347.6,1101.9L343.5,1098.1Z" fill="#26b5a9"/><path d="M276.5,1099.3L280.5,1105.8L282.8,1102.6L278.7,1100.7Z" fill="#1eb3ae"/><path d="M384.0,1097.5L386.6,1094.2L390.7,1099.6L388.0,1095.4Z" fill="#31b8a2"/><path d="M416.4,1105.6L420.4,1101.3L424.5,1110.5L420.4,1099.7Z" fill="#17b1b3"/><path d="M294.9,1093.1L299.0,1099.4L303.0,1100.1L299.0,1099.5Z" fill="#2cb6a5"/><path d="M371.8,1096.7L375.9,1095.8L379.9,1095.3L375.9,1102.9Z" fill="#2db7a4"/><path d="M250.4,1135.0L254.4,1137.8L258.5,1142.4L254.4,1143.1Z" fill="#137dd8"/><path d="M327.3,1098.4L331.4,1094.0L335.4,1099.0L331.4,1099.6Z" fill="#2db7a4"/><path d="M262.5,1164.4L266.6,1100.3L272.4,1105.0L268.4,1104.2Z" fill="#2350d0"/><path d="M404.2,1100.7L408.3,1093.7L412.3,1106.6L408.3,1110.0Z" fill="#1db3af"/><path d="M282.8,1102.6L286.8,1102.2L290.9,1100.1L286.8,1096.4Z" fill="#25b5aa"/><path d="M359.7,1095.5L363.8,1095.8L367.8,1099.9L363.7,1100.6Z" fill="#2db7a4"/><path d="M238.2,1174.6L242.3,1136.0L246.3,1142.0L242.3,1142.4Z" fill="#363194"/><path d="M436.6,1122.2L440.7,1173.5L444.7,1175.6L440.7,1176.8Z" fill="#362e8d"/><path d="M315.2,1098.4L319.0,1095.0L323.0,1102.7L319.2,1100.6Z" fill="#2ab6a7"/><path d="M347.6,1101.9L351.6,1095.3L355.7,1101.3L351.6,1104.4Z" fill="#25b5aa"/><path d="M390.7,1099.6L396.1,1103.8L400.2,1100.5L394.7,1103.5Z" fill="#21b4ac"/><path d="M424.5,1110.5L428.5,1110.1L432.6,1136.4L428.5,1113.9Z" fill="#1487d3"/><path d="M303.0,1100.1L307.1,1097.6L311.1,1105.5L307.1,1105.8Z" fill="#20b4ad"/><path d="M379.9,1095.3L384.0,1097.5L388.0,1095.4L384.0,1101.4Z" fill="#32b8a1"/><path d="M335.4,1099.0L339.5,1098.1L343.5,1098.1L339.5,1096.7Z" fill="#30b7a3"/><path d="M272.4,1105.0L276.5,1099.3L278.7,1100.7L274.7,1110.4Z" fill="#1cb3b0"/><path d="M412.3,1106.6L416.4,1105.6L420.4,1099.7L416.4,1104.0Z" fill="#1cb3b0"/><path d="M290.9,1100.1L294.9,1093.1L299.0,1099.5L294.9,1101.4Z" fill="#2eb7a4"/><path d="M367.8,1099.9L371.8,1096.7L375.9,1102.9L371.8,1104.3Z" fill="#26b5a9"/><path d="M246.3,1142.0L250.4,1135.0L254.4,1143.1L250.4,1146.7Z" fill="#127cd9"/><path d="M258.5,1142.4L262.5,1164.4L268.4,1104.2L264.3,1147.1Z" fill="#2c4ac6"/><path d="M323.0,1102.7L327.3,1098.4L331.4,1099.6L327.1,1103.3Z" fill="#26b5a9"/><path d="M400.2,1100.5L404.2,1100.7L408.3,1110.0L404.2,1097.5Z" fill="#22b4ab"/><path d="M278.7,1100.7L282.8,1102.6L286.8,1096.4L282.8,1099.8Z" fill="#2bb6a6"/><path d="M355.7,1101.3L359.7,1095.5L363.7,1100.6L359.7,1103.3Z" fill="#2ab6a6"/><path d="M234.2,1175.8L238.2,1174.6L242.3,1142.4L238.2,1177.8Z" fill="#352c8b"/><path d="M432.6,1136.4L436.6,1122.2L440.7,1176.8L436.6,1177.9Z" fill="#363092"/><path d="M311.1,1105.5L315.2,1098.4L319.2,1100.6L315.2,1103.6Z" fill="#24b5aa"/><path d="M343.5,1098.1L347.6,1101.9L351.6,1104.4L347.6,1100.6Z" fill="#27b5a8"/><path d="M388.0,1095.4L390.7,1099.6L394.7,1103.5L392.1,1099.7Z" fill="#2eb7a4"/><path d="M420.4,1099.7L424.5,1110.5L428.5,1113.9L424.5,1113.5Z" fill="#0faeb9"/><path d="M299.0,1099.5L303.0,1100.1L307.1,1105.8L303.0,1103.0Z" fill="#24b5aa"/><path d="M375.9,1102.9L379.9,1095.3L384.0,1101.4L379.9,1101.5Z" fill="#2bb6a5"/><path d="M331.4,1099.6L335.4,1099.0L339.5,1096.7L335.4,1099.9Z" fill="#31b8a2"/><path d="M268.4,1104.2L272.4,1105.0L274.7,1110.4L270.6,1099.5Z" fill="#1db3af"/><path d="M408.3,1110.0L412.3,1106.6L416.4,1104.0L412.3,1100.0Z" fill="#1cb3b0"/><path d="M286.8,1096.4L290.9,1100.1L294.9,1101.4L290.9,1104.2Z" fill="#2bb6a5"/><path d="M363.7,1100.6L367.8,1099.9L371.8,1104.3L367.8,1101.1Z" fill="#28b6a7"/><path d="M242.3,1142.4L246.3,1142.0L250.4,1146.7L246.3,1141.0Z" fill="#127bd9"/><path d="M254.4,1143.1L258.5,1142.4L264.3,1147.1L260.3,1145.4Z" fill="#1079da"/><path d="M319.2,1100.6L323.0,1102.7L327.1,1103.3L323.3,1100.3Z" fill="#28b6a8"/><path d="M274.7,1110.4L278.7,1100.7L282.8,1099.8L278.7,1102.2Z" fill="#23b4ab"/><path d="M351.6,1104.4L355.7,1101.3L359.7,1103.3L355.6,1104.8Z" fill="#23b4ab"/><path d="M394.7,1103.5L400.2,1100.5L404.2,1097.5L398.8,1100.8Z" fill="#2db7a4"/><path d="M428.5,1113.9L432.6,1136.4L436.6,1177.9L432.6,1129.8Z" fill="#36349a"/><path d="M307.1,1105.8L311.1,1105.5L315.2,1103.6L311.1,1103.6Z" fill="#1fb3ad"/><path d="M384.0,1101.4L388.0,1095.4L392.1,1099.7L388.0,1102.2Z" fill="#31b8a2"/><path d="M339.5,1096.7L343.5,1098.1L347.6,1100.6L343.5,1108.1Z" fill="#2db7a5"/><path d="M416.4,1104.0L420.4,1099.7L424.5,1113.5L420.4,1101.5Z" fill="#20b4ad"/><path d="M294.9,1101.4L299.0,1099.5L303.0,1103.0L299.0,1104.7Z" fill="#29b6a7"/><path d="M371.8,1104.3L375.9,1102.9L379.9,1101.5L375.9,1105.6Z" fill="#24b5aa"/><path d="M264.3,1147.1L268.4,1104.2L270.6,1099.5L266.6,1102.0Z" fill="#127cd8"/><path d="M327.1,1103.3L331.4,1099.6L335.4,1099.9L331.1,1106.8Z" fill="#29b6a7"/><path d="M404.2,1097.5L408.3,1110.0L412.3,1100.0L408.3,1111.6Z" fill="#21b4ac"/><path d="M282.8,1099.8L286.8,1096.4L290.9,1104.2L286.8,1098.2Z" fill="#33b8a1"/><path d="M359.7,1103.3L363.7,1100.6L367.8,1101.1L363.7,1110.3Z" fill="#24b5aa"/><path d="M238.2,1177.8L242.3,1142.4L246.3,1141.0L242.3,1142.8Z" fill="#363195"/><path d="M315.2,1103.6L319.2,1100.6L323.3,1100.3L319.2,1106.4Z" fill="#28b6a7"/><path d="M250.4,1146.7L254.4,1143.1L260.3,1145.4L256.2,1140.6Z" fill="#127cd8"/><path d="M270.6,1099.5L274.7,1110.4L278.7,1102.2L274.7,1104.5Z" fill="#24b5aa"/><path d="M347.6,1100.6L351.6,1104.4L355.6,1104.8L351.6,1110.0Z" fill="#22b4ac"/><path d="M392.1,1099.7L394.7,1103.5L398.8,1100.8L396.1,1111.6Z" fill="#25b5a9"/><path d="M424.5,1113.5L428.5,1113.9L432.6,1129.8L428.5,1132.6Z" fill="#06a2cb"/><path d="M303.0,1103.0L307.1,1105.8L311.1,1103.6L307.1,1108.0Z" fill="#21b4ac"/><path d="M379.9,1101.5L384.0,1101.4L388.0,1102.2L384.0,1106.7Z" fill="#29b6a7"/><path d="M335.4,1099.9L339.5,1096.7L343.5,1108.1L339.5,1103.9Z" fill="#2db7a5"/><path d="M412.3,1100.0L416.4,1104.0L420.4,1101.5L416.4,1108.3Z" fill="#28b6a7"/><path d="M290.9,1104.2L294.9,1101.4L299.0,1104.7L294.9,1109.0Z" fill="#23b5ab"/><path d="M367.8,1101.1L371.8,1104.3L375.9,1105.6L371.8,1106.2Z" fill="#26b5a9"/><path d="M260.3,1145.4L264.3,1147.1L266.6,1102.0L262.5,1142.9Z" fill="#1079da"/><path d="M323.3,1100.3L327.1,1103.3L331.1,1106.8L327.3,1107.2Z" fill="#26b5a9"/><path d="M278.7,1102.2L282.8,1099.8L286.8,1098.2L282.8,1109.8Z" fill="#2db7a5"/><path d="M355.6,1104.8L359.7,1103.3L363.7,1110.3L359.7,1108.7Z" fill="#1eb3ae"/><path d="M234.2,1179.0L238.2,1177.8L242.3,1142.8L238.2,1181.1Z" fill="#352d8c"/><path d="M398.8,1100.8L404.2,1097.5L408.3,1111.6L402.8,1109.8Z" fill="#25b5aa"/><path d="M432.6,1129.8L436.6,1177.9L440.7,1180.0L436.6,1181.2Z" fill="#362d8d"/><path d="M311.1,1103.6L315.2,1103.6L319.2,1106.4L315.2,1105.4Z" fill="#26b5a9"/><path d="M246.3,1141.0L250.4,1146.7L256.2,1140.6L252.2,1145.6Z" fill="#137fd7"/><path d="M388.0,1102.2L392.1,1099.7L396.1,1111.6L392.1,1106.1Z" fill="#25b5a9"/><path d="M266.6,1102.0L270.6,1099.5L274.7,1104.5L270.6,1103.9Z" fill="#2eb7a4"/><path d="M343.5,1108.1L347.6,1100.6L351.6,1110.0L347.6,1105.1Z" fill="#22b4ab"/><path d="M420.4,1101.5L424.5,1113.5L428.5,1132.6L424.5,1113.7Z" fill="#0997d1"/><path d="M299.0,1104.7L303.0,1103.0L307.1,1108.0L303.0,1109.4Z" fill="#22b4ac"/><path d="M375.9,1105.6L379.9,1101.5L384.0,1106.7L379.9,1103.8Z" fill="#28b6a7"/><path d="M331.1,1106.8L335.4,1099.9L339.5,1103.9L335.2,1102.8Z" fill="#2db7a5"/><path d="M408.3,1111.6L412.3,1100.0L416.4,1108.3L412.3,1110.5Z" fill="#1eb3ae"/><path d="M286.8,1098.2L290.9,1104.2L294.9,1109.0L290.9,1103.9Z" fill="#2bb6a6"/><path d="M363.7,1110.3L367.8,1101.1L371.8,1106.2L367.8,1106.6Z" fill="#24b5aa"/><path d="M319.2,1106.4L323.3,1100.3L327.3,1107.2L323.3,1100.8Z" fill="#2cb7a5"/><path d="M256.2,1140.6L260.3,1145.4L262.5,1142.9L258.5,1148.2Z" fill="#137fd7"/><path d="M274.7,1104.5L278.7,1102.2L282.8,1109.8L278.7,1107.5Z" fill="#25b5aa"/><path d="M351.6,1110.0L355.6,1104.8L359.7,1108.7L355.6,1108.7Z" fill="#1eb3ae"/><path d="M396.1,1111.6L398.8,1100.8L402.8,1109.8L400.2,1107.0Z" fill="#21b4ac"/><path d="M428.5,1132.6L432.6,1129.8L436.6,1181.2L432.6,1182.4Z" fill="#363093"/><path d="M307.1,1108.0L311.1,1103.6L315.2,1105.4L311.1,1108.9Z" fill="#24b5aa"/><path d="M242.3,1142.8L246.3,1141.0L252.2,1145.6L248.1,1148.3Z" fill="#137fd7"/><path d="M384.0,1106.7L388.0,1102.2L392.1,1106.1L388.0,1109.2Z" fill="#26b5a9"/><path d="M262.5,1142.9L266.6,1102.0L270.6,1103.9L266.6,1107.2Z" fill="#1486d4"/><path d="M339.5,1103.9L343.5,1108.1L347.6,1105.1L343.5,1102.8Z" fill="#2ab6a6"/><path d="M416.4,1108.3L420.4,1101.5L424.5,1113.7L420.4,1118.4Z" fill="#18b1b2"/><path d="M294.9,1109.0L299.0,1104.7L303.0,1109.4L299.0,1110.1Z" fill="#1fb3ae"/><path d="M371.8,1106.2L375.9,1105.6L379.9,1103.8L375.9,1102.7Z" fill="#2cb7a5"/><path d="M327.3,1107.2L331.1,1106.8L335.2,1102.8L331.4,1105.7Z" fill="#29b6a7"/><path d="M282.8,1109.8L286.8,1098.2L290.9,1103.9L286.8,1111.1Z" fill="#29b6a7"/><path d="M359.7,1108.7L363.7,1110.3L367.8,1106.6L363.7,1108.6Z" fill="#1fb4ad"/><path d="M402.8,1109.8L408.3,1111.6L412.3,1110.5L406.9,1108.1Z" fill="#1bb2b0"/><path d="M315.2,1105.4L319.2,1106.4L323.3,1100.8L319.2,1109.8Z" fill="#2ab6a6"/><path d="M252.2,1145.6L256.2,1140.6L258.5,1148.2L254.4,1149.7Z" fill="#137ed7"/><path d="M392.1,1106.1L396.1,1111.6L400.2,1107.0L396.1,1106.7Z" fill="#22b4ab"/><path d="M270.6,1103.9L274.7,1104.5L278.7,1107.5L274.7,1111.8Z" fill="#26b5a9"/><path d="M347.6,1105.1L351.6,1110.0L355.6,1108.7L351.6,1106.4Z" fill="#24b5aa"/><path d="M424.5,1113.7L428.5,1132.6L432.6,1182.4L428.5,1143.5Z" fill="#36349a"/><path d="M303.0,1109.4L307.1,1108.0L311.1,1108.9L307.1,1110.8Z" fill="#1fb3ae"/><path d="M238.2,1181.1L242.3,1142.8L248.1,1148.3L244.1,1153.6Z" fill="#363194"/><path d="M379.9,1103.8L384.0,1106.7L388.0,1109.2L384.0,1109.6Z" fill="#25b5a9"/><path d="M258.5,1148.2L262.5,1142.9L266.6,1107.2L262.5,1146.1Z" fill="#127cd8"/><path d="M335.2,1102.8L339.5,1103.9L343.5,1102.8L339.2,1104.1Z" fill="#34b8a0"/><path d="M412.3,1110.5L416.4,1108.3L420.4,1118.4L416.4,1106.8Z" fill="#1ab2b1"/><path d="M290.9,1103.9L294.9,1109.0L299.0,1110.1L294.9,1104.9Z" fill="#27b6a8"/><path d="M367.8,1106.6L371.8,1106.2L375.9,1102.7L371.8,1110.9Z" fill="#29b6a7"/><path d="M323.3,1100.8L327.3,1107.2L331.4,1105.7L327.3,1108.0Z" fill="#2eb7a4"/><path d="M278.7,1107.5L282.8,1109.8L286.8,1111.1L282.8,1116.5Z" fill="#1bb2b1"/><path d="M355.6,1108.7L359.7,1108.7L363.7,1108.6L359.7,1111.3Z" fill="#21b4ac"/><path d="M400.2,1107.0L402.8,1109.8L406.9,1108.1L404.2,1106.9Z" fill="#26b5a9"/><path d="M311.1,1108.9L315.2,1105.4L319.2,1109.8L315.2,1106.6Z" fill="#27b5a8"/><path d="M248.1,1148.3L252.2,1145.6L254.4,1149.7L250.4,1153.5Z" fill="#117bd9"/><path d="M388.0,1109.2L392.1,1106.1L396.1,1106.7L392.1,1109.6Z" fill="#26b5a9"/><path d="M266.6,1107.2L270.6,1103.9L274.7,1111.8L270.6,1113.9Z" fill="#22b4ac"/><path d="M343.5,1102.8L347.6,1105.1L351.6,1106.4L347.5,1111.5Z" fill="#2cb7a5"/><path d="M420.4,1118.4L424.5,1113.7L428.5,1143.5L424.5,1135.8Z" fill="#1388d3"/><path d="M299.0,1110.1L303.0,1109.4L307.1,1110.8L303.0,1110.6Z" fill="#1fb4ad"/><path d="M234.2,1182.3L238.2,1181.1L244.1,1153.6L240.0,1185.3Z" fill="#352c8b"/><path d="M375.9,1102.7L379.9,1103.8L384.0,1109.6L379.9,1105.3Z" fill="#31b8a2"/><path d="M254.4,1149.7L258.5,1148.2L262.5,1146.1L258.5,1150.6Z" fill="#127cd8"/><path d="M331.4,1105.7L335.2,1102.8L339.2,1104.1L335.4,1109.6Z" fill="#31b8a2"/><path d="M286.8,1111.1L290.9,1103.9L294.9,1104.9L290.9,1108.9Z" fill="#2bb6a6"/><path d="M363.7,1108.6L367.8,1106.6L371.8,1110.9L367.8,1108.5Z" fill="#26b5a9"/><path d="M406.9,1108.1L412.3,1110.5L416.4,1106.8L410.9,1110.6Z" fill="#25b5a9"/><path d="M319.2,1109.8L323.3,1100.8L327.3,1108.0L323.3,1108.0Z" fill="#2db7a4"/><path d="M396.1,1106.7L400.2,1107.0L404.2,1106.9L400.2,1112.1Z" fill="#28b6a7"/><path d="M274.7,1111.8L278.7,1107.5L282.8,1116.5L278.7,1108.3Z" fill="#1fb3ae"/><path d="M351.6,1106.4L355.6,1108.7L359.7,1111.3L355.6,1108.9Z" fill="#27b5a9"/><path d="M428.5,1143.5L432.6,1182.4L436.6,1184.5L432.6,1185.7Z" fill="#352d8c"/><path d="M307.1,1110.8L311.1,1108.9L315.2,1106.6L311.1,1107.0Z" fill="#29b6a7"/><path d="M244.1,1153.6L248.1,1148.3L250.4,1153.5L246.3,1168.5Z" fill="#0a72de"/><path d="M384.0,1109.6L388.0,1109.2L392.1,1109.6L388.0,1114.3Z" fill="#21b4ac"/><path d="M262.5,1146.1L266.6,1107.2L270.6,1113.9L266.6,1108.0Z" fill="#1486d4"/><path d="M339.2,1104.1L343.5,1102.8L347.5,1111.5L343.3,1108.5Z" fill="#2fb7a3"/><path d="M416.4,1106.8L420.4,1118.4L424.5,1135.8L420.4,1120.3Z" fill="#0899d1"/><path d="M294.9,1104.9L299.0,1110.1L303.0,1110.6L299.0,1112.2Z" fill="#26b5a9"/><path d="M371.8,1110.9L375.9,1102.7L379.9,1105.3L375.9,1111.5Z" fill="#2db7a5"/><path d="M250.4,1153.5L254.4,1149.7L258.5,1150.6L254.4,1151.6Z" fill="#117ad9"/><path d="M327.3,1108.0L331.4,1105.7L335.4,1109.6L331.4,1118.1Z" fill="#24b5aa"/><path d="M282.8,1116.5L286.8,1111.1L290.9,1108.9L286.8,1118.1Z" fill="#19b2b1"/><path d="M359.7,1111.3L363.7,1108.6L367.8,1108.5L363.7,1108.1Z" fill="#29b6a7"/><path d="M404.2,1106.9L406.9,1108.1L410.9,1110.6L408.3,1113.6Z" fill="#26b5a9"/><path d="M315.2,1106.6L319.2,1109.8L323.3,1108.0L319.2,1114.0Z" fill="#27b5a8"/><path d="M392.1,1109.6L396.1,1106.7L400.2,1112.1L396.1,1110.7Z" fill="#27b5a8"/><path d="M270.6,1113.9L274.7,1111.8L278.7,1108.3L274.7,1110.9Z" fill="#22b4ab"/><path d="M347.5,1111.5L351.6,1106.4L355.6,1108.9L351.6,1109.7Z" fill="#2ab6a6"/><path d="M424.5,1135.8L428.5,1143.5L432.6,1185.7L428.5,1186.9Z" fill="#363092"/><path d="M303.0,1110.6L307.1,1110.8L311.1,1107.0L307.1,1112.6Z" fill="#26b5a9"/><path d="M240.0,1185.3L244.1,1153.6L246.3,1168.5L242.3,1186.4Z" fill="#352d8d"/><path d="M379.9,1105.3L384.0,1109.6L388.0,1114.3L384.0,1108.5Z" fill="#29b6a7"/><path d="M258.5,1150.6L262.5,1146.1L266.6,1108.0L262.5,1147.5Z" fill="#137ed7"/><path d="M335.4,1109.6L339.2,1104.1L343.3,1108.5L339.4,1110.3Z" fill="#2fb7a3"/><path d="M290.9,1108.9L294.9,1104.9L299.0,1112.2L294.9,1116.4Z" fill="#26b5a9"/><path d="M367.8,1108.5L371.8,1110.9L375.9,1111.5L371.8,1112.5Z" fill="#25b5a9"/><path d="M246.3,1168.5L250.4,1153.5L254.4,1151.6L250.4,1152.9Z" fill="#0b74dd"/><path d="M410.9,1110.6L416.4,1106.8L420.4,1120.3L415.0,1119.4Z" fill="#1bb2b0"/><path d="M323.3,1108.0L327.3,1108.0L331.4,1118.1L327.3,1102.2Z" fill="#2cb7a5"/><path d="M400.2,1112.1L404.2,1106.9L408.3,1113.6L404.2,1107.0Z" fill="#2ab6a7"/><path d="M278.7,1108.3L282.8,1116.5L286.8,1118.1L282.8,1110.6Z" fill="#1eb3ae"/><path d="M355.6,1108.9L359.7,1111.3L363.7,1108.1L359.7,1108.9Z" fill="#2cb7a5"/><path d="M311.1,1107.0L315.2,1106.6L319.2,1114.0L315.2,1109.3Z" fill="#2db7a4"/><path d="M388.0,1114.3L392.1,1109.6L396.1,1110.7L392.1,1116.5Z" fill="#21b4ac"/><path d="M266.6,1108.0L270.6,1113.9L274.7,1110.9L270.6,1110.0Z" fill="#28b6a8"/><path d="M343.3,1108.5L347.5,1111.5L351.6,1109.7L347.3,1113.9Z" fill="#28b6a8"/><path d="M420.4,1120.3L424.5,1135.8L428.5,1186.9L424.5,1166.3Z" fill="#363398"/><path d="M299.0,1112.2L303.0,1110.6L307.1,1112.6L303.0,1111.9Z" fill="#25b5aa"/><path d="M375.9,1111.5L379.9,1105.3L384.0,1108.5L379.9,1107.1Z" fill="#33b8a1"/><path d="M254.4,1151.6L258.5,1150.6L262.5,1147.5L258.5,1159.4Z" fill="#127cd8"/><path d="M331.4,1118.1L335.4,1109.6L339.4,1110.3L335.4,1112.2Z" fill="#23b4ab"/><path d="M286.8,1118.1L290.9,1108.9L294.9,1116.4L290.9,1111.3Z" fill="#20b4ad"/><path d="M363.7,1108.1L367.8,1108.5L371.8,1112.5L367.8,1115.4Z" fill="#29b6a7"/><path d="M242.3,1186.4L246.3,1168.5L250.4,1152.9L246.3,1149.7Z" fill="#363092"/><path d="M408.3,1113.6L410.9,1110.6L415.0,1119.4L412.3,1112.6Z" fill="#1fb3ad"/><path d="M319.2,1114.0L323.3,1108.0L327.3,1102.2L323.3,1111.1Z" fill="#32b8a2"/><path d="M396.1,1110.7L400.2,1112.1L404.2,1107.0L400.2,1118.7Z" fill="#26b5a9"/><path d="M274.7,1110.9L278.7,1108.3L282.8,1110.6L278.7,1115.8Z" fill="#29b6a7"/><path d="M351.6,1109.7L355.6,1108.9L359.7,1108.9L355.6,1116.3Z" fill="#2bb6a6"/><path d="M307.1,1112.6L311.1,1107.0L315.2,1109.3L311.1,1115.5Z" fill="#2ab6a6"/><path d="M384.0,1108.5L388.0,1114.3L392.1,1116.5L388.0,1113.8Z" fill="#23b5ab"/><path d="M262.5,1147.5L266.6,1108.0L270.6,1110.0L266.6,1123.7Z" fill="#1389d3"/><path d="M339.4,1110.3L343.3,1108.5L347.3,1113.9L343.5,1121.1Z" fill="#23b4ab"/><path d="M294.9,1116.4L299.0,1112.2L303.0,1111.9L299.0,1114.6Z" fill="#22b4ab"/><path d="M371.8,1112.5L375.9,1111.5L379.9,1107.1L375.9,1114.2Z" fill="#2bb6a6"/><path d="M250.4,1152.9L254.4,1151.6L258.5,1159.4L254.4,1153.6Z" fill="#117ad9"/><path d="M415.0,1119.4L420.4,1120.3L424.5,1166.3L419.0,1128.5Z" fill="#046de0"/><path d="M327.3,1102.2L331.4,1118.1L335.4,1112.2L331.3,1118.4Z" fill="#26b5a9"/><path d="M404.2,1107.0L408.3,1113.6L412.3,1112.6L408.3,1117.8Z" fill="#27b5a8"/><path d="M282.8,1110.6L286.8,1118.1L290.9,1111.3L286.8,1118.6Z" fill="#20b4ad"/><path d="M359.7,1108.9L363.7,1108.1L367.8,1115.4L363.7,1111.4Z" fill="#2eb7a4"/><path d="M238.2,1187.6L242.3,1186.4L246.3,1149.7L242.3,1189.7Z" fill="#352d8c"/><path d="M315.2,1109.3L319.2,1114.0L323.3,1111.1L319.2,1114.7Z" fill="#29b6a7"/><path d="M392.1,1116.5L396.1,1110.7L400.2,1118.7L396.1,1114.2Z" fill="#20b4ad"/><path d="M270.6,1110.0L274.7,1110.9L278.7,1115.8L274.7,1114.6Z" fill="#28b6a8"/><path d="M347.3,1113.9L351.6,1109.7L355.6,1116.3L351.4,1114.6Z" fill="#25b5a9"/><path d="M424.5,1166.3L428.5,1186.9L432.6,1188.9L428.5,1190.1Z" fill="#3638a2"/><path d="M303.0,1111.9L307.1,1112.6L311.1,1115.5L307.1,1112.9Z" fill="#27b5a8"/><path d="M379.9,1107.1L384.0,1108.5L388.0,1113.8L384.0,1113.2Z" fill="#31b8a2"/><path d="M258.5,1159.4L262.5,1147.5L266.6,1123.7L262.5,1154.2Z" fill="#0d75dc"/><path d="M335.4,1112.2L339.4,1110.3L343.5,1121.1L339.4,1114.4Z" fill="#23b5ab"/><path d="M290.9,1111.3L294.9,1116.4L299.0,1114.6L294.9,1114.7Z" fill="#25b5aa"/><path d="M367.8,1115.4L371.8,1112.5L375.9,1114.2L371.8,1112.3Z" fill="#27b6a8"/><path d="M246.3,1149.7L250.4,1152.9L254.4,1153.6L250.4,1158.7Z" fill="#137dd8"/><path d="M412.3,1112.6L415.0,1119.4L419.0,1128.5L416.4,1126.8Z" fill="#0faeb9"/><path d="M323.3,1111.1L327.3,1102.2L331.3,1118.4L327.3,1123.0Z" fill="#27b6a8"/><path d="M400.2,1118.7L404.2,1107.0L408.3,1117.8L404.2,1121.2Z" fill="#1fb4ad"/><path d="M278.7,1115.8L282.8,1110.6L286.8,1118.6L282.8,1118.4Z" fill="#20b4ad"/><path d="M355.6,1116.3L359.7,1108.9L363.7,1111.4L359.7,1115.5Z" fill="#2ab6a6"/><path d="M311.1,1115.5L315.2,1109.3L319.2,1114.7L315.2,1119.0Z" fill="#25b5a9"/><path d="M388.0,1113.8L392.1,1116.5L396.1,1114.2L392.1,1121.9Z" fill="#1fb3ad"/><path d="M266.6,1123.7L270.6,1110.0L274.7,1114.6L270.6,1115.3Z" fill="#21b4ac"/><path d="M343.5,1121.1L347.3,1113.9L351.4,1114.6L347.5,1112.5Z" fill="#23b4ab"/><path d="M299.0,1114.6L303.0,1111.9L307.1,1112.9L303.0,1117.0Z" fill="#28b6a7"/><path d="M375.9,1114.2L379.9,1107.1L384.0,1113.2L379.9,1120.0Z" fill="#2ab6a6"/><path d="M254.4,1153.6L258.5,1159.4L262.5,1154.2L258.5,1152.3Z" fill="#127dd8"/><path d="M419.0,1128.5L424.5,1166.3L428.5,1190.1L423.1,1152.1Z" fill="#363296"/><path d="M331.3,1118.4L335.4,1112.2L339.4,1114.4L335.4,1113.7Z" fill="#27b5a8"/><path d="M408.3,1117.8L412.3,1112.6L416.4,1126.8L412.3,1120.7Z" fill="#18b1b2"/><path d="M286.8,1118.6L290.9,1111.3L294.9,1114.7L290.9,1120.1Z" fill="#22b4ab"/><path d="M363.7,1111.4L367.8,1115.4L371.8,1112.3L367.8,1116.9Z" fill="#2ab6a6"/><path d="M242.3,1189.7L246.3,1149.7L250.4,1158.7L246.3,1159.4Z" fill="#363194"/><path d="M319.2,1114.7L323.3,1111.1L327.3,1123.0L323.3,1121.8Z" fill="#1eb3ae"/><path d="M396.1,1114.2L400.2,1118.7L404.2,1121.2L400.2,1115.4Z" fill="#1fb4ad"/><path d="M274.7,1114.6L278.7,1115.8L282.8,1118.4L278.7,1119.0Z" fill="#21b4ac"/><path d="M351.4,1114.6L355.6,1116.3L359.7,1115.5L355.4,1115.4Z" fill="#26b5a9"/><path d="M307.1,1112.9L311.1,1115.5L315.2,1119.0L311.1,1122.5Z" fill="#20b4ad"/><path d="M384.0,1113.2L388.0,1113.8L392.1,1121.9L388.0,1117.5Z" fill="#23b4ab"/><path d="M262.5,1154.2L266.6,1123.7L270.6,1115.3L266.6,1127.0Z" fill="#1482d5"/><path d="M339.4,1114.4L343.5,1121.1L347.5,1112.5L343.5,1118.6Z" fill="#23b4ab"/><path d="M294.9,1114.7L299.0,1114.6L303.0,1117.0L299.0,1118.9Z" fill="#25b5aa"/><path d="M371.8,1112.3L375.9,1114.2L379.9,1120.0L375.9,1117.5Z" fill="#26b5a9"/><path d="M250.4,1158.7L254.4,1153.6L258.5,1152.3L254.4,1161.2Z" fill="#127cd8"/><path d="M416.4,1126.8L419.0,1128.5L423.1,1152.1L420.4,1147.1Z" fill="#1487d3"/><path d="M327.3,1123.0L331.3,1118.4L335.4,1113.7L331.3,1117.2Z" fill="#20b4ad"/><path d="M404.2,1121.2L408.3,1117.8L412.3,1120.7L408.3,1127.1Z" fill="#15b0b4"/><path d="M282.8,1118.4L286.8,1118.6L290.9,1120.1L286.8,1118.1Z" fill="#1eb3ae"/><path d="M359.7,1115.5L363.7,1111.4L367.8,1116.9L363.7,1117.8Z" fill="#29b6a7"/><path d="M238.2,1190.9L242.3,1189.7L246.3,1159.4L242.3,1193.0Z" fill="#352c8b"/><path d="M315.2,1119.0L319.2,1114.7L323.3,1121.8L319.2,1116.3Z" fill="#21b4ac"/><path d="M392.1,1121.9L396.1,1114.2L400.2,1115.4L396.1,1123.0Z" fill="#1fb3ad"/><path d="M270.6,1115.3L274.7,1114.6L278.7,1119.0L274.7,1117.4Z" fill="#26b5a9"/><path d="M347.5,1112.5L351.4,1114.6L355.4,1115.4L351.6,1124.2Z" fill="#26b5a9"/><path d="M303.0,1117.0L307.1,1112.9L311.1,1122.5L307.1,1116.1Z" fill="#25b5aa"/><path d="M379.9,1120.0L384.0,1113.2L388.0,1117.5L384.0,1122.7Z" fill="#21b4ac"/><path d="M258.5,1152.3L262.5,1154.2L266.6,1127.0L262.5,1162.2Z" fill="#1079da"/><path d="M423.1,1152.1L428.5,1190.1L432.6,1192.2L427.1,1193.8Z" fill="#352d8c"/><path d="M335.4,1113.7L339.4,1114.4L343.5,1118.6L339.4,1115.4Z" fill="#2bb6a5"/><path d="M412.3,1120.7L416.4,1126.8L420.4,1147.1L416.4,1150.2Z" fill="#108ed2"/><path d="M290.9,1120.1L294.9,1114.7L299.0,1118.9L294.9,1119.5Z" fill="#22b4ab"/><path d="M367.8,1116.9L371.8,1112.3L375.9,1117.5L371.8,1121.0Z" fill="#27b5a8"/><path d="M246.3,1159.4L250.4,1158.7L254.4,1161.2L250.4,1158.1Z" fill="#117ada"/><path d="M323.3,1121.8L327.3,1123.0L331.3,1117.2L327.3,1117.2Z" fill="#1eb3ae"/><path d="M400.2,1115.4L404.2,1121.2L408.3,1127.1L404.2,1115.2Z" fill="#1fb3ae"/><path d="M278.7,1119.0L282.8,1118.4L286.8,1118.1L282.8,1120.1Z" fill="#21b4ac"/><path d="M355.4,1115.4L359.7,1115.5L363.7,1117.8L359.5,1125.0Z" fill="#23b5ab"/><path d="M311.1,1122.5L315.2,1119.0L319.2,1116.3L315.2,1112.6Z" fill="#26b5a9"/><path d="M388.0,1117.5L392.1,1121.9L396.1,1123.0L392.1,1124.4Z" fill="#19b2b1"/><path d="M266.6,1127.0L270.6,1115.3L274.7,1117.4L270.6,1133.6Z" fill="#15b0b5"/><path d="M343.5,1118.6L347.5,1112.5L351.6,1124.2L347.5,1121.3Z" fill="#22b4ac"/><path d="M299.0,1118.9L303.0,1117.0L307.1,1116.1L303.0,1121.4Z" fill="#25b5aa"/><path d="M375.9,1117.5L379.9,1120.0L384.0,1122.7L379.9,1111.8Z" fill="#26b5a9"/><path d="M254.4,1161.2L258.5,1152.3L262.5,1162.2L258.5,1162.2Z" fill="#117bd9"/><path d="M420.4,1147.1L423.1,1152.1L427.1,1193.8L424.5,1194.6Z" fill="#363092"/><path d="M331.3,1117.2L335.4,1113.7L339.4,1115.4L335.4,1117.1Z" fill="#2fb7a3"/><path d="M408.3,1127.1L412.3,1120.7L416.4,1150.2L412.3,1151.0Z" fill="#108ed2"/><path d="M286.8,1118.1L290.9,1120.1L294.9,1119.5L290.9,1114.1Z" fill="#27b6a8"/><path d="M363.7,1117.8L367.8,1116.9L371.8,1121.0L367.8,1123.5Z" fill="#21b4ac"/><path d="M242.3,1193.0L246.3,1159.4L250.4,1158.1L246.3,1195.0Z" fill="#362f8f"/><path d="M319.2,1116.3L323.3,1121.8L327.3,1117.2L323.2,1115.2Z" fill="#29b6a7"/><path d="M396.1,1123.0L400.2,1115.4L404.2,1115.2L400.2,1119.5Z" fill="#27b6a8"/><path d="M274.7,1117.4L278.7,1119.0L282.8,1120.1L278.7,1125.4Z" fill="#20b4ad"/><path d="M351.6,1124.2L355.4,1115.4L359.5,1125.0L355.6,1124.8Z" fill="#1ab2b1"/><path d="M307.1,1116.1L311.1,1122.5L315.2,1112.6L311.1,1117.4Z" fill="#2cb7a5"/><path d="M384.0,1122.7L388.0,1117.5L392.1,1124.4L388.0,1121.9Z" fill="#1db3af"/><path d="M262.5,1162.2L266.6,1127.0L270.6,1133.6L266.6,1151.3Z" fill="#117ad9"/><path d="M339.4,1115.4L343.5,1118.6L347.5,1121.3L343.5,1117.0Z" fill="#2ab6a7"/><path d="M416.4,1150.2L420.4,1147.1L424.5,1194.6L420.4,1195.8Z" fill="#363092"/><path d="M294.9,1119.5L299.0,1118.9L303.0,1121.4L299.0,1120.2Z" fill="#23b5ab"/><path d="M371.8,1121.0L375.9,1117.5L379.9,1111.8L375.9,1117.8Z" fill="#2eb7a4"/><path d="M250.4,1158.1L254.4,1161.2L258.5,1162.2L254.4,1195.9Z" fill="#363093"/><path d="M327.3,1117.2L331.3,1117.2L335.4,1117.1L331.3,1120.4Z" fill="#2bb6a6"/><path d="M404.2,1115.2L408.3,1127.1L412.3,1151.0L408.3,1132.0Z" fill="#0f90d2"/><path d="M282.8,1120.1L286.8,1118.1L290.9,1114.1L286.8,1127.3Z" fill="#25b5aa"/><path d="M359.5,1125.0L363.7,1117.8L367.8,1123.5L363.5,1117.4Z" fill="#22b4ac"/><path d="M315.2,1112.6L319.2,1116.3L323.2,1115.2L319.2,1124.2Z" fill="#30b7a3"/><path d="M392.1,1124.4L396.1,1123.0L400.2,1119.5L396.1,1119.3Z" fill="#20b4ad"/><path d="M270.6,1133.6L274.7,1117.4L278.7,1125.4L274.7,1152.7Z" fill="#0f90d2"/><path d="M347.5,1121.3L351.6,1124.2L355.6,1124.8L351.6,1120.0Z" fill="#1db3af"/><path d="M303.0,1121.4L307.1,1116.1L311.1,1117.4L307.1,1128.0Z" fill="#24b5aa"/><path d="M379.9,1111.8L384.0,1122.7L388.0,1121.9L384.0,1122.1Z" fill="#28b6a8"/><path d="M258.5,1162.2L262.5,1162.2L266.6,1151.3L262.5,1196.8Z" fill="#363194"/><path d="M335.4,1117.1L339.4,1115.4L343.5,1117.0L339.4,1120.8Z" fill="#30b7a3"/><path d="M412.3,1151.0L416.4,1150.2L420.4,1195.8L416.4,1197.0Z" fill="#363092"/><path d="M290.9,1114.1L294.9,1119.5L299.0,1120.2L294.9,1125.9Z" fill="#28b6a8"/><path d="M367.8,1123.5L371.8,1121.0L375.9,1117.8L371.8,1131.3Z" fill="#1cb3af"/><path d="M246.3,1195.0L250.4,1158.1L254.4,1195.9L250.4,1197.1Z" fill="#352d8b"/><path d="M323.2,1115.2L327.3,1117.2L331.3,1120.4L327.3,1124.6Z" fill="#2bb6a6"/><path d="M400.2,1119.5L404.2,1115.2L408.3,1132.0L404.2,1130.0Z" fill="#1bb2b0"/><path d="M278.7,1125.4L282.8,1120.1L286.8,1127.3L282.8,1129.8Z" fill="#16b1b3"/><path d="M355.6,1124.8L359.5,1125.0L363.5,1117.4L359.7,1120.3Z" fill="#23b4ab"/><path d="M311.1,1117.4L315.2,1112.6L319.2,1124.2L315.1,1125.9Z" fill="#29b6a7"/><path d="M388.0,1121.9L392.1,1124.4L396.1,1119.3L392.1,1119.8Z" fill="#25b5aa"/><path d="M266.6,1151.3L270.6,1133.6L274.7,1152.7L270.6,1185.2Z" fill="#1e54d5"/><path d="M343.5,1117.0L347.5,1121.3L351.6,1120.0L347.5,1125.5Z" fill="#27b5a8"/><path d="M299.0,1120.2L303.0,1121.4L307.1,1128.0L303.0,1133.4Z" fill="#18b1b2"/><path d="M375.9,1117.8L379.9,1111.8L384.0,1122.1L379.9,1123.0Z" fill="#30b7a3"/><path d="M254.4,1195.9L258.5,1162.2L262.5,1196.8L258.5,1198.0Z" fill="#352c8b"/><path d="M331.3,1120.4L335.4,1117.1L339.4,1120.8L335.4,1122.6Z" fill="#2ab6a6"/><path d="M408.3,1132.0L412.3,1151.0L416.4,1197.0L412.3,1149.4Z" fill="#36349b"/><path d="M286.8,1127.3L290.9,1114.1L294.9,1125.9L290.9,1128.2Z" fill="#1fb3ae"/><path d="M363.5,1117.4L367.8,1123.5L371.8,1131.3L367.5,1124.8Z" fill="#1eb3ae"/><path d="M319.2,1124.2L323.2,1115.2L327.3,1124.6L323.2,1128.2Z" fill="#22b4ac"/><path d="M396.1,1119.3L400.2,1119.5L404.2,1130.0L400.2,1128.2Z" fill="#1eb3ae"/><path d="M274.7,1152.7L278.7,1125.4L282.8,1129.8L278.7,1157.0Z" fill="#128ad3"/><path d="M351.6,1120.0L355.6,1124.8L359.7,1120.3L355.6,1121.9Z" fill="#27b5a8"/><path d="M307.1,1128.0L311.1,1117.4L315.1,1125.9L311.1,1122.8Z" fill="#21b4ac"/><path d="M384.0,1122.1L388.0,1121.9L392.1,1119.8L388.0,1124.0Z" fill="#27b5a8"/><path d="M262.5,1196.8L266.6,1151.3L270.6,1185.2L266.6,1198.8Z" fill="#362e8e"/><path d="M339.4,1120.8L343.5,1117.0L347.5,1125.5L343.5,1124.1Z" fill="#28b6a8"/><path d="M294.9,1125.9L299.0,1120.2L303.0,1133.4L299.0,1136.1Z" fill="#12b0b6"/><path d="M371.8,1131.3L375.9,1117.8L379.9,1123.0L375.9,1121.1Z" fill="#23b5ab"/><path d="M327.3,1124.6L331.3,1120.4L335.4,1122.6L331.3,1126.5Z" fill="#23b5ab"/><path d="M404.2,1130.0L408.3,1132.0L412.3,1149.4L408.3,1165.1Z" fill="#137fd7"/><path d="M282.8,1129.8L286.8,1127.3L290.9,1128.2L286.8,1154.6Z" fill="#0e92d2"/><path d="M359.7,1120.3L363.5,1117.4L367.5,1124.8L363.7,1126.4Z" fill="#28b6a7"/><path d="M315.1,1125.9L319.2,1124.2L323.2,1128.2L319.2,1121.9Z" fill="#1fb3ad"/><path d="M392.1,1119.8L396.1,1119.3L400.2,1128.2L396.1,1123.8Z" fill="#27b5a8"/><path d="M270.6,1185.2L274.7,1152.7L278.7,1157.0L274.7,1199.7Z" fill="#363093"/><path d="M347.5,1125.5L351.6,1120.0L355.6,1121.9L351.6,1120.7Z" fill="#2ab6a6"/><path d="M303.0,1133.4L307.1,1128.0L311.1,1122.8L307.0,1134.6Z" fill="#13b0b6"/><path d="M379.9,1123.0L384.0,1122.1L388.0,1124.0L384.0,1122.0Z" fill="#28b6a7"/><path d="M335.4,1122.6L339.4,1120.8L343.5,1124.1L339.4,1119.6Z" fill="#2cb7a5"/><path d="M412.3,1149.4L416.4,1197.0L420.4,1199.0L416.4,1200.2Z" fill="#362d8d"/><path d="M290.9,1128.2L294.9,1125.9L299.0,1136.1L294.9,1157.4Z" fill="#108ed2"/><path d="M367.5,1124.8L371.8,1131.3L375.9,1121.1L371.6,1124.9Z" fill="#20b4ad"/><path d="M323.2,1128.2L327.3,1124.6L331.3,1126.5L327.3,1120.2Z" fill="#23b4ab"/><path d="M400.2,1128.2L404.2,1130.0L408.3,1165.1L404.2,1159.3Z" fill="#137fd7"/><path d="M278.7,1157.0L282.8,1129.8L286.8,1154.6L282.8,1200.6Z" fill="#36349a"/><path d="M355.6,1121.9L359.7,1120.3L363.7,1126.4L359.7,1124.8Z" fill="#29b6a7"/><path d="M311.1,1122.8L315.1,1125.9L319.2,1121.9L315.1,1122.6Z" fill="#29b6a7"/><path d="M388.0,1124.0L392.1,1119.8L396.1,1123.8L392.1,1126.5Z" fill="#29b6a7"/><path d="M266.6,1198.8L270.6,1185.2L274.7,1199.7L270.6,1200.9Z" fill="#363296"/><path d="M343.5,1124.1L347.5,1125.5L351.6,1120.7L347.5,1122.7Z" fill="#2ab6a6"/><path d="M299.0,1136.1L303.0,1133.4L307.0,1134.6L303.0,1132.4Z" fill="#0badbc"/><path d="M375.9,1121.1L379.9,1123.0L384.0,1122.0L379.9,1125.2Z" fill="#2cb7a5"/><path d="M331.3,1126.5L335.4,1122.6L339.4,1119.6L335.4,1122.6Z" fill="#2db7a5"/><path d="M408.3,1165.1L412.3,1149.4L416.4,1200.2L412.3,1201.4Z" fill="#362f91"/><path d="M286.8,1154.6L290.9,1128.2L294.9,1157.4L290.9,1157.4Z" fill="#128cd2"/><path d="M363.7,1126.4L367.5,1124.8L371.6,1124.9L367.8,1121.0Z" fill="#29b6a7"/><path d="M319.2,1121.9L323.2,1128.2L327.3,1120.2L323.2,1127.4Z" fill="#28b6a7"/><path d="M396.1,1123.8L400.2,1128.2L404.2,1159.3L400.2,1133.0Z" fill="#128bd2"/><path d="M274.7,1199.7L278.7,1157.0L282.8,1200.6L278.7,1201.8Z" fill="#352d8c"/><path d="M351.6,1120.7L355.6,1121.9L359.7,1124.8L355.6,1124.6Z" fill="#2eb7a4"/><path d="M307.0,1134.6L311.1,1122.8L315.1,1122.6L311.1,1136.2Z" fill="#1ab2b1"/><path d="M384.0,1122.0L388.0,1124.0L392.1,1126.5L388.0,1122.6Z" fill="#2cb7a5"/><path d="M339.4,1119.6L343.5,1124.1L347.5,1122.7L343.5,1124.8Z" fill="#30b7a2"/><path d="M294.9,1157.4L299.0,1136.1L303.0,1132.4L298.9,1183.1Z" fill="#0268e1"/><path d="M371.6,1124.9L375.9,1121.1L379.9,1125.2L375.6,1127.4Z" fill="#2ab6a6"/><path d="M327.3,1120.2L331.3,1126.5L335.4,1122.6L331.3,1120.6Z" fill="#33b8a1"/><path d="M404.2,1159.3L408.3,1165.1L412.3,1201.4L408.3,1202.6Z" fill="#362f90"/><path d="M282.8,1200.6L286.8,1154.6L290.9,1157.4L286.8,1202.6Z" fill="#363092"/><path d="M359.7,1124.8L363.7,1126.4L367.8,1121.0L363.7,1131.8Z" fill="#27b5a8"/><path d="M315.1,1122.6L319.2,1121.9L323.2,1127.4L319.2,1132.2Z" fill="#27b5a8"/><path d="M392.1,1126.5L396.1,1123.8L400.2,1133.0L396.1,1137.2Z" fill="#1ab2b1"/><path d="M347.5,1122.7L351.6,1120.7L355.6,1124.6L351.6,1131.1Z" fill="#2cb7a5"/><path d="M303.0,1132.4L307.0,1134.6L311.1,1136.2L307.0,1160.6Z" fill="#118dd2"/><path d="M379.9,1125.2L384.0,1122.0L388.0,1122.6L384.0,1128.1Z" fill="#2eb7a4"/><path d="M335.4,1122.6L339.4,1119.6L343.5,1124.8L339.4,1133.8Z" fill="#2cb7a5"/><path d="M290.9,1157.4L294.9,1157.4L298.9,1183.1L294.9,1203.5Z" fill="#363194"/><path d="M367.8,1121.0L371.6,1124.9L375.6,1127.4L371.8,1128.6Z" fill="#2cb6a5"/><path d="M323.2,1127.4L327.3,1120.2L331.3,1120.6L327.3,1138.3Z" fill="#28b6a8"/><path d="M400.2,1133.0L404.2,1159.3L408.3,1202.6L404.2,1156.4Z" fill="#36349b"/><path d="M355.6,1124.6L359.7,1124.8L363.7,1131.8L359.7,1129.3Z" fill="#25b5a9"/><path d="M311.1,1136.2L315.1,1122.6L319.2,1132.2L315.1,1160.7Z" fill="#0f8fd2"/><path d="M388.0,1122.6L392.1,1126.5L396.1,1137.2L392.1,1138.2Z" fill="#1ab2b1"/><path d="M343.5,1124.8L347.5,1122.7L351.6,1131.1L347.5,1133.0Z" fill="#25b5a9"/><path d="M298.9,1183.1L303.0,1132.4L307.0,1160.6L303.0,1204.4Z" fill="#363297"/><path d="M375.6,1127.4L379.9,1125.2L384.0,1128.1L379.7,1136.4Z" fill="#22b4ac"/><path d="M331.3,1120.6L335.4,1122.6L339.4,1133.8L335.4,1132.4Z" fill="#28b6a7"/><path d="M286.8,1202.6L290.9,1157.4L294.9,1203.5L290.9,1204.7Z" fill="#352d8c"/><path d="M363.7,1131.8L367.8,1121.0L371.8,1128.6L367.8,1140.9Z" fill="#1eb3ae"/><path d="M319.2,1132.2L323.2,1127.4L327.3,1138.3L323.2,1139.7Z" fill="#13b0b6"/><path d="M396.1,1137.2L400.2,1133.0L404.2,1156.4L400.2,1152.5Z" fill="#06a5c8"/><path d="M351.6,1131.1L355.6,1124.6L359.7,1129.3L355.6,1143.2Z" fill="#1bb2b1"/><path d="M307.0,1160.6L311.1,1136.2L315.1,1160.7L311.1,1155.2Z" fill="#128bd2"/><path d="M384.0,1128.1L388.0,1122.6L392.1,1138.2L388.0,1142.6Z" fill="#19b2b2"/><path d="M339.4,1133.8L343.5,1124.8L347.5,1133.0L343.5,1142.5Z" fill="#17b1b3"/><path d="M294.9,1203.5L298.9,1183.1L303.0,1204.4L298.9,1205.6Z" fill="#36369f"/><path d="M371.8,1128.6L375.6,1127.4L379.7,1136.4L375.9,1144.3Z" fill="#16b1b4"/><path d="M327.3,1138.3L331.3,1120.6L335.4,1132.4L331.3,1141.5Z" fill="#19b2b2"/><path d="M404.2,1156.4L408.3,1202.6L412.3,1204.7L408.3,1205.9Z" fill="#352d8d"/><path d="M359.7,1129.3L363.7,1131.8L367.8,1140.9L363.7,1141.7Z" fill="#12b0b7"/><path d="M315.1,1160.7L319.2,1132.2L323.2,1139.7L319.2,1161.2Z" fill="#118ed2"/><path d="M392.1,1138.2L396.1,1137.2L400.2,1152.5L396.1,1165.1Z" fill="#138ad3"/><path d="M347.5,1133.0L351.6,1131.1L355.6,1143.2L351.6,1144.6Z" fill="#0eaeba"/><path d="M303.0,1204.4L307.0,1160.6L311.1,1155.2L307.0,1206.4Z" fill="#363092"/><path d="M379.7,1136.4L384.0,1128.1L388.0,1142.6L383.7,1158.9Z" fill="#0a97d1"/><path d="M335.4,1132.4L339.4,1133.8L343.5,1142.5L339.4,1143.7Z" fill="#0eaeba"/><path d="M367.8,1140.9L371.8,1128.6L375.9,1144.3L371.8,1168.5Z" fill="#1486d4"/><path d="M323.2,1139.7L327.3,1138.3L331.3,1141.5L327.3,1163.7Z" fill="#06a6c6"/><path d="M400.2,1152.5L404.2,1156.4L408.3,1205.9L404.2,1207.1Z" fill="#363093"/><path d="M355.6,1143.2L359.7,1129.3L363.7,1141.7L359.7,1162.6Z" fill="#0e91d2"/><path d="M311.1,1155.2L315.1,1160.7L319.2,1161.2L315.1,1207.3Z" fill="#363398"/><path d="M388.0,1142.6L392.1,1138.2L396.1,1165.1L392.1,1164.4Z" fill="#1389d3"/><path d="M343.5,1142.5L347.5,1133.0L351.6,1144.6L347.5,1164.8Z" fill="#118dd2"/><path d="M375.9,1144.3L379.7,1136.4L383.7,1158.9L379.9,1163.3Z" fill="#0f90d2"/><path d="M331.3,1141.5L335.4,1132.4L339.4,1143.7L335.4,1161.2Z" fill="#0b95d2"/><path d="M363.7,1141.7L367.8,1140.9L371.8,1168.5L367.8,1162.8Z" fill="#1485d4"/><path d="M319.2,1161.2L323.2,1139.7L327.3,1163.7L323.2,1208.2Z" fill="#36349a"/><path d="M396.1,1165.1L400.2,1152.5L404.2,1207.1L400.2,1208.3Z" fill="#363093"/><path d="M351.6,1144.6L355.6,1143.2L359.7,1162.6L355.6,1159.6Z" fill="#06a0cd"/><path d="M307.0,1206.4L311.1,1155.2L315.1,1207.3L311.1,1208.5Z" fill="#362d8d"/><path d="M383.7,1158.9L388.0,1142.6L392.1,1164.4L387.8,1208.7Z" fill="#36349a"/><path d="M339.4,1143.7L343.5,1142.5L347.5,1164.8L343.5,1154.0Z" fill="#06a2cc"/><path d="M371.8,1168.5L375.9,1144.3L379.9,1163.3L375.9,1208.9Z" fill="#363399"/><path d="M327.3,1163.7L331.3,1141.5L335.4,1161.2L331.3,1168.8Z" fill="#1487d3"/><path d="M359.7,1162.6L363.7,1141.7L367.8,1162.8L363.7,1209.3Z" fill="#36349a"/><path d="M315.1,1207.3L319.2,1161.2L323.2,1208.2L319.2,1209.4Z" fill="#352d8d"/><path d="M392.1,1164.4L396.1,1165.1L400.2,1208.3L396.1,1209.5Z" fill="#362f91"/><path d="M347.5,1164.8L351.6,1144.6L355.6,1159.6L351.6,1209.6Z" fill="#36349a"/><path d="M379.9,1163.3L383.7,1158.9L387.8,1208.7L384.0,1209.8Z" fill="#363092"/><path d="M335.4,1161.2L339.4,1143.7L343.5,1154.0L339.4,1209.9Z" fill="#36349b"/><path d="M367.8,1162.8L371.8,1168.5L375.9,1208.9L371.8,1210.1Z" fill="#362f91"/><path d="M323.2,1208.2L327.3,1163.7L331.3,1168.8L327.3,1210.3Z" fill="#362f91"/><path d="M355.6,1159.6L359.7,1162.6L363.7,1209.3L359.7,1210.5Z" fill="#363093"/><path d="M387.8,1208.7L392.1,1164.4L396.1,1209.5L391.8,1210.8Z" fill="#352d8c"/><path d="M343.5,1154.0L347.5,1164.8L351.6,1209.6L347.5,1210.8Z" fill="#363093"/><path d="M375.9,1208.9L379.9,1163.3L384.0,1209.8L379.9,1211.0Z" fill="#352d8c"/><path d="M331.3,1168.8L335.4,1161.2L339.4,1209.9L335.4,1211.1Z" fill="#363092"/><path d="M363.7,1209.3L367.8,1162.8L371.8,1210.1L367.8,1211.3Z" fill="#352d8d"/><path d="M351.6,1209.6L355.6,1159.6L359.7,1210.5L355.6,1211.7Z" fill="#362d8d"/><path d="M339.4,1209.9L343.5,1154.0L347.5,1210.8L343.5,1212.0Z" fill="#362e8e"/><path d="M327.3,1210.3L331.3,1168.8L335.4,1211.1L331.3,1212.3Z" fill="#352d8c"/></g>
<circle cx="256" cy="984.5" r="2.2" fill="#f00"/><circle cx="348" cy="996.5" r="2.2" fill="#f00"/>
<path d="M134.7,957.6L134.7,1148.9" stroke="#000" stroke-width="2"/>
<path d="M134.7,1148.9L305.7,1236.2L525.7,1171.2" stroke="#000" stroke-width="2" fill="none"/>
<path d="M134.7,957.6 l-5,1.5 M134.7,1148.9 l-5,1.5 M213.4,1189.1 l-5.5,1.6 M290.5,1228.4 l-5.5,1.6 M405.2,1206.8 l-5,-2.5 M504.6,1177.4 l-5,-2.5" stroke="#000" stroke-width="2" fill="none"/>
<text x="120.5" y="968.5" font-size="30" text-anchor="end">50</text>
<text x="121" y="1154.5" font-size="30" text-anchor="end">0</text>
<text x="120" y="1182.5" font-size="30" text-anchor="end">0</text>
<text x="148.5" y="1224.1" font-size="30">450</text>
<text x="228.5" y="1264.6" font-size="30">900</text>
<text x="315" y="1273" font-size="30">0</text>
<text x="415" y="1243" font-size="30">600</text>
<text x="517" y="1211" font-size="30">1200</text>
<text x="224.3" y="980.2" font-size="38">O''</text>
<text x="317.1" y="993.2" font-size="38">O'</text>
<linearGradient id="pgrad" x1="0" y1="0" x2="0" y2="1"><stop offset="0.00" stop-color="#f9fb0e"/><stop offset="0.05" stop-color="#f5e31e"/><stop offset="0.10" stop-color="#fad12b"/><stop offset="0.15" stop-color="#fec13a"/><stop offset="0.20" stop-color="#ecb94c"/><stop offset="0.25" stop-color="#d3bb58"/><stop offset="0.30" stop-color="#b8bd63"/><stop offset="0.35" stop-color="#9bbf6f"/><stop offset="0.40" stop-color="#7abf7c"/><stop offset="0.45" stop-color="#55bd8e"/><stop offset="0.50" stop-color="#33b8a1"/><stop offset="0.55" stop-color="#18b1b2"/><stop offset="0.60" stop-color="#07aac1"/><stop offset="0.65" stop-color="#06a0cd"/><stop offset="0.70" stop-color="#0d93d2"/><stop offset="0.75" stop-color="#1484d4"/><stop offset="0.80" stop-color="#0f77db"/><stop offset="0.85" stop-color="#036ae1"/><stop offset="0.90" stop-color="#1b55d7"/><stop offset="0.95" stop-color="#353eaf"/><stop offset="1.00" stop-color="#352a87"/></linearGradient>
<rect x="604" y="893.6" width="20.5" height="342" fill="url(#pgrad)" stroke="#000" stroke-width="0.8" stroke-opacity="0.5"/>
<path d="M624.5,901.6 h-4 M624.5,985.2 h-4 M624.5,1068.9 h-4 M624.5,1152.6 h-4" stroke="#000" stroke-width="1.5"/>
<text x="631.5" y="912.1" font-size="30">40</text>
<text x="631.5" y="995.7" font-size="30">30</text>
<text x="631.5" y="1079.4" font-size="30">20</text>
<text x="631.5" y="1163.1" font-size="30">10</text>
<text x="631.5" y="1248.0" font-size="30">0</text>
<text x="546.5" y="882.3" font-size="33.8" font-weight="bold">(level)</text>
<text transform="translate(25.3,1301.6) rotate(-90)" font-size="34" font-weight="bold">Accumulative Spatial</text>
<text transform="translate(66,1321.9) rotate(-90)" font-size="34" font-weight="bold">Contraction (ASC) map</text><text x="75.5" y="1271.4" font-size="76.5">C</text>
<rect x="136.6" y="1304.1" width="415.9" height="333.4000000000001" fill="none" stroke="#000" stroke-width="2"/>
<path d="M326.3,1637.5 v-4.5 M326.3,1304.1 v4.5 M516.0,1637.5 v-4.5 M516.0,1304.1 v4.5 M136.6,1460.2 h4.5 M552.5,1460.2 h-4.5 M136.6,1616.8 h4.5 M552.5,1616.8 h-4.5" stroke="#000" stroke-width="2" fill="none"/>
<text x="127" y="1316.6" font-size="30.5" text-anchor="end">0</text>
<text x="127" y="1472.7" font-size="30.5" text-anchor="end">450</text>
<text x="127" y="1629.3" font-size="30.5" text-anchor="end">900</text>
<text x="136.6" y="1677" font-size="30.5" text-anchor="middle">0</text>
<text x="326.3" y="1677" font-size="30.5" text-anchor="middle">600</text>
<text x="516.0" y="1677" font-size="30.5" text-anchor="middle">1200</text>
<circle cx="303.9" cy="1359" r="4.1" fill="#352a87"/>
<circle cx="311.3" cy="1359" r="4.1" fill="#352a87"/>
<circle cx="319" cy="1357.6" r="4.1" fill="#352a87"/>
<circle cx="321.4" cy="1354.2" r="4.1" fill="#352a87"/>
<circle cx="326.3" cy="1355.9" r="4.1" fill="#352a87"/>
<circle cx="365.4" cy="1462.1" r="4.1" fill="#352a87"/>
<circle cx="368.6" cy="1465" r="4.1" fill="#352a87"/>
<circle cx="364.6" cy="1468.5" r="4.1" fill="#352a87"/>
<circle cx="366" cy="1460" r="4.1" fill="#352a87"/>
<circle cx="369.4" cy="1479" r="4.1" fill="#1a64e0"/>
<circle cx="373.5" cy="1476.5" r="4.1" fill="#1e7fdc"/>
<circle cx="377.5" cy="1477.3" r="4.1" fill="#1483d4"/>
<circle cx="381.5" cy="1478.2" r="4.1" fill="#2c4fc8"/>
<circle cx="387.9" cy="1476.5" r="4.1" fill="#352a87"/>
<circle cx="398.4" cy="1482.2" r="4.1" fill="#0b9ad0"/>
<circle cx="400.5" cy="1482.2" r="4.1" fill="#0b9ad0"/>
<circle cx="407.2" cy="1470.4" r="4.1" fill="#7cbf7a"/>
<circle cx="389.5" cy="1453.7" r="4.1" fill="#f3f20e"/>
<circle cx="387.1" cy="1462.1" r="4.1" fill="#f5d920"/>
<circle cx="390.3" cy="1468.5" r="4.1" fill="#e6d030"/>
<circle cx="391.9" cy="1462.1" r="4.1" fill="#f0b040"/>
<circle cx="395.1" cy="1464.5" r="4.1" fill="#fbb83c"/>
<circle cx="393" cy="1461" r="4.1" fill="#e8b050"/>
<circle cx="427.3" cy="1476.2" r="4.1" fill="#352a87"/>
<circle cx="432.1" cy="1477.3" r="4.1" fill="#352a87"/>
<circle cx="426.5" cy="1486.2" r="4.1" fill="#352a87"/>
<circle cx="426.5" cy="1484" r="4.1" fill="#352a87"/>
<circle cx="300.5" cy="1372.8" r="7.2" fill="#f00"/>
<circle cx="432.4" cy="1404.3" r="7.2" fill="#f00"/>
<circle cx="381.2" cy="1468.5" r="7.2" fill="#f00"/>
<text x="262.3" y="1367.6" font-size="37.5">O''</text>
<text x="398.8" y="1394.5" font-size="37.5">O'''</text>
<text x="355.7" y="1455.6" font-size="37.5">O'</text>
<linearGradient id="pgrad2" x1="0" y1="0" x2="0" y2="1"><stop offset="0.00" stop-color="#f9fb0e"/><stop offset="0.05" stop-color="#f5e31e"/><stop offset="0.10" stop-color="#fad12b"/><stop offset="0.15" stop-color="#fec13a"/><stop offset="0.20" stop-color="#ecb94c"/><stop offset="0.25" stop-color="#d3bb58"/><stop offset="0.30" stop-color="#b8bd63"/><stop offset="0.35" stop-color="#9bbf6f"/><stop offset="0.40" stop-color="#7abf7c"/><stop offset="0.45" stop-color="#55bd8e"/><stop offset="0.50" stop-color="#33b8a1"/><stop offset="0.55" stop-color="#18b1b2"/><stop offset="0.60" stop-color="#07aac1"/><stop offset="0.65" stop-color="#06a0cd"/><stop offset="0.70" stop-color="#0d93d2"/><stop offset="0.75" stop-color="#1484d4"/><stop offset="0.80" stop-color="#0f77db"/><stop offset="0.85" stop-color="#036ae1"/><stop offset="0.90" stop-color="#1b55d7"/><stop offset="0.95" stop-color="#353eaf"/><stop offset="1.00" stop-color="#352a87"/></linearGradient>
<rect x="562.6" y="1305.8" width="20.2" height="331.7" fill="url(#pgrad2)" stroke="#000" stroke-width="0.8" stroke-opacity="0.5"/>
<path d="M582.8,1353.2 h-4 M582.8,1401.1 h-4 M582.8,1449 h-4 M582.8,1497 h-4 M582.8,1544.9 h-4 M582.8,1592.8 h-4" stroke="#000" stroke-width="1.5"/>
<text x="590" y="1363.7" font-size="30">6</text>
<text x="590" y="1411.6" font-size="30">5</text>
<text x="590" y="1459.5" font-size="30">4</text>
<text x="590" y="1507.5" font-size="30">3</text>
<text x="590" y="1555.4" font-size="30">2</text>
<text x="590" y="1603.3" font-size="30">1</text>
<text x="583.6" y="1336.5" font-size="31.5" font-weight="300">×</text><text x="604.8" y="1334.2" font-size="28">10</text><text x="634.8" y="1320" font-size="20.5">5</text>
<text x="545" y="1295" font-size="34" font-weight="bold">(µm<tspan font-size="27" dy="-16.3">2</tspan><tspan dy="16.3">)</tspan></text><text x="680" y="1272" font-size="76.5">D</text>
<g clip-path="url(#dclip)">
<polyline points="773.4,1634.5 776.4,1635.4 779.5,1633.6 782.5,1632.5 785.5,1633.7 788.6,1634.0 791.6,1632.7 794.6,1634.8 797.7,1635.5 800.7,1633.0 803.7,1633.3 806.8,1631.9 809.8,1633.8 812.8,1632.2 815.9,1635.5 818.9,1635.4 821.9,1633.0 825.0,1634.6 828.0,1635.3 831.0,1635.0 834.1,1634.0 837.1,1634.1 840.1,1633.1 843.2,1631.8 846.2,1634.0 849.2,1634.8 852.3,1633.1 855.3,1635.5 858.4,1633.9 861.4,1634.2 864.4,1633.9 867.5,1635.3 870.5,1633.2 873.5,1632.9 876.6,1632.4 879.6,1631.5 882.6,1634.0 885.7,1632.8 888.7,1633.7 891.7,1634.6 894.8,1631.8 897.8,1632.4 900.8,1631.5 903.9,1632.1 906.9,1631.6 909.9,1635.0 913.0,1635.5 916.0,1634.7 919.0,1633.8 922.1,1632.6 925.1,1633.7 928.1,1633.4 931.2,1632.3 934.2,1635.2 937.2,1632.7 940.3,1635.3 943.3,1634.5 946.3,1632.5 949.4,1632.6 952.4,1633.8 955.4,1634.3 958.5,1632.0 961.5,1634.4 964.5,1635.4 967.6,1634.5 970.6,1635.5 973.6,1632.1 976.7,1635.0 979.7,1631.4 982.7,1634.6 985.8,1634.2 988.8,1633.1 991.8,1634.2 994.9,1633.9 997.9,1635.1 1001.0,1633.9 1004.0,1635.4 1007.0,1634.6 1010.1,1631.7 1013.1,1634.3 1016.1,1634.4 1019.2,1632.7 1022.2,1631.8 1025.2,1634.3 1028.3,1633.9 1031.3,1632.5 1034.3,1632.2 1037.4,1632.9 1040.4,1634.8 1043.4,1634.8 1046.5,1632.3 1049.5,1632.5 1052.5,1631.7 1055.6,1632.2 1058.6,1633.8 1061.6,1635.0 1064.7,1631.8 1067.7,1632.6 1070.7,1633.1 1073.8,1632.6 1076.8,1633.9 1079.8,1634.1 1082.9,1633.1 1085.9,1633.5 1088.9,1632.5 1092.0,1631.6 1095.0,1631.9 1098.0,1633.9 1101.1,1634.0 1104.1,1631.6 1107.1,1633.9 1110.2,1632.1 1113.2,1635.1 1116.2,1633.6 1119.3,1633.4 1122.3,1632.1 1125.3,1631.8 1128.4,1634.9 1131.4,1632.9 1134.4,1632.9 1137.5,1634.9 1140.5,1632.0 1143.5,1633.2 1146.6,1631.5 1149.6,1634.8 1152.7,1633.3 1155.7,1634.2 1158.7,1632.8 1161.8,1633.0 1164.8,1633.4 1167.8,1634.2 1170.9,1633.4 1173.9,1634.0 1176.9,1631.8 1180.0,1633.6 1183.0,1633.5 1186.0,1634.4 1189.1,1634.5 1192.1,1631.5 1195.1,1634.2 1198.2,1631.9 1201.2,1633.0 1204.2,1631.4 1207.3,1634.8 1210.3,1631.5 1213.3,1632.3 1216.4,1633.1 1219.4,1632.5 1222.4,1632.5 1225.5,1633.6 1228.5,1632.8" fill="none" stroke="#e0ad72" stroke-width="2.2" stroke-linejoin="miter" stroke-miterlimit="10"/>
<polyline points="773.4,1502.5 776.4,1623.9 779.5,1629.6 782.5,1633.2 785.5,1632.5 788.6,1420.4 791.6,1626.0 794.6,1632.6 797.7,1627.4 800.7,1610.5 803.7,1626.0 806.8,1630.2 809.8,1629.2 812.8,1621.3 815.9,1626.0 818.9,1628.4 821.9,1629.2 825.0,1611.2 828.0,1626.0 831.0,1629.9 834.1,1627.2 837.1,1618.6 840.1,1626.0 843.2,1630.3 846.2,1421.4 849.2,1626.0 852.3,1631.9 855.3,1628.3 858.4,1530.9 861.4,1626.0 864.4,1630.4 867.5,1631.7 870.5,1615.4 873.5,1626.0 876.6,1630.7 879.6,1429.9 882.6,1626.0 885.7,1632.1 888.7,1627.7 891.7,1462.0 894.8,1626.0 897.8,1632.1 900.8,1631.2 903.9,1405.5 906.9,1564.5 909.9,1626.0 913.0,1631.3 916.0,1633.3 919.0,1445.8 922.1,1626.0 925.1,1630.5 928.1,1629.0 931.2,1588.5 934.2,1626.0 937.2,1628.0 940.3,1629.7 943.3,1608.0 946.3,1626.0 949.4,1632.9 952.4,1632.3 955.4,1624.9 958.5,1626.0 961.5,1630.5 964.5,1387.5 967.6,1626.0 970.6,1632.2 973.6,1633.0 976.7,1396.0 979.7,1626.0 982.7,1633.2 985.8,1628.3 988.8,1492.4 991.8,1626.0 994.9,1633.3 997.9,1631.6 1001.0,1462.0 1004.0,1626.0 1007.0,1628.0 1010.1,1632.0 1013.1,1614.8 1016.1,1626.0 1019.2,1627.2 1022.2,1542.3 1025.2,1626.0 1028.3,1630.6 1031.3,1631.4 1034.3,1628.7 1037.4,1633.2 1040.4,1603.7 1043.4,1626.0 1046.5,1631.9 1049.5,1539.1 1052.5,1626.0 1055.6,1629.9 1058.6,1629.2 1061.6,1418.2 1064.7,1626.0 1067.7,1627.5 1070.7,1632.5 1073.8,1596.7 1076.8,1626.0 1079.8,1630.6 1082.9,1628.4 1085.9,1623.9 1088.9,1626.0 1092.0,1633.2 1095.0,1622.8 1098.0,1626.0 1101.1,1627.1 1104.1,1632.5 1107.1,1412.9 1110.2,1626.0 1113.2,1633.0 1116.2,1627.9 1119.3,1593.1 1122.3,1626.0 1125.3,1630.3 1128.4,1632.9 1131.4,1616.5 1134.4,1626.0 1137.5,1633.2 1140.5,1623.9 1143.5,1626.0 1146.6,1451.6 1149.6,1626.0 1152.7,1629.3 1155.7,1631.2 1158.7,1620.7 1161.8,1626.0 1164.8,1630.9 1167.8,1627.6 1170.9,1632.7 1173.9,1421.4 1176.9,1626.0 1180.0,1627.3 1183.0,1627.6 1186.0,1429.9 1189.1,1626.0 1192.1,1628.3 1195.1,1490.3 1198.2,1626.0 1201.2,1630.5 1204.2,1633.1 1207.3,1628.3 1210.3,1628.8 1213.3,1628.3 1216.4,1628.6 1219.4,1631.7 1222.4,1608.0 1225.5,1626.0 1228.5,1632.5" fill="none" stroke="#7d0f3a" stroke-width="2.2" stroke-linejoin="miter" stroke-miterlimit="10"/>
<polyline points="773.4,1634.9 776.4,1634.5 779.5,1635.4 782.5,1634.0 785.5,1634.0 788.6,1569.3 791.6,1634.0 794.6,1635.1 797.7,1633.5 800.7,1635.4 803.7,1633.2 806.8,1634.8 809.8,1634.3 812.8,1633.7 815.9,1580.4 818.9,1635.5 821.9,1632.4 825.0,1636.2 828.0,1635.2 831.0,1634.3 834.1,1636.5 837.1,1622.8 840.1,1633.2 843.2,1633.3 846.2,1627.1 849.2,1632.8 852.3,1633.4 855.3,1635.3 858.4,1633.9 861.4,1591.0 864.4,1633.4 867.5,1635.0 870.5,1636.0 873.5,1632.9 876.6,1633.7 879.6,1633.4 882.6,1592.1 885.7,1633.3 888.7,1634.7 891.7,1634.2 894.8,1636.3 897.8,1634.2 900.8,1633.1 903.9,1626.0 906.9,1633.2 909.9,1634.5 913.0,1632.9 916.0,1636.1 919.0,1632.9 922.1,1635.0 925.1,1636.2 928.1,1620.7 931.2,1623.9 934.2,1634.8 937.2,1633.0 940.3,1636.0 943.3,1634.0 946.3,1634.8 949.4,1634.4 952.4,1619.6 955.4,1636.0 958.5,1621.8 961.5,1632.9 964.5,1635.9 967.6,1636.6 970.6,1636.3 973.6,1634.7 976.7,1632.5 979.7,1581.5 982.7,1632.4 985.8,1634.3 988.8,1636.1 991.8,1634.8 994.9,1635.7 997.9,1633.6 1001.0,1634.3 1004.0,1578.5 1007.0,1635.5 1010.1,1632.9 1013.1,1633.4 1016.1,1634.8 1019.2,1634.9 1022.2,1633.5 1025.2,1626.0 1028.3,1636.3 1031.3,1635.9 1034.3,1635.1 1037.4,1634.4 1040.4,1636.3 1043.4,1636.4 1046.5,1620.7 1049.5,1635.0 1052.5,1620.7 1055.6,1634.0 1058.6,1636.5 1061.6,1636.4 1064.7,1634.7 1067.7,1632.9 1070.7,1616.5 1073.8,1635.1 1076.8,1617.5 1079.8,1632.7 1082.9,1634.9 1085.9,1633.4 1088.9,1568.8 1092.0,1635.9 1095.0,1634.2 1098.0,1636.2 1101.1,1633.8 1104.1,1633.2 1107.1,1632.7 1110.2,1590.0 1113.2,1636.1 1116.2,1632.8 1119.3,1632.9 1122.3,1632.5 1125.3,1634.1 1128.4,1633.7 1131.4,1635.0 1134.4,1595.7 1137.5,1635.4 1140.5,1633.5 1143.5,1631.3 1146.6,1633.7 1149.6,1634.5 1152.7,1634.7 1155.7,1632.5 1158.7,1635.9 1161.8,1629.2 1164.8,1635.9 1167.8,1629.2 1170.9,1634.5 1173.9,1635.2 1176.9,1635.9 1180.0,1634.1 1183.0,1576.2 1186.0,1636.1 1189.1,1636.5 1192.1,1634.9 1195.1,1630.2 1198.2,1634.4 1201.2,1632.8 1204.2,1632.7 1207.3,1632.6 1210.3,1577.2 1213.3,1634.6 1216.4,1634.4 1219.4,1634.9 1222.4,1634.9 1225.5,1636.4 1228.5,1575.1" fill="none" stroke="#0b2e4a" stroke-width="2.4" stroke-linejoin="miter" stroke-miterlimit="10"/>
</g>
<path d="M773.4,1318.6 H1228.7 V1637.4 H773.4 Z" fill="none" stroke="#000" stroke-width="2"/>
<path d="M925.1,1637.4 v-4.5 M925.1,1318.6 v4.5 M1076.8,1637.4 v-4.5 M1076.8,1318.6 v4.5 M773.4,1530.6 h4.5 M1228.7,1530.6 h-4.5 M773.4,1424.6 h4.5 M1228.7,1424.6 h-4.5" stroke="#000" stroke-width="2" fill="none"/>
<text x="764" y="1649.6" font-size="30.5" text-anchor="end">0</text>
<text x="764" y="1543.6" font-size="30.5" text-anchor="end">1</text>
<text x="764" y="1437.6" font-size="30.5" text-anchor="end">2</text>
<text x="764" y="1331.6" font-size="30.5" text-anchor="end">3</text>
<text x="773.4" y="1677.5" font-size="30.5" text-anchor="middle">0</text>
<text x="925.1" y="1677.5" font-size="30.5" text-anchor="middle">10</text>
<text x="1076.8" y="1677.5" font-size="30.5" text-anchor="middle">20</text>
<text x="1228.5" y="1677.5" font-size="30.5" text-anchor="middle">30</text>
<text x="1001" y="1715" font-size="34" text-anchor="middle">Time (s)</text>
<text transform="translate(737,1619.3) rotate(-90)" font-size="33.8">Displacement (µm)</text>
<rect x="1005.4" y="1283" width="229.6" height="108.1" fill="#fff" stroke="#000" stroke-width="1.6"/>
<path d="M1011.5,1302.1 H1042.2" stroke="#7d0f3a" stroke-width="2"/>
<text x="1045.5" y="1312.8" font-size="27">Contraction</text>
<text x="1189.8" y="1312.8" font-size="27.5">O'</text>
<path d="M1011.5,1337.2 H1042.2" stroke="#0b2e4a" stroke-width="2"/>
<text x="1045.5" y="1347.9" font-size="27">Contraction</text>
<text x="1189.8" y="1347.9" font-size="27.5">O''</text>
<path d="M1011.5,1372.4 H1042.2" stroke="#e0ad72" stroke-width="2"/>
<text x="1045.5" y="1383.1" font-size="27">Contraction</text>
<text x="1189.8" y="1383.1" font-size="27.5">O'''</text>
</svg>
</body></html>
